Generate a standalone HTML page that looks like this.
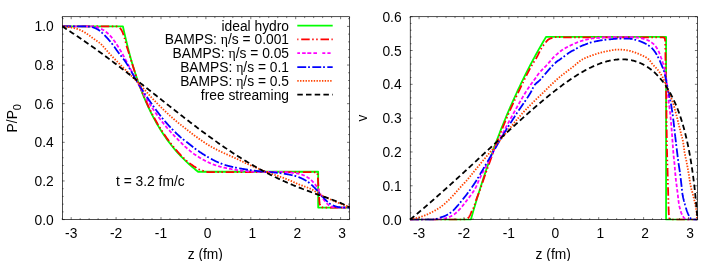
<!DOCTYPE html>
<html><head><meta charset="utf-8"><title>plot</title>
<style>
html,body{margin:0;padding:0;background:#fff;}
body{width:708px;height:261px;overflow:hidden;}
svg{display:block;}
text{font-family:"Liberation Sans",sans-serif;font-size:13.8px;fill:#000;}
.sym{font-family:"Liberation Serif",serif;}
</style></head><body>
<svg width="708" height="261" viewBox="0 0 708 261">
<rect width="708" height="261" fill="#fff"/>
<g style="opacity:0.999">
<clipPath id="cl"><rect x="61.2" y="15.7" width="289.3" height="204.9"/></clipPath>
<g clip-path="url(#cl)" fill="none" stroke-width="1.8" stroke-linejoin="round">
<path d="M62.20,26.40 L122.93,26.40 L124.21,32.20 L125.48,37.74 L126.76,43.05 L128.03,48.13 L129.30,52.99 L130.58,57.66 L131.85,62.14 L133.13,66.44 L134.40,70.58 L135.67,74.56 L136.95,78.38 L138.22,82.07 L139.50,85.62 L140.77,89.05 L142.04,92.35 L143.32,95.54 L144.59,98.62 L145.87,101.60 L147.14,104.48 L148.41,107.26 L149.69,109.96 L150.96,112.57 L152.24,115.09 L153.51,117.54 L154.79,119.91 L156.06,122.21 L157.33,124.45 L158.61,126.61 L159.88,128.72 L161.16,130.76 L162.43,132.75 L163.70,134.68 L164.98,136.55 L166.25,138.38 L167.53,140.15 L168.80,141.88 L170.07,143.56 L171.35,145.20 L172.62,146.80 L173.90,148.35 L175.17,149.87 L176.44,151.35 L177.72,152.79 L178.99,154.19 L180.27,155.56 L181.54,156.90 L182.81,158.21 L184.09,159.48 L185.36,160.73 L186.64,161.94 L187.91,163.13 L189.18,164.29 L190.46,165.43 L191.73,166.54 L193.01,167.62 L194.28,168.68 L195.55,169.72 L196.83,170.74 L198.10,171.73 L318.17,171.73 L318.17,207.53 L349.60,207.53" stroke="#00ff00"/>
<path d="M62.20,26.40 L62.61,26.40 L63.01,26.40 L63.42,26.40 L63.83,26.40 L64.24,26.40 L64.64,26.40 L65.05,26.40 L65.45,26.40 L65.86,26.40 L66.27,26.40 L66.67,26.40 L67.08,26.40 L67.48,26.40 L67.89,26.40 L68.30,26.40 L68.70,26.40 L69.11,26.40 L69.51,26.40 L69.92,26.40 L70.32,26.40 L70.73,26.40 L71.13,26.40 L71.53,26.40 L71.94,26.40 L72.34,26.40 L72.75,26.40 L73.15,26.40 L73.55,26.40 L73.96,26.40 L74.36,26.40 L74.76,26.40 L75.17,26.40 L75.57,26.40 L75.97,26.40 L76.38,26.40 L76.78,26.40 L77.18,26.40 L77.58,26.40 L77.99,26.40 L78.39,26.40 L78.79,26.40 L79.19,26.40 L79.60,26.40 L80.00,26.40 L80.40,26.40 L80.80,26.40 L81.20,26.40 L81.60,26.40 L82.00,26.40 L82.41,26.40 L82.81,26.40 L83.21,26.40 L83.61,26.40 L84.01,26.40 L84.41,26.40 L84.81,26.40 L85.21,26.40 L85.61,26.40 L86.01,26.40 L86.41,26.40 L86.81,26.40 L87.21,26.40 L87.61,26.40 L88.01,26.40 L88.41,26.40 L88.81,26.40 L89.21,26.40 L89.61,26.40 L90.01,26.40 L90.41,26.40 L90.81,26.40 L91.21,26.40 L91.61,26.40 L92.00,26.40 L92.40,26.40 L92.80,26.40 L93.20,26.40 L93.60,26.40 L94.00,26.40 L94.40,26.40 L94.79,26.40 L95.19,26.40 L95.59,26.40 L95.99,26.40 L96.39,26.40 L96.78,26.40 L97.18,26.40 L97.58,26.40 L97.98,26.40 L98.37,26.40 L98.77,26.40 L99.17,26.40 L99.57,26.40 L99.96,26.40 L100.36,26.40 L100.76,26.40 L101.16,26.40 L101.55,26.40 L101.95,26.40 L102.35,26.40 L102.74,26.40 L103.14,26.40 L103.54,26.40 L103.93,26.40 L104.33,26.40 L104.73,26.40 L105.12,26.40 L105.52,26.40 L105.91,26.40 L106.31,26.40 L106.71,26.40 L107.10,26.40 L107.50,26.40 L107.89,26.40 L108.29,26.40 L108.69,26.40 L109.08,26.40 L109.48,26.40 L109.87,26.40 L110.27,26.40 L110.66,26.40 L111.06,26.40 L111.46,26.40 L111.85,26.40 L112.25,26.40 L112.64,26.40 L113.04,26.40 L113.43,26.40 L113.83,26.40 L114.22,26.40 L114.62,26.40 L115.01,26.40 L115.41,26.40 L115.80,26.40 L116.20,26.40 L116.61,26.44 L117.01,26.50 L117.42,26.58 L117.82,26.68 L118.19,26.80 L118.54,26.92 L118.87,27.08 L119.19,27.32 L119.50,27.59 L119.80,27.90 L120.07,28.21 L120.34,28.53 L120.59,28.83 L120.82,29.14 L121.06,29.47 L121.28,29.81 L121.49,30.16 L121.69,30.51 L121.88,30.87 L122.06,31.22 L122.23,31.58 L122.39,31.94 L122.55,32.31 L122.70,32.68 L122.84,33.05 L122.98,33.43 L123.12,33.81 L123.25,34.19 L123.38,34.57 L123.51,34.95 L123.64,35.32 L123.77,35.70 L123.89,36.08 L124.02,36.46 L124.14,36.85 L124.25,37.23 L124.37,37.61 L124.48,38.00 L124.60,38.38 L124.71,38.76 L124.82,39.15 L124.93,39.53 L125.03,39.92 L125.14,40.30 L125.24,40.69 L125.34,41.08 L125.44,41.47 L125.53,41.85 L125.63,42.24 L125.72,42.63 L125.82,43.02 L125.91,43.41 L126.01,43.80 L126.11,44.19 L126.21,44.57 L126.31,44.96 L126.41,45.35 L126.52,45.73 L126.62,46.12 L126.74,46.50 L126.86,46.88 L126.98,47.26 L127.10,47.64 L127.23,48.03 L127.35,48.41 L127.47,48.79 L127.59,49.17 L127.72,49.55 L127.84,49.93 L127.96,50.31 L128.08,50.69 L128.21,51.07 L128.33,51.45 L128.45,51.83 L128.57,52.21 L128.69,52.60 L128.82,52.98 L128.94,53.36 L129.06,53.74 L129.18,54.12 L129.31,54.50 L129.43,54.88 L129.55,55.26 L129.67,55.64 L129.79,56.02 L129.91,56.40 L130.03,56.79 L130.16,57.17 L130.28,57.55 L130.39,57.93 L130.51,58.31 L130.63,58.69 L130.75,59.08 L130.87,59.46 L130.99,59.84 L131.11,60.22 L131.22,60.61 L131.34,60.99 L131.46,61.37 L131.58,61.75 L131.70,62.13 L131.82,62.52 L131.93,62.90 L132.05,63.28 L132.17,63.66 L132.29,64.04 L132.41,64.42 L132.53,64.81 L132.65,65.19 L132.77,65.57 L132.89,65.95 L133.01,66.33 L133.14,66.71 L133.26,67.09 L133.38,67.48 L133.50,67.86 L133.62,68.24 L133.75,68.62 L133.87,69.00 L133.99,69.38 L134.12,69.76 L134.24,70.14 L134.36,70.52 L134.49,70.90 L134.61,71.28 L134.74,71.66 L134.86,72.04 L134.99,72.42 L135.12,72.80 L135.24,73.18 L135.37,73.56 L135.50,73.94 L135.62,74.32 L135.75,74.70 L135.88,75.07 L136.01,75.45 L136.14,75.83 L136.27,76.21 L136.40,76.59 L136.53,76.97 L136.66,77.34 L136.79,77.72 L136.92,78.10 L137.05,78.48 L137.18,78.86 L137.32,79.23 L137.45,79.61 L137.58,79.99 L137.72,80.36 L137.85,80.74 L137.99,81.12 L138.12,81.49 L138.26,81.87 L138.40,82.25 L138.53,82.62 L138.67,83.00 L138.81,83.37 L138.95,83.75 L139.08,84.12 L139.22,84.50 L139.36,84.87 L139.50,85.25 L139.64,85.62 L139.78,86.00 L139.93,86.37 L140.07,86.74 L140.21,87.12 L140.35,87.49 L140.50,87.86 L140.64,88.24 L140.79,88.61 L140.93,88.98 L141.08,89.36 L141.23,89.73 L141.37,90.10 L141.52,90.47 L141.67,90.84 L141.82,91.21 L141.97,91.59 L142.12,91.96 L142.27,92.33 L142.42,92.70 L142.57,93.07 L142.72,93.44 L142.87,93.81 L143.03,94.18 L143.18,94.55 L143.33,94.92 L143.49,95.29 L143.64,95.65 L143.80,96.02 L143.95,96.39 L144.11,96.76 L144.27,97.13 L144.42,97.50 L144.58,97.86 L144.74,98.23 L144.90,98.60 L145.06,98.96 L145.22,99.33 L145.38,99.70 L145.54,100.06 L145.70,100.43 L145.87,100.79 L146.03,101.16 L146.19,101.52 L146.36,101.89 L146.52,102.25 L146.69,102.62 L146.85,102.98 L147.02,103.35 L147.19,103.71 L147.35,104.07 L147.52,104.44 L147.69,104.80 L147.86,105.16 L148.03,105.52 L148.20,105.88 L148.37,106.25 L148.54,106.61 L148.71,106.97 L148.89,107.33 L149.06,107.69 L149.23,108.05 L149.41,108.41 L149.58,108.77 L149.76,109.13 L149.93,109.49 L150.11,109.85 L150.29,110.21 L150.46,110.56 L150.64,110.92 L150.82,111.28 L151.00,111.64 L151.18,111.99 L151.36,112.35 L151.54,112.71 L151.73,113.06 L151.91,113.42 L152.09,113.78 L152.28,114.13 L152.46,114.49 L152.65,114.84 L152.83,115.19 L153.02,115.55 L153.21,115.90 L153.39,116.26 L153.58,116.61 L153.77,116.96 L153.96,117.31 L154.15,117.66 L154.34,118.02 L154.53,118.37 L154.72,118.72 L154.92,119.07 L155.11,119.42 L155.30,119.77 L155.50,120.12 L155.69,120.47 L155.89,120.82 L156.09,121.16 L156.28,121.51 L156.48,121.86 L156.68,122.21 L156.88,122.55 L157.08,122.90 L157.28,123.25 L157.48,123.59 L157.68,123.94 L157.89,124.28 L158.09,124.63 L158.29,124.97 L158.50,125.32 L158.70,125.66 L158.91,126.00 L159.12,126.34 L159.32,126.69 L159.53,127.03 L159.74,127.37 L159.95,127.71 L160.16,128.05 L160.37,128.39 L160.58,128.73 L160.79,129.07 L161.01,129.41 L161.22,129.75 L161.44,130.08 L161.65,130.42 L161.87,130.76 L162.08,131.09 L162.30,131.43 L162.52,131.76 L162.74,132.10 L162.96,132.43 L163.18,132.77 L163.40,133.10 L163.62,133.43 L163.84,133.77 L164.06,134.10 L164.29,134.43 L164.51,134.76 L164.74,135.09 L164.96,135.42 L165.19,135.75 L165.42,136.08 L165.65,136.41 L165.88,136.74 L166.11,137.06 L166.34,137.39 L166.57,137.72 L166.80,138.04 L167.03,138.37 L167.27,138.69 L167.50,139.02 L167.73,139.34 L167.97,139.66 L168.21,139.99 L168.44,140.31 L168.68,140.63 L168.92,140.95 L169.16,141.27 L169.40,141.59 L169.64,141.91 L169.88,142.23 L170.13,142.55 L170.37,142.86 L170.61,143.18 L170.86,143.50 L171.10,143.81 L171.35,144.13 L171.60,144.44 L171.85,144.76 L172.09,145.07 L172.34,145.38 L172.59,145.70 L172.85,146.01 L173.10,146.32 L173.35,146.63 L173.60,146.94 L173.86,147.25 L174.11,147.55 L174.37,147.86 L174.62,148.17 L174.88,148.48 L175.14,148.78 L175.40,149.09 L175.66,149.39 L175.92,149.69 L176.18,150.00 L176.44,150.30 L176.70,150.60 L176.97,150.90 L177.23,151.20 L177.50,151.50 L177.76,151.80 L178.03,152.10 L178.29,152.40 L178.56,152.70 L178.83,152.99 L179.10,153.29 L179.37,153.58 L179.64,153.88 L179.91,154.17 L180.19,154.46 L180.46,154.76 L180.73,155.05 L181.01,155.34 L181.28,155.63 L181.56,155.92 L181.84,156.21 L182.11,156.49 L182.39,156.78 L182.67,157.07 L182.95,157.35 L183.23,157.64 L183.51,157.93 L183.79,158.22 L184.06,158.51 L184.35,158.79 L184.63,159.08 L184.92,159.36 L185.21,159.63 L185.50,159.90 L185.80,160.16 L186.10,160.42 L186.40,160.68 L186.71,160.94 L187.01,161.19 L187.32,161.45 L187.63,161.70 L187.94,161.95 L188.26,162.20 L188.57,162.44 L188.89,162.69 L189.21,162.93 L189.53,163.17 L189.85,163.41 L190.17,163.65 L190.50,163.89 L190.82,164.13 L191.15,164.36 L191.47,164.60 L191.80,164.83 L192.13,165.06 L192.46,165.29 L192.79,165.52 L193.12,165.74 L193.45,165.97 L193.78,166.19 L194.12,166.41 L194.45,166.64 L194.78,166.86 L195.11,167.08 L195.45,167.30 L195.78,167.52 L196.12,167.74 L196.46,167.96 L196.80,168.18 L197.14,168.39 L197.48,168.60 L197.83,168.80 L198.18,168.99 L198.53,169.18 L198.89,169.35 L199.25,169.51 L199.61,169.66 L199.98,169.81 L200.35,169.95 L200.73,170.09 L201.11,170.23 L201.49,170.36 L201.87,170.48 L202.26,170.60 L202.64,170.72 L203.03,170.84 L203.41,170.95 L203.79,171.06 L204.18,171.17 L204.57,171.29 L204.95,171.41 L205.34,171.53 L205.73,171.65 L206.12,171.75 L206.51,171.84 L206.90,171.92 L207.30,171.98 L207.69,172.02 L208.08,172.03 L208.48,172.03 L208.87,172.03 L209.26,172.03 L209.66,172.03 L210.05,172.03 L210.44,172.03 L210.84,172.03 L211.23,172.03 L211.63,172.04 L212.02,172.04 L212.41,172.04 L212.81,172.04 L213.20,172.04 L213.60,172.04 L213.99,172.04 L214.39,172.04 L214.78,172.04 L215.18,172.04 L215.57,172.05 L215.97,172.05 L216.36,172.05 L216.76,172.05 L217.16,172.05 L217.55,172.05 L217.95,172.05 L218.34,172.05 L218.74,172.05 L219.14,172.05 L219.53,172.05 L219.93,172.05 L220.32,172.06 L220.72,172.06 L221.12,172.06 L221.51,172.06 L221.91,172.06 L222.31,172.06 L222.70,172.06 L223.10,172.06 L223.50,172.06 L223.90,172.06 L224.29,172.06 L224.69,172.06 L225.09,172.06 L225.49,172.06 L225.88,172.06 L226.28,172.07 L226.68,172.07 L227.08,172.07 L227.48,172.07 L227.87,172.07 L228.27,172.07 L228.67,172.07 L229.07,172.07 L229.47,172.07 L229.87,172.07 L230.26,172.07 L230.66,172.07 L231.06,172.07 L231.46,172.07 L231.86,172.07 L232.26,172.07 L232.66,172.07 L233.06,172.07 L233.46,172.07 L233.85,172.07 L234.25,172.07 L234.65,172.07 L235.05,172.07 L235.45,172.08 L235.85,172.08 L236.25,172.08 L236.65,172.08 L237.05,172.08 L237.45,172.08 L237.85,172.08 L238.25,172.08 L238.65,172.08 L239.05,172.08 L239.45,172.08 L239.85,172.08 L240.25,172.08 L240.65,172.08 L241.05,172.08 L241.45,172.08 L241.85,172.08 L242.25,172.08 L242.65,172.08 L243.05,172.08 L243.46,172.08 L243.86,172.08 L244.26,172.08 L244.66,172.08 L245.06,172.08 L245.46,172.08 L245.86,172.08 L246.26,172.08 L246.66,172.08 L247.06,172.08 L247.46,172.08 L247.87,172.08 L248.27,172.08 L248.67,172.08 L249.07,172.08 L249.47,172.08 L249.87,172.08 L250.27,172.08 L250.67,172.08 L251.08,172.08 L251.48,172.08 L251.88,172.08 L252.28,172.08 L252.68,172.08 L253.08,172.08 L253.49,172.08 L253.89,172.08 L254.29,172.08 L254.69,172.08 L255.09,172.08 L255.49,172.08 L255.90,172.08 L256.30,172.08 L256.70,172.09 L257.10,172.09 L257.50,172.09 L257.91,172.09 L258.31,172.09 L258.71,172.09 L259.11,172.09 L259.51,172.09 L259.92,172.09 L260.32,172.09 L260.72,172.09 L261.12,172.09 L261.52,172.09 L261.93,172.09 L262.33,172.09 L262.73,172.09 L263.13,172.09 L263.54,172.09 L263.94,172.09 L264.34,172.09 L264.74,172.09 L265.14,172.09 L265.55,172.09 L265.95,172.09 L266.35,172.09 L266.75,172.09 L267.16,172.09 L267.56,172.09 L267.96,172.09 L268.36,172.09 L268.76,172.09 L269.17,172.09 L269.57,172.09 L269.97,172.09 L270.37,172.09 L270.78,172.09 L271.18,172.09 L271.58,172.09 L271.98,172.09 L272.39,172.09 L272.79,172.09 L273.19,172.09 L273.59,172.09 L273.99,172.09 L274.40,172.09 L274.80,172.09 L275.20,172.09 L275.60,172.09 L276.01,172.09 L276.41,172.09 L276.81,172.09 L277.21,172.09 L277.61,172.09 L278.02,172.09 L278.42,172.09 L278.82,172.09 L279.22,172.09 L279.62,172.10 L280.03,172.10 L280.43,172.10 L280.83,172.10 L281.23,172.10 L281.63,172.10 L282.04,172.10 L282.44,172.10 L282.84,172.10 L283.24,172.10 L283.64,172.10 L284.05,172.10 L284.45,172.10 L284.85,172.10 L285.25,172.10 L285.65,172.10 L286.05,172.10 L286.46,172.10 L286.86,172.10 L287.26,172.10 L287.66,172.10 L288.06,172.10 L288.46,172.10 L288.86,172.10 L289.27,172.11 L289.67,172.11 L290.07,172.11 L290.47,172.11 L290.87,172.11 L291.27,172.11 L291.67,172.11 L292.07,172.11 L292.47,172.11 L292.88,172.11 L293.28,172.11 L293.68,172.11 L294.08,172.11 L294.48,172.11 L294.88,172.11 L295.28,172.12 L295.68,172.12 L296.08,172.12 L296.48,172.12 L296.88,172.12 L297.28,172.12 L297.68,172.12 L298.08,172.12 L298.48,172.12 L298.88,172.12 L299.28,172.12 L299.68,172.12 L300.08,172.13 L300.48,172.13 L300.88,172.13 L301.28,172.13 L301.68,172.13 L302.08,172.13 L302.48,172.13 L302.88,172.13 L303.29,172.13 L303.69,172.13 L304.09,172.14 L304.49,172.14 L304.89,172.14 L305.29,172.14 L305.69,172.14 L306.09,172.14 L306.49,172.15 L306.89,172.15 L307.29,172.15 L307.69,172.15 L308.09,172.16 L308.49,172.16 L308.89,172.16 L309.29,172.17 L309.69,172.17 L310.09,172.17 L310.49,172.18 L310.89,172.18 L311.29,172.18 L311.69,172.19 L312.09,172.19 L312.49,172.20 L312.89,172.20 L313.29,172.21 L313.68,172.22 L314.08,172.22 L314.49,172.23 L314.92,172.24 L315.37,172.26 L315.81,172.29 L316.20,172.33 L316.52,172.38 L316.77,172.49 L317.00,172.78 L317.20,173.18 L317.36,173.63 L317.47,174.07 L317.54,174.45 L317.60,174.83 L317.65,175.22 L317.69,175.61 L317.73,176.00 L317.77,176.40 L317.80,176.81 L317.83,177.21 L317.85,177.62 L317.88,178.02 L317.90,178.43 L317.92,178.84 L317.95,179.24 L317.98,179.64 L318.00,180.04 L318.03,180.44 L318.06,180.84 L318.09,181.24 L318.11,181.64 L318.14,182.04 L318.16,182.44 L318.19,182.84 L318.21,183.24 L318.24,183.63 L318.26,184.03 L318.28,184.43 L318.30,184.83 L318.33,185.23 L318.35,185.63 L318.37,186.03 L318.39,186.43 L318.41,186.83 L318.44,187.23 L318.46,187.63 L318.48,188.03 L318.50,188.43 L318.52,188.83 L318.54,189.23 L318.57,189.63 L318.59,190.03 L318.61,190.43 L318.63,190.83 L318.66,191.22 L318.68,191.62 L318.70,192.02 L318.73,192.42 L318.75,192.82 L318.78,193.22 L318.80,193.62 L318.83,194.02 L318.86,194.42 L318.89,194.82 L318.92,195.22 L318.94,195.61 L318.97,196.01 L319.00,196.41 L319.03,196.81 L319.05,197.21 L319.08,197.61 L319.11,198.01 L319.14,198.41 L319.17,198.81 L319.20,199.21 L319.24,199.61 L319.27,200.01 L319.31,200.41 L319.34,200.81 L319.39,201.21 L319.43,201.60 L319.47,202.00 L319.52,202.39 L319.57,202.79 L319.63,203.18 L319.68,203.59 L319.75,204.01 L319.83,204.43 L319.91,204.83 L320.02,205.23 L320.13,205.59 L320.27,205.93 L320.45,206.23 L320.73,206.54 L321.07,206.81 L321.43,207.02 L321.78,207.17 L322.15,207.29 L322.55,207.40 L322.95,207.48 L323.36,207.52 L323.75,207.53 L324.14,207.53 L324.54,207.53 L324.93,207.53 L325.33,207.53 L325.72,207.53 L326.12,207.53 L326.51,207.53 L326.91,207.53 L327.30,207.53 L327.70,207.53 L328.09,207.53 L328.49,207.53 L328.88,207.53 L329.28,207.53 L329.67,207.53 L330.07,207.53 L330.47,207.53 L330.86,207.53 L331.26,207.53 L331.65,207.53 L332.05,207.53 L332.45,207.53 L332.85,207.53 L333.24,207.53 L333.64,207.53 L334.04,207.53 L334.44,207.53 L334.84,207.53 L335.23,207.53 L335.63,207.53 L336.03,207.53 L336.43,207.53 L336.83,207.53 L337.23,207.53 L337.63,207.53 L338.03,207.53 L338.43,207.53 L338.83,207.53 L339.23,207.53 L339.63,207.53 L340.04,207.53 L340.44,207.53 L340.84,207.53 L341.24,207.53 L341.64,207.53 L342.05,207.53 L342.45,207.53 L342.85,207.53 L343.26,207.53 L343.66,207.53 L344.07,207.53 L344.47,207.53 L344.88,207.53 L345.28,207.53 L345.69,207.53 L346.09,207.53 L346.50,207.53 L346.91,207.53 L347.31,207.53 L347.72,207.53 L348.13,207.53 L348.53,207.53 L348.94,207.53 L349.35,207.53 L349.50,207.53" stroke="#ff0000" stroke-dasharray="8.5 2.5 1.5 2.5 1.5 2.8"/>
<path d="M62.20,26.40 L62.60,26.40 L63.01,26.40 L63.41,26.40 L63.81,26.40 L64.22,26.40 L64.62,26.40 L65.02,26.40 L65.42,26.40 L65.83,26.40 L66.23,26.40 L66.63,26.40 L67.03,26.40 L67.43,26.40 L67.84,26.40 L68.24,26.40 L68.64,26.40 L69.04,26.40 L69.44,26.40 L69.84,26.40 L70.24,26.40 L70.65,26.40 L71.05,26.40 L71.45,26.40 L71.85,26.40 L72.25,26.40 L72.65,26.40 L73.05,26.40 L73.45,26.40 L73.85,26.40 L74.25,26.40 L74.65,26.40 L75.05,26.40 L75.45,26.40 L75.85,26.40 L76.25,26.40 L76.65,26.40 L77.05,26.40 L77.45,26.40 L77.85,26.40 L78.25,26.40 L78.65,26.40 L79.05,26.40 L79.45,26.40 L79.85,26.40 L80.25,26.40 L80.65,26.40 L81.05,26.40 L81.45,26.40 L81.85,26.40 L82.24,26.40 L82.64,26.40 L83.04,26.40 L83.44,26.40 L83.84,26.40 L84.24,26.40 L84.64,26.40 L85.03,26.40 L85.43,26.40 L85.83,26.40 L86.23,26.40 L86.63,26.40 L87.03,26.40 L87.42,26.40 L87.82,26.40 L88.22,26.40 L88.62,26.40 L89.02,26.40 L89.41,26.40 L89.81,26.40 L90.21,26.40 L90.61,26.40 L91.01,26.40 L91.40,26.40 L91.80,26.40 L92.20,26.40 L92.60,26.41 L93.00,26.44 L93.40,26.47 L93.80,26.52 L94.20,26.57 L94.60,26.63 L95.00,26.70 L95.40,26.77 L95.79,26.84 L96.18,26.92 L96.57,27.01 L96.95,27.09 L97.33,27.19 L97.71,27.31 L98.08,27.45 L98.45,27.61 L98.82,27.78 L99.19,27.95 L99.55,28.13 L99.91,28.31 L100.27,28.48 L100.63,28.65 L100.99,28.83 L101.36,29.00 L101.72,29.18 L102.08,29.37 L102.43,29.55 L102.79,29.74 L103.14,29.94 L103.49,30.14 L103.83,30.34 L104.17,30.55 L104.50,30.77 L104.82,30.99 L105.15,31.21 L105.47,31.44 L105.78,31.68 L106.10,31.93 L106.41,32.18 L106.72,32.44 L107.03,32.70 L107.33,32.96 L107.63,33.23 L107.93,33.50 L108.22,33.78 L108.52,34.06 L108.81,34.34 L109.09,34.63 L109.38,34.91 L109.66,35.20 L109.94,35.49 L110.21,35.78 L110.49,36.07 L110.75,36.36 L111.02,36.65 L111.28,36.95 L111.54,37.26 L111.80,37.56 L112.05,37.88 L112.30,38.19 L112.54,38.51 L112.79,38.83 L113.03,39.15 L113.27,39.47 L113.50,39.80 L113.74,40.12 L113.97,40.45 L114.21,40.77 L114.44,41.10 L114.67,41.42 L114.90,41.75 L115.13,42.08 L115.36,42.40 L115.58,42.73 L115.81,43.07 L116.03,43.40 L116.25,43.73 L116.47,44.06 L116.69,44.40 L116.91,44.73 L117.13,45.07 L117.35,45.41 L117.56,45.74 L117.78,46.08 L117.99,46.42 L118.20,46.76 L118.41,47.10 L118.62,47.44 L118.83,47.78 L119.04,48.12 L119.25,48.47 L119.46,48.81 L119.67,49.15 L119.87,49.49 L120.08,49.83 L120.28,50.18 L120.49,50.52 L120.69,50.87 L120.89,51.21 L121.09,51.56 L121.29,51.91 L121.48,52.25 L121.68,52.60 L121.87,52.95 L122.07,53.30 L122.26,53.65 L122.46,54.00 L122.65,54.35 L122.84,54.70 L123.03,55.06 L123.23,55.41 L123.42,55.76 L123.61,56.11 L123.80,56.46 L124.00,56.81 L124.19,57.16 L124.38,57.51 L124.57,57.86 L124.76,58.21 L124.95,58.57 L125.14,58.92 L125.33,59.27 L125.52,59.62 L125.71,59.97 L125.90,60.33 L126.09,60.68 L126.28,61.03 L126.47,61.38 L126.66,61.74 L126.84,62.09 L127.03,62.44 L127.22,62.80 L127.41,63.15 L127.60,63.50 L127.78,63.86 L127.97,64.21 L128.16,64.56 L128.34,64.92 L128.53,65.27 L128.72,65.63 L128.90,65.98 L129.09,66.33 L129.27,66.69 L129.46,67.04 L129.64,67.40 L129.83,67.75 L130.02,68.11 L130.20,68.46 L130.39,68.82 L130.57,69.17 L130.76,69.52 L130.94,69.88 L131.13,70.23 L131.31,70.59 L131.49,70.94 L131.68,71.30 L131.86,71.65 L132.05,72.01 L132.23,72.36 L132.42,72.72 L132.60,73.07 L132.79,73.43 L132.97,73.78 L133.16,74.14 L133.34,74.49 L133.53,74.85 L133.71,75.20 L133.90,75.55 L134.09,75.91 L134.27,76.26 L134.46,76.62 L134.64,76.97 L134.83,77.33 L135.02,77.68 L135.20,78.03 L135.39,78.39 L135.58,78.74 L135.76,79.09 L135.95,79.45 L136.14,79.80 L136.33,80.15 L136.51,80.51 L136.70,80.86 L136.89,81.21 L137.08,81.56 L137.27,81.92 L137.46,82.27 L137.65,82.62 L137.84,82.98 L138.02,83.33 L138.21,83.68 L138.40,84.04 L138.59,84.39 L138.77,84.74 L138.96,85.10 L139.15,85.45 L139.34,85.81 L139.52,86.16 L139.71,86.51 L139.90,86.87 L140.08,87.22 L140.27,87.58 L140.46,87.93 L140.65,88.29 L140.83,88.64 L141.02,88.99 L141.21,89.35 L141.40,89.70 L141.59,90.05 L141.78,90.41 L141.97,90.76 L142.15,91.11 L142.34,91.47 L142.54,91.82 L142.73,92.17 L142.92,92.52 L143.11,92.87 L143.30,93.23 L143.49,93.58 L143.69,93.93 L143.88,94.28 L144.07,94.63 L144.27,94.97 L144.47,95.32 L144.66,95.67 L144.86,96.02 L145.06,96.37 L145.26,96.71 L145.45,97.06 L145.65,97.40 L145.86,97.75 L146.06,98.09 L146.26,98.44 L146.46,98.78 L146.67,99.12 L146.87,99.46 L147.08,99.80 L147.29,100.14 L147.50,100.48 L147.71,100.82 L147.91,101.16 L148.12,101.50 L148.34,101.84 L148.55,102.18 L148.76,102.52 L148.97,102.86 L149.18,103.20 L149.40,103.54 L149.61,103.87 L149.83,104.21 L150.04,104.55 L150.26,104.89 L150.47,105.22 L150.69,105.56 L150.91,105.90 L151.13,106.23 L151.35,106.57 L151.56,106.90 L151.78,107.24 L152.01,107.57 L152.23,107.91 L152.45,108.24 L152.67,108.58 L152.89,108.91 L153.12,109.24 L153.34,109.58 L153.56,109.91 L153.79,110.24 L154.02,110.57 L154.24,110.90 L154.47,111.24 L154.70,111.57 L154.92,111.90 L155.15,112.23 L155.38,112.56 L155.61,112.89 L155.84,113.21 L156.07,113.54 L156.30,113.87 L156.53,114.20 L156.77,114.52 L157.00,114.85 L157.23,115.18 L157.47,115.50 L157.70,115.83 L157.93,116.15 L158.17,116.48 L158.41,116.80 L158.64,117.12 L158.88,117.44 L159.12,117.77 L159.36,118.09 L159.59,118.41 L159.83,118.73 L160.07,119.05 L160.31,119.37 L160.55,119.69 L160.80,120.01 L161.04,120.32 L161.28,120.64 L161.52,120.96 L161.77,121.27 L162.01,121.59 L162.25,121.90 L162.50,122.22 L162.74,122.53 L162.99,122.84 L163.24,123.15 L163.48,123.47 L163.73,123.78 L163.98,124.09 L164.23,124.40 L164.48,124.71 L164.74,125.02 L164.99,125.33 L165.24,125.64 L165.50,125.94 L165.75,126.25 L166.01,126.56 L166.27,126.87 L166.53,127.17 L166.78,127.48 L167.04,127.78 L167.30,128.09 L167.56,128.39 L167.83,128.70 L168.09,129.00 L168.35,129.30 L168.62,129.61 L168.88,129.91 L169.14,130.21 L169.41,130.51 L169.68,130.81 L169.94,131.11 L170.21,131.41 L170.48,131.71 L170.75,132.01 L171.02,132.30 L171.29,132.60 L171.56,132.90 L171.83,133.19 L172.10,133.49 L172.38,133.78 L172.65,134.07 L172.92,134.37 L173.20,134.66 L173.47,134.95 L173.75,135.24 L174.02,135.53 L174.30,135.82 L174.57,136.11 L174.85,136.40 L175.13,136.69 L175.41,136.97 L175.69,137.26 L175.96,137.55 L176.24,137.83 L176.52,138.12 L176.80,138.40 L177.08,138.68 L177.36,138.96 L177.65,139.25 L177.93,139.53 L178.21,139.81 L178.49,140.10 L178.77,140.38 L179.06,140.66 L179.34,140.95 L179.62,141.23 L179.91,141.52 L180.19,141.80 L180.48,142.08 L180.76,142.37 L181.05,142.65 L181.34,142.94 L181.62,143.22 L181.91,143.50 L182.20,143.78 L182.49,144.07 L182.78,144.35 L183.07,144.63 L183.36,144.91 L183.65,145.19 L183.94,145.47 L184.24,145.74 L184.53,146.02 L184.82,146.30 L185.12,146.57 L185.41,146.85 L185.71,147.12 L186.01,147.40 L186.30,147.67 L186.60,147.94 L186.90,148.21 L187.20,148.48 L187.50,148.74 L187.80,149.01 L188.11,149.27 L188.41,149.53 L188.71,149.80 L189.02,150.06 L189.32,150.31 L189.63,150.57 L189.94,150.82 L190.25,151.08 L190.56,151.33 L190.87,151.58 L191.18,151.83 L191.49,152.07 L191.80,152.32 L192.12,152.56 L192.43,152.80 L192.75,153.04 L193.06,153.27 L193.38,153.50 L193.70,153.74 L194.02,153.96 L194.34,154.19 L194.67,154.42 L194.99,154.64 L195.32,154.86 L195.64,155.08 L195.97,155.30 L196.30,155.52 L196.63,155.74 L196.97,155.96 L197.30,156.18 L197.64,156.39 L197.98,156.61 L198.31,156.82 L198.65,157.03 L198.99,157.24 L199.34,157.45 L199.68,157.66 L200.03,157.87 L200.37,158.08 L200.72,158.28 L201.07,158.49 L201.41,158.69 L201.76,158.89 L202.12,159.09 L202.47,159.29 L202.82,159.49 L203.17,159.68 L203.53,159.88 L203.88,160.07 L204.24,160.26 L204.60,160.45 L204.95,160.64 L205.31,160.82 L205.67,161.01 L206.03,161.19 L206.39,161.37 L206.75,161.55 L207.11,161.72 L207.47,161.90 L207.83,162.07 L208.20,162.24 L208.56,162.41 L208.92,162.58 L209.28,162.75 L209.65,162.91 L210.01,163.07 L210.38,163.23 L210.74,163.39 L211.10,163.54 L211.47,163.70 L211.84,163.85 L212.21,164.00 L212.58,164.15 L212.95,164.29 L213.32,164.44 L213.70,164.58 L214.07,164.72 L214.45,164.86 L214.82,165.00 L215.20,165.13 L215.58,165.27 L215.96,165.40 L216.34,165.53 L216.72,165.65 L217.11,165.78 L217.49,165.90 L217.87,166.02 L218.25,166.14 L218.64,166.25 L219.02,166.36 L219.40,166.47 L219.79,166.58 L220.17,166.69 L220.56,166.79 L220.94,166.89 L221.33,166.99 L221.72,167.09 L222.11,167.19 L222.50,167.28 L222.89,167.38 L223.28,167.47 L223.67,167.56 L224.06,167.65 L224.45,167.73 L224.84,167.82 L225.23,167.90 L225.62,167.98 L226.02,168.07 L226.41,168.14 L226.80,168.22 L227.19,168.30 L227.58,168.37 L227.98,168.45 L228.37,168.52 L228.76,168.60 L229.16,168.68 L229.55,168.75 L229.94,168.83 L230.33,168.90 L230.73,168.97 L231.12,169.05 L231.52,169.12 L231.91,169.19 L232.30,169.27 L232.70,169.34 L233.09,169.41 L233.49,169.48 L233.88,169.55 L234.28,169.62 L234.67,169.69 L235.07,169.76 L235.46,169.82 L235.86,169.89 L236.25,169.95 L236.65,170.02 L237.04,170.08 L237.44,170.14 L237.84,170.20 L238.23,170.26 L238.63,170.32 L239.03,170.38 L239.42,170.43 L239.82,170.49 L240.22,170.54 L240.61,170.59 L241.01,170.64 L241.41,170.69 L241.80,170.73 L242.20,170.78 L242.60,170.82 L242.99,170.86 L243.39,170.90 L243.79,170.94 L244.19,170.97 L244.58,171.01 L244.98,171.04 L245.38,171.07 L245.78,171.11 L246.17,171.14 L246.57,171.17 L246.97,171.20 L247.37,171.23 L247.77,171.26 L248.17,171.29 L248.57,171.32 L248.97,171.35 L249.37,171.38 L249.76,171.41 L250.16,171.44 L250.56,171.46 L250.96,171.49 L251.36,171.51 L251.76,171.54 L252.16,171.56 L252.56,171.58 L252.96,171.60 L253.36,171.62 L253.76,171.64 L254.16,171.65 L254.56,171.67 L254.96,171.68 L255.36,171.69 L255.76,171.70 L256.16,171.71 L256.56,171.72 L256.96,171.72 L257.36,171.73 L257.76,171.73 L258.16,171.74 L258.56,171.74 L258.96,171.74 L259.36,171.74 L259.76,171.75 L260.16,171.75 L260.56,171.75 L260.96,171.75 L261.36,171.76 L261.76,171.76 L262.16,171.76 L262.56,171.76 L262.96,171.76 L263.36,171.76 L263.76,171.76 L264.16,171.77 L264.56,171.77 L264.96,171.77 L265.36,171.77 L265.76,171.77 L266.16,171.77 L266.56,171.77 L266.96,171.77 L267.36,171.77 L267.76,171.77 L268.16,171.78 L268.56,171.78 L268.96,171.78 L269.36,171.78 L269.76,171.78 L270.16,171.78 L270.56,171.78 L270.96,171.78 L271.36,171.78 L271.76,171.79 L272.16,171.79 L272.56,171.79 L272.96,171.79 L273.36,171.79 L273.76,171.79 L274.16,171.80 L274.56,171.80 L274.96,171.80 L275.36,171.80 L275.76,171.81 L276.16,171.81 L276.56,171.81 L276.96,171.82 L277.36,171.82 L277.76,171.82 L278.16,171.83 L278.56,171.83 L278.96,171.84 L279.36,171.85 L279.76,171.86 L280.16,171.88 L280.56,171.89 L280.96,171.91 L281.36,171.93 L281.76,171.95 L282.16,171.97 L282.56,171.99 L282.96,172.01 L283.36,172.04 L283.76,172.06 L284.16,172.08 L284.56,172.11 L284.96,172.13 L285.35,172.16 L285.75,172.18 L286.15,172.21 L286.55,172.24 L286.95,172.26 L287.35,172.29 L287.75,172.32 L288.15,172.35 L288.55,172.39 L288.95,172.42 L289.34,172.46 L289.74,172.50 L290.14,172.53 L290.54,172.57 L290.94,172.61 L291.34,172.65 L291.73,172.70 L292.13,172.74 L292.53,172.79 L292.93,172.83 L293.32,172.88 L293.72,172.93 L294.12,172.98 L294.51,173.03 L294.91,173.08 L295.31,173.14 L295.71,173.20 L296.10,173.26 L296.50,173.32 L296.89,173.39 L297.29,173.46 L297.68,173.53 L298.07,173.61 L298.46,173.69 L298.85,173.77 L299.24,173.85 L299.63,173.95 L300.01,174.05 L300.40,174.16 L300.79,174.27 L301.17,174.39 L301.55,174.51 L301.94,174.64 L302.32,174.78 L302.69,174.92 L303.07,175.06 L303.44,175.21 L303.81,175.36 L304.18,175.52 L304.54,175.67 L304.90,175.84 L305.26,176.01 L305.62,176.19 L305.97,176.38 L306.32,176.57 L306.67,176.77 L307.02,176.98 L307.36,177.20 L307.70,177.42 L308.04,177.64 L308.37,177.87 L308.69,178.10 L309.01,178.33 L309.32,178.57 L309.63,178.81 L309.94,179.06 L310.25,179.32 L310.55,179.58 L310.85,179.84 L311.15,180.11 L311.45,180.39 L311.74,180.67 L312.03,180.95 L312.31,181.24 L312.60,181.53 L312.88,181.82 L313.15,182.12 L313.42,182.41 L313.69,182.71 L313.96,183.02 L314.22,183.32 L314.47,183.62 L314.72,183.93 L314.97,184.24 L315.22,184.55 L315.46,184.87 L315.70,185.19 L315.93,185.52 L316.16,185.85 L316.39,186.18 L316.61,186.52 L316.82,186.86 L317.03,187.20 L317.24,187.54 L317.44,187.89 L317.63,188.24 L317.81,188.59 L317.99,188.95 L318.15,189.31 L318.32,189.68 L318.48,190.04 L318.64,190.41 L318.80,190.78 L318.96,191.15 L319.12,191.52 L319.29,191.88 L319.47,192.24 L319.65,192.59 L319.83,192.95 L320.02,193.30 L320.21,193.66 L320.40,194.01 L320.59,194.37 L320.78,194.73 L320.97,195.08 L321.17,195.44 L321.37,195.79 L321.56,196.14 L321.77,196.50 L321.97,196.85 L322.18,197.19 L322.38,197.54 L322.60,197.88 L322.81,198.22 L323.03,198.56 L323.25,198.89 L323.47,199.22 L323.70,199.55 L323.93,199.87 L324.16,200.19 L324.40,200.50 L324.64,200.80 L324.89,201.11 L325.14,201.41 L325.40,201.72 L325.66,202.03 L325.93,202.34 L326.20,202.65 L326.48,202.96 L326.76,203.26 L327.05,203.56 L327.34,203.86 L327.64,204.14 L327.94,204.42 L328.25,204.69 L328.56,204.94 L328.88,205.18 L329.20,205.41 L329.52,205.62 L329.85,205.82 L330.19,205.99 L330.53,206.16 L330.88,206.33 L331.25,206.49 L331.62,206.65 L332.00,206.80 L332.39,206.94 L332.78,207.07 L333.18,207.18 L333.57,207.27 L333.97,207.34 L334.36,207.39 L334.75,207.42 L335.15,207.44 L335.55,207.46 L335.95,207.48 L336.35,207.49 L336.75,207.51 L337.15,207.52 L337.56,207.52 L337.96,207.52 L338.36,207.53 L338.76,207.53 L339.16,207.53 L339.56,207.53 L339.96,207.53 L340.36,207.53 L340.76,207.53 L341.16,207.53 L341.56,207.53 L341.96,207.53 L342.36,207.53 L342.76,207.53 L343.16,207.53 L343.56,207.53 L343.96,207.53 L344.36,207.53 L344.76,207.53 L345.16,207.53 L345.56,207.53 L345.96,207.53 L346.36,207.53 L346.76,207.53 L347.16,207.53 L347.56,207.53 L347.96,207.53 L348.36,207.53 L348.76,207.53 L349.16,207.53 L349.56,207.53 L349.70,207.53" stroke="#ff00ff" stroke-dasharray="3.6 2"/>
<path d="M62.20,26.40 L62.60,26.40 L63.00,26.40 L63.40,26.40 L63.81,26.40 L64.21,26.40 L64.61,26.40 L65.01,26.40 L65.41,26.40 L65.81,26.40 L66.21,26.40 L66.61,26.40 L67.01,26.40 L67.42,26.40 L67.82,26.40 L68.22,26.40 L68.62,26.40 L69.02,26.40 L69.42,26.40 L69.82,26.40 L70.22,26.40 L70.62,26.40 L71.02,26.40 L71.42,26.40 L71.82,26.40 L72.22,26.40 L72.62,26.40 L73.02,26.40 L73.42,26.40 L73.82,26.40 L74.22,26.40 L74.62,26.40 L75.02,26.40 L75.42,26.40 L75.82,26.40 L76.22,26.40 L76.62,26.40 L77.02,26.40 L77.42,26.40 L77.82,26.40 L78.22,26.40 L78.62,26.40 L79.02,26.40 L79.42,26.40 L79.82,26.40 L80.21,26.40 L80.61,26.40 L81.01,26.40 L81.41,26.40 L81.81,26.40 L82.21,26.40 L82.61,26.40 L83.01,26.40 L83.41,26.40 L83.81,26.40 L84.21,26.40 L84.60,26.40 L85.00,26.40 L85.40,26.40 L85.80,26.40 L86.20,26.40 L86.60,26.41 L87.00,26.43 L87.40,26.45 L87.80,26.48 L88.21,26.52 L88.61,26.57 L89.01,26.61 L89.41,26.67 L89.80,26.72 L90.20,26.78 L90.59,26.84 L90.98,26.90 L91.36,26.96 L91.75,27.04 L92.14,27.13 L92.53,27.23 L92.92,27.34 L93.31,27.46 L93.69,27.59 L94.08,27.73 L94.46,27.88 L94.84,28.03 L95.22,28.19 L95.59,28.35 L95.96,28.52 L96.33,28.69 L96.69,28.87 L97.04,29.05 L97.39,29.23 L97.73,29.41 L98.07,29.59 L98.40,29.79 L98.73,29.99 L99.05,30.21 L99.37,30.43 L99.69,30.67 L100.00,30.92 L100.31,31.17 L100.62,31.43 L100.92,31.69 L101.22,31.96 L101.52,32.24 L101.82,32.52 L102.11,32.81 L102.41,33.09 L102.70,33.38 L102.99,33.67 L103.28,33.96 L103.56,34.25 L103.85,34.54 L104.13,34.83 L104.42,35.12 L104.70,35.40 L104.98,35.68 L105.26,35.96 L105.54,36.25 L105.82,36.53 L106.10,36.82 L106.37,37.11 L106.65,37.40 L106.92,37.70 L107.19,37.99 L107.46,38.29 L107.73,38.58 L107.99,38.88 L108.26,39.18 L108.52,39.49 L108.79,39.79 L109.05,40.09 L109.31,40.40 L109.57,40.71 L109.83,41.01 L110.08,41.32 L110.34,41.63 L110.59,41.94 L110.85,42.25 L111.10,42.56 L111.35,42.87 L111.60,43.18 L111.85,43.49 L112.10,43.80 L112.34,44.12 L112.59,44.43 L112.83,44.75 L113.07,45.07 L113.31,45.39 L113.54,45.71 L113.78,46.04 L114.01,46.36 L114.25,46.69 L114.48,47.01 L114.71,47.34 L114.94,47.67 L115.17,47.99 L115.40,48.32 L115.63,48.65 L115.86,48.98 L116.09,49.30 L116.32,49.63 L116.55,49.96 L116.78,50.29 L117.02,50.61 L117.25,50.94 L117.48,51.27 L117.71,51.59 L117.95,51.92 L118.19,52.24 L118.42,52.56 L118.66,52.88 L118.90,53.20 L119.14,53.52 L119.39,53.84 L119.63,54.15 L119.88,54.47 L120.13,54.78 L120.38,55.10 L120.63,55.41 L120.88,55.73 L121.13,56.04 L121.38,56.35 L121.63,56.67 L121.88,56.98 L122.13,57.29 L122.38,57.61 L122.62,57.92 L122.87,58.24 L123.12,58.55 L123.36,58.87 L123.61,59.19 L123.85,59.50 L124.09,59.82 L124.33,60.14 L124.56,60.47 L124.79,60.79 L125.03,61.11 L125.25,61.44 L125.48,61.77 L125.70,62.10 L125.92,62.43 L126.14,62.76 L126.36,63.09 L126.57,63.43 L126.79,63.76 L127.00,64.10 L127.21,64.44 L127.43,64.78 L127.63,65.12 L127.84,65.46 L128.05,65.80 L128.26,66.14 L128.46,66.48 L128.66,66.83 L128.87,67.17 L129.07,67.52 L129.27,67.86 L129.47,68.21 L129.67,68.56 L129.87,68.90 L130.07,69.25 L130.26,69.60 L130.46,69.95 L130.66,70.30 L130.85,70.65 L131.05,71.00 L131.25,71.35 L131.44,71.70 L131.64,72.05 L131.83,72.40 L132.03,72.75 L132.22,73.10 L132.41,73.45 L132.61,73.80 L132.80,74.15 L133.00,74.50 L133.19,74.85 L133.39,75.20 L133.58,75.55 L133.78,75.90 L133.98,76.25 L134.17,76.60 L134.37,76.95 L134.57,77.30 L134.77,77.65 L134.97,78.00 L135.17,78.34 L135.37,78.69 L135.57,79.04 L135.77,79.38 L135.97,79.73 L136.18,80.07 L136.38,80.42 L136.59,80.76 L136.79,81.10 L137.00,81.44 L137.21,81.78 L137.42,82.12 L137.63,82.46 L137.84,82.80 L138.05,83.14 L138.26,83.48 L138.47,83.82 L138.68,84.16 L138.90,84.50 L139.11,84.84 L139.32,85.18 L139.53,85.52 L139.74,85.86 L139.95,86.20 L140.17,86.54 L140.38,86.88 L140.59,87.22 L140.81,87.56 L141.02,87.89 L141.23,88.23 L141.45,88.57 L141.66,88.91 L141.88,89.25 L142.09,89.58 L142.31,89.92 L142.52,90.26 L142.74,90.60 L142.96,90.93 L143.17,91.27 L143.39,91.61 L143.61,91.94 L143.83,92.28 L144.04,92.61 L144.26,92.95 L144.48,93.28 L144.70,93.62 L144.92,93.95 L145.14,94.29 L145.36,94.62 L145.58,94.95 L145.80,95.29 L146.02,95.62 L146.25,95.95 L146.47,96.29 L146.69,96.62 L146.91,96.95 L147.14,97.28 L147.36,97.61 L147.59,97.94 L147.81,98.27 L148.04,98.60 L148.26,98.93 L148.49,99.26 L148.72,99.59 L148.94,99.92 L149.17,100.25 L149.40,100.58 L149.63,100.90 L149.86,101.23 L150.08,101.56 L150.31,101.89 L150.54,102.22 L150.77,102.54 L151.00,102.87 L151.23,103.20 L151.46,103.53 L151.69,103.86 L151.92,104.18 L152.15,104.51 L152.38,104.84 L152.61,105.17 L152.85,105.49 L153.08,105.82 L153.31,106.15 L153.54,106.47 L153.78,106.80 L154.01,107.13 L154.24,107.45 L154.48,107.78 L154.71,108.10 L154.95,108.43 L155.18,108.75 L155.42,109.08 L155.66,109.40 L155.89,109.73 L156.13,110.05 L156.37,110.37 L156.61,110.69 L156.84,111.02 L157.08,111.34 L157.32,111.66 L157.56,111.98 L157.80,112.30 L158.05,112.62 L158.29,112.94 L158.53,113.26 L158.77,113.58 L159.02,113.90 L159.26,114.21 L159.50,114.53 L159.75,114.85 L159.99,115.16 L160.24,115.48 L160.49,115.79 L160.73,116.11 L160.98,116.42 L161.23,116.73 L161.48,117.05 L161.73,117.36 L161.98,117.67 L162.23,117.98 L162.48,118.29 L162.74,118.59 L162.99,118.90 L163.25,119.21 L163.50,119.51 L163.76,119.82 L164.01,120.12 L164.27,120.43 L164.53,120.73 L164.79,121.03 L165.04,121.34 L165.30,121.64 L165.57,121.94 L165.83,122.24 L166.09,122.54 L166.35,122.84 L166.62,123.14 L166.88,123.44 L167.15,123.74 L167.41,124.04 L167.68,124.34 L167.95,124.64 L168.22,124.93 L168.49,125.23 L168.76,125.53 L169.03,125.82 L169.30,126.12 L169.57,126.41 L169.84,126.71 L170.12,127.00 L170.39,127.30 L170.66,127.59 L170.94,127.88 L171.22,128.17 L171.49,128.46 L171.77,128.75 L172.05,129.04 L172.33,129.33 L172.61,129.62 L172.89,129.91 L173.17,130.19 L173.45,130.48 L173.74,130.76 L174.02,131.05 L174.30,131.33 L174.59,131.61 L174.87,131.90 L175.16,132.18 L175.45,132.46 L175.73,132.74 L176.02,133.02 L176.31,133.29 L176.60,133.57 L176.89,133.84 L177.18,134.12 L177.47,134.39 L177.76,134.67 L178.06,134.94 L178.35,135.21 L178.64,135.48 L178.94,135.75 L179.23,136.01 L179.53,136.28 L179.83,136.54 L180.12,136.81 L180.42,137.07 L180.72,137.33 L181.03,137.59 L181.33,137.85 L181.64,138.10 L181.95,138.35 L182.26,138.61 L182.57,138.86 L182.88,139.11 L183.19,139.35 L183.51,139.60 L183.82,139.85 L184.14,140.09 L184.46,140.34 L184.78,140.58 L185.10,140.82 L185.41,141.07 L185.73,141.31 L186.05,141.55 L186.37,141.79 L186.69,142.04 L187.01,142.28 L187.33,142.52 L187.65,142.76 L187.97,143.01 L188.29,143.25 L188.61,143.49 L188.92,143.74 L189.24,143.98 L189.55,144.23 L189.87,144.48 L190.18,144.73 L190.50,144.97 L190.81,145.22 L191.12,145.47 L191.44,145.72 L191.75,145.97 L192.07,146.22 L192.38,146.47 L192.69,146.72 L193.01,146.96 L193.32,147.21 L193.64,147.46 L193.96,147.71 L194.27,147.95 L194.59,148.20 L194.90,148.44 L195.22,148.68 L195.54,148.93 L195.86,149.17 L196.18,149.41 L196.50,149.64 L196.82,149.88 L197.15,150.11 L197.47,150.35 L197.80,150.58 L198.12,150.81 L198.45,151.03 L198.78,151.26 L199.11,151.49 L199.44,151.71 L199.77,151.93 L200.10,152.16 L200.43,152.38 L200.76,152.60 L201.10,152.82 L201.43,153.05 L201.77,153.26 L202.10,153.48 L202.44,153.70 L202.77,153.92 L203.11,154.14 L203.45,154.35 L203.79,154.57 L204.13,154.78 L204.47,154.99 L204.81,155.21 L205.15,155.42 L205.49,155.63 L205.83,155.83 L206.18,156.04 L206.52,156.25 L206.86,156.45 L207.21,156.66 L207.55,156.86 L207.90,157.06 L208.25,157.26 L208.59,157.46 L208.94,157.66 L209.29,157.86 L209.64,158.05 L209.99,158.25 L210.34,158.44 L210.69,158.63 L211.04,158.82 L211.39,159.01 L211.74,159.20 L212.09,159.38 L212.45,159.57 L212.80,159.76 L213.16,159.94 L213.51,160.12 L213.87,160.31 L214.23,160.49 L214.59,160.67 L214.95,160.84 L215.31,161.02 L215.67,161.19 L216.03,161.37 L216.39,161.54 L216.76,161.71 L217.12,161.87 L217.49,162.04 L217.85,162.20 L218.22,162.36 L218.58,162.52 L218.95,162.67 L219.32,162.83 L219.69,162.98 L220.06,163.13 L220.43,163.27 L220.80,163.42 L221.17,163.57 L221.55,163.71 L221.92,163.85 L222.30,164.00 L222.68,164.14 L223.05,164.27 L223.43,164.41 L223.81,164.54 L224.19,164.67 L224.57,164.80 L224.95,164.93 L225.33,165.05 L225.71,165.17 L226.09,165.28 L226.48,165.40 L226.86,165.51 L227.24,165.61 L227.63,165.71 L228.01,165.82 L228.40,165.92 L228.78,166.02 L229.17,166.12 L229.56,166.21 L229.94,166.31 L230.33,166.40 L230.72,166.50 L231.11,166.59 L231.50,166.68 L231.89,166.77 L232.28,166.86 L232.67,166.95 L233.06,167.04 L233.45,167.12 L233.84,167.21 L234.23,167.29 L234.62,167.38 L235.02,167.46 L235.41,167.54 L235.80,167.62 L236.19,167.70 L236.59,167.78 L236.98,167.86 L237.38,167.93 L237.77,168.01 L238.16,168.09 L238.56,168.16 L238.95,168.24 L239.35,168.31 L239.74,168.38 L240.14,168.45 L240.53,168.52 L240.92,168.59 L241.32,168.66 L241.71,168.73 L242.11,168.80 L242.50,168.87 L242.90,168.93 L243.29,169.00 L243.69,169.07 L244.08,169.13 L244.47,169.20 L244.87,169.26 L245.26,169.32 L245.66,169.39 L246.05,169.45 L246.45,169.51 L246.84,169.57 L247.24,169.63 L247.63,169.69 L248.03,169.75 L248.42,169.81 L248.82,169.87 L249.21,169.93 L249.61,169.99 L250.01,170.05 L250.40,170.10 L250.80,170.16 L251.19,170.22 L251.59,170.27 L251.99,170.33 L252.38,170.38 L252.78,170.44 L253.18,170.49 L253.57,170.54 L253.97,170.59 L254.37,170.65 L254.77,170.70 L255.16,170.75 L255.56,170.80 L255.96,170.85 L256.35,170.90 L256.75,170.95 L257.15,170.99 L257.55,171.04 L257.94,171.09 L258.34,171.13 L258.74,171.18 L259.14,171.22 L259.53,171.27 L259.93,171.31 L260.33,171.36 L260.73,171.40 L261.12,171.44 L261.52,171.48 L261.92,171.52 L262.32,171.56 L262.72,171.60 L263.11,171.64 L263.51,171.67 L263.91,171.71 L264.31,171.74 L264.71,171.78 L265.11,171.81 L265.51,171.84 L265.90,171.87 L266.30,171.90 L266.70,171.93 L267.10,171.96 L267.50,171.99 L267.90,172.02 L268.30,172.05 L268.70,172.08 L269.10,172.11 L269.50,172.13 L269.90,172.16 L270.30,172.19 L270.70,172.22 L271.10,172.25 L271.50,172.28 L271.89,172.31 L272.29,172.34 L272.69,172.37 L273.09,172.41 L273.49,172.44 L273.89,172.47 L274.29,172.51 L274.68,172.55 L275.08,172.58 L275.48,172.62 L275.88,172.66 L276.27,172.70 L276.67,172.74 L277.07,172.79 L277.46,172.83 L277.86,172.88 L278.26,172.92 L278.66,172.97 L279.05,173.02 L279.45,173.07 L279.85,173.12 L280.25,173.17 L280.65,173.22 L281.05,173.27 L281.45,173.33 L281.85,173.38 L282.24,173.44 L282.64,173.50 L283.04,173.55 L283.44,173.61 L283.84,173.67 L284.24,173.73 L284.64,173.80 L285.03,173.86 L285.43,173.93 L285.83,173.99 L286.23,174.06 L286.62,174.13 L287.02,174.20 L287.42,174.27 L287.81,174.34 L288.21,174.41 L288.60,174.49 L288.99,174.57 L289.39,174.64 L289.78,174.72 L290.17,174.80 L290.56,174.88 L290.95,174.97 L291.34,175.05 L291.73,175.14 L292.11,175.22 L292.50,175.31 L292.88,175.40 L293.27,175.49 L293.65,175.59 L294.03,175.68 L294.41,175.78 L294.79,175.88 L295.17,175.98 L295.55,176.09 L295.94,176.20 L296.32,176.32 L296.70,176.44 L297.08,176.57 L297.46,176.70 L297.84,176.83 L298.22,176.97 L298.60,177.11 L298.98,177.26 L299.36,177.41 L299.74,177.56 L300.12,177.71 L300.49,177.87 L300.86,178.04 L301.24,178.20 L301.61,178.37 L301.98,178.54 L302.34,178.72 L302.71,178.89 L303.07,179.07 L303.43,179.25 L303.79,179.44 L304.14,179.62 L304.50,179.81 L304.85,180.00 L305.19,180.19 L305.54,180.38 L305.88,180.58 L306.22,180.77 L306.55,180.97 L306.88,181.17 L307.21,181.38 L307.53,181.59 L307.86,181.81 L308.18,182.04 L308.50,182.27 L308.81,182.51 L309.13,182.75 L309.44,183.00 L309.75,183.25 L310.06,183.51 L310.37,183.77 L310.68,184.04 L310.98,184.31 L311.28,184.58 L311.58,184.85 L311.88,185.13 L312.18,185.41 L312.47,185.69 L312.76,185.97 L313.06,186.26 L313.35,186.54 L313.63,186.83 L313.92,187.11 L314.21,187.40 L314.49,187.68 L314.78,187.97 L315.06,188.25 L315.34,188.54 L315.62,188.82 L315.89,189.11 L316.16,189.40 L316.43,189.69 L316.70,189.99 L316.96,190.30 L317.22,190.60 L317.47,190.91 L317.73,191.22 L317.98,191.53 L318.24,191.84 L318.49,192.16 L318.74,192.47 L318.99,192.78 L319.25,193.09 L319.51,193.40 L319.76,193.71 L320.02,194.01 L320.29,194.31 L320.55,194.61 L320.82,194.90 L321.10,195.19 L321.37,195.48 L321.65,195.77 L321.93,196.06 L322.21,196.35 L322.49,196.65 L322.76,196.95 L323.04,197.25 L323.33,197.55 L323.61,197.85 L323.89,198.15 L324.17,198.45 L324.46,198.76 L324.74,199.06 L325.03,199.36 L325.32,199.65 L325.61,199.95 L325.90,200.24 L326.19,200.53 L326.49,200.82 L326.78,201.10 L327.08,201.38 L327.38,201.66 L327.68,201.93 L327.99,202.19 L328.29,202.45 L328.60,202.70 L328.91,202.95 L329.22,203.19 L329.54,203.42 L329.86,203.65 L330.18,203.87 L330.50,204.08 L330.83,204.28 L331.16,204.47 L331.49,204.65 L331.83,204.82 L332.17,204.98 L332.52,205.14 L332.87,205.30 L333.23,205.46 L333.60,205.62 L333.97,205.77 L334.35,205.92 L334.73,206.07 L335.11,206.21 L335.50,206.35 L335.89,206.48 L336.28,206.60 L336.68,206.72 L337.07,206.82 L337.47,206.92 L337.86,207.00 L338.26,207.07 L338.65,207.14 L339.04,207.18 L339.44,207.22 L339.83,207.26 L340.22,207.29 L340.62,207.32 L341.02,207.36 L341.42,207.39 L341.82,207.41 L342.22,207.44 L342.62,207.46 L343.02,207.48 L343.43,207.50 L343.83,207.51 L344.23,207.52 L344.63,207.52 L345.03,207.53 L345.43,207.53 L345.83,207.53 L346.23,207.53 L346.63,207.53 L347.03,207.53 L347.43,207.53 L347.83,207.53 L348.23,207.53 L348.63,207.53 L349.03,207.53 L349.43,207.53 L349.70,207.53" stroke="#0000ff" stroke-dasharray="8.9 1.9 1.8 2.4"/>
<path d="M62.20,26.40 L62.60,26.43 L63.00,26.46 L63.40,26.49 L63.80,26.52 L64.20,26.56 L64.60,26.60 L65.00,26.64 L65.40,26.68 L65.79,26.72 L66.19,26.77 L66.59,26.82 L66.98,26.87 L67.38,26.92 L67.78,26.98 L68.17,27.03 L68.57,27.09 L68.96,27.14 L69.36,27.20 L69.75,27.26 L70.15,27.32 L70.54,27.39 L70.94,27.45 L71.33,27.52 L71.73,27.59 L72.12,27.66 L72.52,27.74 L72.91,27.82 L73.31,27.90 L73.70,27.99 L74.09,28.08 L74.49,28.17 L74.88,28.26 L75.26,28.36 L75.65,28.46 L76.03,28.56 L76.42,28.67 L76.80,28.78 L77.17,28.89 L77.55,29.01 L77.92,29.13 L78.30,29.27 L78.67,29.41 L79.04,29.55 L79.41,29.70 L79.78,29.86 L80.15,30.02 L80.51,30.19 L80.88,30.36 L81.24,30.54 L81.61,30.72 L81.97,30.90 L82.33,31.09 L82.68,31.28 L83.04,31.47 L83.39,31.66 L83.75,31.86 L84.10,32.05 L84.44,32.25 L84.79,32.45 L85.14,32.65 L85.48,32.85 L85.82,33.05 L86.16,33.25 L86.49,33.47 L86.83,33.68 L87.16,33.91 L87.49,34.13 L87.81,34.36 L88.14,34.59 L88.46,34.83 L88.79,35.06 L89.11,35.30 L89.43,35.54 L89.75,35.79 L90.07,36.03 L90.39,36.28 L90.71,36.52 L91.03,36.77 L91.35,37.01 L91.66,37.26 L91.98,37.50 L92.31,37.74 L92.63,37.98 L92.95,38.22 L93.27,38.45 L93.60,38.69 L93.93,38.92 L94.26,39.15 L94.59,39.38 L94.92,39.60 L95.25,39.83 L95.58,40.06 L95.91,40.28 L96.25,40.51 L96.58,40.74 L96.91,40.97 L97.24,41.20 L97.57,41.43 L97.89,41.66 L98.22,41.90 L98.54,42.13 L98.86,42.37 L99.17,42.62 L99.49,42.86 L99.79,43.11 L100.10,43.37 L100.40,43.62 L100.70,43.89 L100.99,44.15 L101.27,44.43 L101.56,44.71 L101.83,44.99 L102.11,45.28 L102.38,45.57 L102.66,45.87 L102.93,46.17 L103.19,46.47 L103.46,46.77 L103.73,47.07 L103.99,47.37 L104.26,47.67 L104.53,47.97 L104.79,48.27 L105.06,48.57 L105.33,48.86 L105.60,49.16 L105.86,49.46 L106.13,49.76 L106.39,50.06 L106.65,50.36 L106.92,50.67 L107.18,50.97 L107.44,51.27 L107.70,51.57 L107.96,51.87 L108.23,52.18 L108.49,52.48 L108.75,52.78 L109.02,53.08 L109.28,53.38 L109.55,53.68 L109.82,53.97 L110.09,54.27 L110.36,54.56 L110.63,54.86 L110.90,55.15 L111.18,55.44 L111.45,55.73 L111.73,56.02 L112.00,56.31 L112.28,56.60 L112.56,56.88 L112.84,57.17 L113.12,57.46 L113.40,57.74 L113.68,58.03 L113.96,58.31 L114.24,58.60 L114.52,58.89 L114.80,59.17 L115.08,59.46 L115.36,59.74 L115.64,60.03 L115.92,60.31 L116.20,60.60 L116.48,60.88 L116.76,61.17 L117.04,61.45 L117.32,61.74 L117.61,62.02 L117.89,62.31 L118.17,62.59 L118.45,62.88 L118.73,63.16 L119.01,63.44 L119.30,63.73 L119.58,64.01 L119.86,64.29 L120.14,64.58 L120.43,64.86 L120.71,65.14 L120.99,65.42 L121.28,65.71 L121.56,65.99 L121.84,66.27 L122.13,66.55 L122.41,66.83 L122.70,67.12 L122.98,67.40 L123.26,67.68 L123.55,67.96 L123.83,68.24 L124.12,68.52 L124.40,68.81 L124.69,69.09 L124.97,69.37 L125.25,69.65 L125.54,69.93 L125.82,70.21 L126.11,70.49 L126.39,70.78 L126.68,71.06 L126.96,71.34 L127.25,71.62 L127.53,71.90 L127.81,72.18 L128.10,72.47 L128.38,72.75 L128.67,73.03 L128.95,73.31 L129.23,73.59 L129.52,73.88 L129.80,74.16 L130.08,74.44 L130.37,74.72 L130.65,75.01 L130.93,75.29 L131.21,75.57 L131.50,75.86 L131.78,76.14 L132.06,76.42 L132.34,76.71 L132.62,76.99 L132.90,77.28 L133.18,77.56 L133.46,77.85 L133.74,78.13 L134.02,78.42 L134.30,78.70 L134.58,78.99 L134.86,79.28 L135.14,79.56 L135.42,79.85 L135.70,80.14 L135.97,80.42 L136.25,80.71 L136.53,81.00 L136.80,81.29 L137.08,81.58 L137.36,81.87 L137.63,82.16 L137.90,82.45 L138.18,82.74 L138.45,83.03 L138.72,83.33 L139.00,83.62 L139.27,83.91 L139.54,84.21 L139.81,84.50 L140.08,84.80 L140.35,85.09 L140.62,85.39 L140.89,85.68 L141.16,85.98 L141.43,86.28 L141.69,86.57 L141.96,86.87 L142.23,87.17 L142.50,87.47 L142.76,87.76 L143.03,88.06 L143.30,88.36 L143.56,88.66 L143.83,88.96 L144.10,89.26 L144.36,89.56 L144.63,89.85 L144.90,90.15 L145.16,90.45 L145.43,90.75 L145.70,91.05 L145.96,91.35 L146.23,91.65 L146.49,91.95 L146.76,92.25 L147.03,92.54 L147.29,92.84 L147.56,93.14 L147.83,93.44 L148.10,93.74 L148.36,94.03 L148.63,94.33 L148.90,94.63 L149.17,94.92 L149.44,95.22 L149.71,95.51 L149.98,95.81 L150.25,96.11 L150.52,96.40 L150.79,96.69 L151.06,96.99 L151.33,97.28 L151.60,97.57 L151.88,97.87 L152.15,98.16 L152.42,98.45 L152.70,98.74 L152.97,99.03 L153.25,99.32 L153.53,99.61 L153.80,99.89 L154.08,100.18 L154.36,100.47 L154.64,100.75 L154.92,101.04 L155.20,101.33 L155.47,101.61 L155.75,101.90 L156.03,102.19 L156.31,102.47 L156.59,102.76 L156.87,103.04 L157.15,103.33 L157.44,103.61 L157.72,103.90 L158.00,104.18 L158.28,104.47 L158.56,104.75 L158.84,105.04 L159.13,105.32 L159.41,105.60 L159.69,105.89 L159.97,106.17 L160.26,106.45 L160.54,106.74 L160.83,107.02 L161.11,107.30 L161.40,107.58 L161.68,107.86 L161.97,108.14 L162.25,108.43 L162.54,108.71 L162.82,108.99 L163.11,109.27 L163.40,109.54 L163.69,109.82 L163.97,110.10 L164.26,110.38 L164.55,110.66 L164.84,110.94 L165.13,111.21 L165.42,111.49 L165.71,111.76 L166.00,112.04 L166.29,112.31 L166.58,112.59 L166.87,112.86 L167.16,113.14 L167.46,113.41 L167.75,113.68 L168.04,113.95 L168.34,114.23 L168.63,114.50 L168.92,114.77 L169.22,115.04 L169.51,115.30 L169.81,115.57 L170.11,115.84 L170.40,116.11 L170.70,116.37 L171.00,116.64 L171.29,116.91 L171.59,117.17 L171.89,117.43 L172.19,117.70 L172.49,117.96 L172.79,118.22 L173.09,118.48 L173.40,118.75 L173.70,119.01 L174.00,119.27 L174.31,119.52 L174.61,119.78 L174.92,120.04 L175.22,120.30 L175.53,120.56 L175.84,120.81 L176.14,121.07 L176.45,121.32 L176.76,121.58 L177.07,121.83 L177.38,122.09 L177.69,122.34 L178.00,122.59 L178.31,122.85 L178.62,123.10 L178.93,123.35 L179.24,123.60 L179.55,123.86 L179.86,124.11 L180.17,124.36 L180.49,124.61 L180.80,124.86 L181.11,125.11 L181.43,125.36 L181.74,125.61 L182.05,125.86 L182.37,126.10 L182.68,126.35 L183.00,126.60 L183.31,126.85 L183.62,127.10 L183.94,127.35 L184.25,127.59 L184.57,127.84 L184.88,128.09 L185.20,128.34 L185.51,128.58 L185.83,128.83 L186.14,129.08 L186.46,129.32 L186.77,129.57 L187.09,129.82 L187.40,130.06 L187.72,130.31 L188.03,130.56 L188.35,130.80 L188.66,131.05 L188.98,131.30 L189.29,131.54 L189.61,131.79 L189.92,132.04 L190.24,132.28 L190.56,132.53 L190.87,132.77 L191.19,133.02 L191.51,133.26 L191.82,133.50 L192.14,133.75 L192.46,133.99 L192.78,134.23 L193.10,134.47 L193.42,134.71 L193.74,134.95 L194.06,135.18 L194.39,135.42 L194.71,135.65 L195.03,135.89 L195.36,136.12 L195.68,136.35 L196.01,136.59 L196.33,136.82 L196.66,137.06 L196.98,137.29 L197.31,137.52 L197.63,137.76 L197.96,137.99 L198.29,138.22 L198.61,138.46 L198.94,138.69 L199.26,138.92 L199.59,139.15 L199.92,139.39 L200.25,139.62 L200.58,139.85 L200.90,140.08 L201.23,140.31 L201.56,140.54 L201.89,140.76 L202.22,140.99 L202.55,141.22 L202.88,141.44 L203.21,141.67 L203.55,141.89 L203.88,142.12 L204.21,142.34 L204.54,142.56 L204.88,142.79 L205.21,143.01 L205.55,143.23 L205.88,143.45 L206.22,143.66 L206.55,143.88 L206.89,144.10 L207.23,144.31 L207.57,144.52 L207.90,144.74 L208.24,144.95 L208.58,145.16 L208.92,145.36 L209.26,145.57 L209.61,145.78 L209.95,145.98 L210.29,146.19 L210.63,146.39 L210.98,146.59 L211.32,146.79 L211.67,146.98 L212.02,147.18 L212.37,147.37 L212.72,147.56 L213.07,147.75 L213.42,147.94 L213.77,148.13 L214.13,148.32 L214.48,148.50 L214.84,148.69 L215.20,148.87 L215.55,149.05 L215.91,149.23 L216.27,149.41 L216.63,149.59 L216.99,149.77 L217.35,149.95 L217.71,150.12 L218.06,150.30 L218.42,150.48 L218.78,150.65 L219.14,150.83 L219.50,151.00 L219.86,151.18 L220.22,151.35 L220.58,151.52 L220.94,151.69 L221.31,151.86 L221.67,152.03 L222.03,152.20 L222.39,152.37 L222.75,152.54 L223.12,152.71 L223.48,152.87 L223.85,153.04 L224.21,153.20 L224.57,153.37 L224.94,153.53 L225.30,153.70 L225.67,153.86 L226.03,154.02 L226.40,154.19 L226.77,154.35 L227.13,154.51 L227.50,154.67 L227.86,154.83 L228.23,154.99 L228.60,155.16 L228.96,155.32 L229.33,155.48 L229.69,155.64 L230.06,155.80 L230.43,155.96 L230.79,156.12 L231.16,156.29 L231.53,156.45 L231.89,156.61 L232.26,156.77 L232.62,156.94 L232.99,157.10 L233.35,157.26 L233.72,157.43 L234.08,157.59 L234.45,157.76 L234.81,157.92 L235.17,158.09 L235.54,158.25 L235.90,158.42 L236.26,158.59 L236.63,158.76 L236.99,158.93 L237.35,159.10 L237.71,159.27 L238.07,159.44 L238.43,159.62 L238.79,159.79 L239.15,159.96 L239.51,160.14 L239.87,160.31 L240.23,160.49 L240.59,160.67 L240.95,160.84 L241.31,161.02 L241.67,161.19 L242.03,161.37 L242.39,161.54 L242.75,161.72 L243.11,161.90 L243.47,162.07 L243.83,162.24 L244.19,162.42 L244.55,162.59 L244.91,162.77 L245.27,162.94 L245.63,163.11 L246.00,163.28 L246.36,163.45 L246.72,163.62 L247.08,163.78 L247.45,163.95 L247.81,164.12 L248.18,164.28 L248.54,164.44 L248.91,164.60 L249.27,164.77 L249.64,164.93 L250.00,165.09 L250.37,165.25 L250.73,165.41 L251.10,165.57 L251.47,165.73 L251.83,165.89 L252.20,166.05 L252.57,166.21 L252.94,166.37 L253.30,166.53 L253.67,166.69 L254.04,166.84 L254.41,167.00 L254.78,167.16 L255.14,167.31 L255.51,167.47 L255.88,167.62 L256.25,167.78 L256.62,167.93 L256.99,168.09 L257.36,168.24 L257.73,168.39 L258.10,168.55 L258.47,168.70 L258.84,168.85 L259.21,169.00 L259.58,169.15 L259.95,169.31 L260.32,169.46 L260.69,169.61 L261.06,169.76 L261.43,169.91 L261.80,170.06 L262.18,170.20 L262.55,170.35 L262.92,170.50 L263.29,170.65 L263.66,170.80 L264.03,170.94 L264.41,171.09 L264.78,171.23 L265.15,171.38 L265.52,171.53 L265.90,171.67 L266.27,171.81 L266.64,171.96 L267.02,172.10 L267.39,172.24 L267.77,172.38 L268.14,172.52 L268.52,172.65 L268.89,172.79 L269.27,172.93 L269.64,173.07 L270.02,173.20 L270.40,173.34 L270.77,173.47 L271.15,173.61 L271.53,173.74 L271.91,173.87 L272.28,174.01 L272.66,174.14 L273.04,174.27 L273.42,174.40 L273.79,174.53 L274.17,174.66 L274.55,174.80 L274.93,174.93 L275.31,175.06 L275.69,175.19 L276.07,175.32 L276.44,175.45 L276.82,175.58 L277.20,175.71 L277.58,175.84 L277.96,175.97 L278.34,176.10 L278.71,176.24 L279.09,176.37 L279.47,176.50 L279.85,176.63 L280.23,176.76 L280.60,176.90 L280.98,177.03 L281.36,177.16 L281.74,177.30 L282.11,177.43 L282.49,177.57 L282.87,177.70 L283.24,177.84 L283.62,177.97 L283.99,178.11 L284.37,178.25 L284.74,178.39 L285.12,178.53 L285.49,178.67 L285.87,178.81 L286.24,178.95 L286.61,179.09 L286.99,179.24 L287.36,179.38 L287.73,179.53 L288.10,179.68 L288.47,179.82 L288.84,179.97 L289.21,180.12 L289.58,180.27 L289.95,180.43 L290.32,180.59 L290.68,180.75 L291.05,180.91 L291.41,181.07 L291.78,181.24 L292.14,181.41 L292.50,181.58 L292.87,181.75 L293.23,181.92 L293.59,182.09 L293.95,182.26 L294.32,182.42 L294.68,182.59 L295.04,182.76 L295.41,182.92 L295.77,183.09 L296.14,183.25 L296.51,183.41 L296.87,183.56 L297.24,183.72 L297.61,183.87 L297.98,184.02 L298.36,184.16 L298.73,184.31 L299.10,184.45 L299.47,184.60 L299.85,184.74 L300.22,184.88 L300.60,185.02 L300.97,185.16 L301.35,185.30 L301.72,185.44 L302.10,185.58 L302.47,185.71 L302.85,185.85 L303.23,185.99 L303.60,186.13 L303.98,186.27 L304.35,186.41 L304.73,186.55 L305.10,186.68 L305.48,186.82 L305.86,186.95 L306.24,187.09 L306.62,187.22 L307.00,187.35 L307.38,187.48 L307.75,187.62 L308.13,187.75 L308.51,187.89 L308.88,188.03 L309.25,188.18 L309.62,188.33 L309.98,188.49 L310.34,188.65 L310.70,188.82 L311.05,189.00 L311.41,189.18 L311.76,189.36 L312.11,189.55 L312.46,189.75 L312.80,189.95 L313.15,190.15 L313.49,190.35 L313.84,190.56 L314.18,190.77 L314.52,190.98 L314.86,191.20 L315.20,191.41 L315.54,191.63 L315.88,191.84 L316.22,192.06 L316.56,192.28 L316.90,192.49 L317.24,192.71 L317.58,192.92 L317.92,193.14 L318.26,193.35 L318.61,193.56 L318.95,193.76 L319.30,193.97 L319.64,194.17 L319.99,194.36 L320.34,194.55 L320.69,194.74 L321.05,194.92 L321.40,195.10 L321.76,195.28 L322.11,195.45 L322.47,195.63 L322.83,195.81 L323.18,195.98 L323.54,196.16 L323.90,196.33 L324.26,196.51 L324.62,196.68 L324.97,196.85 L325.33,197.03 L325.69,197.20 L326.05,197.37 L326.41,197.54 L326.77,197.71 L327.13,197.88 L327.49,198.05 L327.85,198.22 L328.21,198.39 L328.58,198.56 L328.94,198.73 L329.30,198.90 L329.66,199.06 L330.03,199.23 L330.39,199.39 L330.75,199.56 L331.12,199.72 L331.48,199.89 L331.85,200.05 L332.21,200.21 L332.58,200.37 L332.94,200.54 L333.31,200.70 L333.68,200.86 L334.04,201.01 L334.41,201.17 L334.78,201.33 L335.15,201.49 L335.52,201.64 L335.89,201.80 L336.25,201.95 L336.62,202.11 L336.99,202.26 L337.37,202.41 L337.74,202.56 L338.11,202.72 L338.48,202.87 L338.85,203.01 L339.22,203.16 L339.60,203.31 L339.97,203.46 L340.34,203.60 L340.72,203.75 L341.09,203.89 L341.47,204.04 L341.84,204.18 L342.22,204.32 L342.60,204.46 L342.97,204.60 L343.35,204.74 L343.73,204.88 L344.11,205.01 L344.49,205.15 L344.87,205.28 L345.24,205.42 L345.63,205.55 L346.01,205.68 L346.39,205.81 L346.77,205.94 L347.15,206.07 L347.53,206.20 L347.92,206.33 L348.30,206.45 L348.68,206.58 L349.07,206.70 L349.45,206.82 L349.70,206.90" stroke="#ff4500" stroke-dasharray="1.45 1.45"/>
<path d="M62.20,26.40 L62.92,26.85 L63.64,27.31 L64.36,27.77 L65.08,28.23 L65.80,28.69 L66.52,29.15 L67.24,29.62 L67.96,30.08 L68.68,30.55 L69.40,31.02 L70.12,31.49 L70.84,31.96 L71.56,32.43 L72.28,32.91 L73.00,33.38 L73.72,33.86 L74.45,34.34 L75.17,34.82 L75.89,35.31 L76.61,35.79 L77.33,36.27 L78.05,36.76 L78.77,37.25 L79.49,37.74 L80.21,38.23 L80.93,38.72 L81.65,39.21 L82.37,39.71 L83.09,40.21 L83.81,40.70 L84.53,41.20 L85.25,41.70 L85.97,42.20 L86.69,42.71 L87.41,43.21 L88.13,43.72 L88.85,44.22 L89.57,44.73 L90.29,45.24 L91.01,45.75 L91.73,46.26 L92.45,46.78 L93.17,47.29 L93.89,47.81 L94.61,48.32 L95.33,48.84 L96.05,49.36 L96.77,49.88 L97.49,50.40 L98.22,50.93 L98.94,51.45 L99.66,51.97 L100.38,52.50 L101.10,53.03 L101.82,53.56 L102.54,54.08 L103.26,54.62 L103.98,55.15 L104.70,55.68 L105.42,56.21 L106.14,56.75 L106.86,57.28 L107.58,57.82 L108.30,58.36 L109.02,58.89 L109.74,59.43 L110.46,59.97 L111.18,60.52 L111.90,61.06 L112.62,61.60 L113.34,62.14 L114.06,62.69 L114.78,63.24 L115.50,63.78 L116.22,64.33 L116.94,64.88 L117.66,65.43 L118.38,65.98 L119.10,66.53 L119.82,67.08 L120.54,67.63 L121.26,68.18 L121.98,68.74 L122.71,69.29 L123.43,69.85 L124.15,70.40 L124.87,70.96 L125.59,71.52 L126.31,72.07 L127.03,72.63 L127.75,73.19 L128.47,73.75 L129.19,74.31 L129.91,74.87 L130.63,75.43 L131.35,76.00 L132.07,76.56 L132.79,77.12 L133.51,77.68 L134.23,78.25 L134.95,78.81 L135.67,79.38 L136.39,79.94 L137.11,80.51 L137.83,81.08 L138.55,81.64 L139.27,82.21 L139.99,82.78 L140.71,83.34 L141.43,83.91 L142.15,84.48 L142.87,85.05 L143.59,85.62 L144.31,86.19 L145.03,86.76 L145.75,87.33 L146.48,87.90 L147.20,88.47 L147.92,89.04 L148.64,89.61 L149.36,90.18 L150.08,90.75 L150.80,91.32 L151.52,91.89 L152.24,92.46 L152.96,93.03 L153.68,93.61 L154.40,94.18 L155.12,94.75 L155.84,95.32 L156.56,95.89 L157.28,96.46 L158.00,97.04 L158.72,97.61 L159.44,98.18 L160.16,98.75 L160.88,99.32 L161.60,99.89 L162.32,100.46 L163.04,101.03 L163.76,101.60 L164.48,102.18 L165.20,102.75 L165.92,103.32 L166.64,103.89 L167.36,104.45 L168.08,105.02 L168.80,105.59 L169.52,106.16 L170.25,106.73 L170.97,107.30 L171.69,107.87 L172.41,108.43 L173.13,109.00 L173.85,109.57 L174.57,110.13 L175.29,110.70 L176.01,111.26 L176.73,111.83 L177.45,112.39 L178.17,112.96 L178.89,113.52 L179.61,114.08 L180.33,114.65 L181.05,115.21 L181.77,115.77 L182.49,116.33 L183.21,116.89 L183.93,117.45 L184.65,118.01 L185.37,118.56 L186.09,119.12 L186.81,119.68 L187.53,120.23 L188.25,120.79 L188.97,121.34 L189.69,121.89 L190.41,122.45 L191.13,123.00 L191.85,123.55 L192.57,124.10 L193.29,124.65 L194.02,125.19 L194.74,125.74 L195.46,126.29 L196.18,126.83 L196.90,127.38 L197.62,127.92 L198.34,128.46 L199.06,129.00 L199.78,129.54 L200.50,130.08 L201.22,130.62 L201.94,131.16 L202.66,131.69 L203.38,132.23 L204.10,132.76 L204.82,133.29 L205.54,133.82 L206.26,134.35 L206.98,134.88 L207.70,135.41 L208.42,135.93 L209.14,136.46 L209.86,136.98 L210.58,137.50 L211.30,138.03 L212.02,138.55 L212.74,139.06 L213.46,139.58 L214.18,140.09 L214.90,140.61 L215.62,141.12 L216.34,141.63 L217.06,142.14 L217.78,142.65 L218.51,143.16 L219.23,143.66 L219.95,144.16 L220.67,144.66 L221.39,145.16 L222.11,145.66 L222.83,146.16 L223.55,146.66 L224.27,147.15 L224.99,147.64 L225.71,148.13 L226.43,148.62 L227.15,149.11 L227.87,149.59 L228.59,150.08 L229.31,150.56 L230.03,151.04 L230.75,151.52 L231.47,151.99 L232.19,152.47 L232.91,152.94 L233.63,153.41 L234.35,153.88 L235.07,154.35 L235.79,154.81 L236.51,155.27 L237.23,155.74 L237.95,156.19 L238.67,156.65 L239.39,157.11 L240.11,157.56 L240.83,158.01 L241.55,158.46 L242.28,158.91 L243.00,159.36 L243.72,159.80 L244.44,160.24 L245.16,160.68 L245.88,161.12 L246.60,161.55 L247.32,161.99 L248.04,162.42 L248.76,162.85 L249.48,163.27 L250.20,163.70 L250.92,164.12 L251.64,164.54 L252.36,164.96 L253.08,165.38 L253.80,165.79 L254.52,166.20 L255.24,166.61 L255.96,167.02 L256.68,167.43 L257.40,167.83 L258.12,168.23 L258.84,168.63 L259.56,169.03 L260.28,169.42 L261.00,169.82 L261.72,170.21 L262.44,170.60 L263.16,170.98 L263.88,171.36 L264.60,171.75 L265.32,172.13 L266.05,172.50 L266.77,172.88 L267.49,173.25 L268.21,173.62 L268.93,173.99 L269.65,174.36 L270.37,174.72 L271.09,175.08 L271.81,175.44 L272.53,175.80 L273.25,176.15 L273.97,176.51 L274.69,176.86 L275.41,177.21 L276.13,177.55 L276.85,177.90 L277.57,178.24 L278.29,178.58 L279.01,178.92 L279.73,179.26 L280.45,179.59 L281.17,179.92 L281.89,180.25 L282.61,180.58 L283.33,180.91 L284.05,181.23 L284.77,181.55 L285.49,181.87 L286.21,182.19 L286.93,182.50 L287.65,182.82 L288.37,183.13 L289.09,183.44 L289.82,183.75 L290.54,184.06 L291.26,184.36 L291.98,184.66 L292.70,184.96 L293.42,185.26 L294.14,185.56 L294.86,185.85 L295.58,186.15 L296.30,186.44 L297.02,186.73 L297.74,187.02 L298.46,187.31 L299.18,187.59 L299.90,187.88 L300.62,188.16 L301.34,188.44 L302.06,188.72 L302.78,189.00 L303.50,189.27 L304.22,189.55 L304.94,189.82 L305.66,190.10 L306.38,190.37 L307.10,190.64 L307.82,190.91 L308.54,191.18 L309.26,191.44 L309.98,191.71 L310.70,191.97 L311.42,192.24 L312.14,192.50 L312.86,192.76 L313.58,193.02 L314.31,193.29 L315.03,193.55 L315.75,193.80 L316.47,194.06 L317.19,194.32 L317.91,194.58 L318.63,194.84 L319.35,195.09 L320.07,195.35 L320.79,195.61 L321.51,195.86 L322.23,196.12 L322.95,196.38 L323.67,196.63 L324.39,196.89 L325.11,197.15 L325.83,197.40 L326.55,197.66 L327.27,197.92 L327.99,198.18 L328.71,198.44 L329.43,198.70 L330.15,198.96 L330.87,199.23 L331.59,199.49 L332.31,199.76 L333.03,200.03 L333.75,200.30 L334.47,200.57 L335.19,200.85 L335.91,201.12 L336.63,201.41 L337.35,201.69 L338.08,201.98 L338.80,202.27 L339.52,202.56 L340.24,202.86 L340.96,203.17 L341.68,203.48 L342.40,203.80 L343.12,204.12 L343.84,204.45 L344.56,204.79 L345.28,205.14 L346.00,205.50 L346.72,205.87 L347.44,206.26 L348.16,206.66 L348.88,207.08 L349.60,207.53" stroke="#000000" stroke-dasharray="5.5 3.2"/>
</g>
<path d="M62.20,219.6v-1.4M62.20,16.7v1.4M71.18,219.6v-2.5M71.18,16.7v2.5M80.16,219.6v-1.4M80.16,16.7v1.4M89.14,219.6v-1.4M89.14,16.7v1.4M98.12,219.6v-1.4M98.12,16.7v1.4M107.11,219.6v-1.4M107.11,16.7v1.4M116.09,219.6v-2.5M116.09,16.7v2.5M125.07,219.6v-1.4M125.07,16.7v1.4M134.05,219.6v-1.4M134.05,16.7v1.4M143.03,219.6v-1.4M143.03,16.7v1.4M152.01,219.6v-1.4M152.01,16.7v1.4M160.99,219.6v-2.5M160.99,16.7v2.5M169.98,219.6v-1.4M169.98,16.7v1.4M178.96,219.6v-1.4M178.96,16.7v1.4M187.94,219.6v-1.4M187.94,16.7v1.4M196.92,219.6v-1.4M196.92,16.7v1.4M205.90,219.6v-2.5M205.90,16.7v2.5M214.88,219.6v-1.4M214.88,16.7v1.4M223.86,219.6v-1.4M223.86,16.7v1.4M232.84,219.6v-1.4M232.84,16.7v1.4M241.82,219.6v-1.4M241.82,16.7v1.4M250.81,219.6v-2.5M250.81,16.7v2.5M259.79,219.6v-1.4M259.79,16.7v1.4M268.77,219.6v-1.4M268.77,16.7v1.4M277.75,219.6v-1.4M277.75,16.7v1.4M286.73,219.6v-1.4M286.73,16.7v1.4M295.71,219.6v-2.5M295.71,16.7v2.5M304.69,219.6v-1.4M304.69,16.7v1.4M313.68,219.6v-1.4M313.68,16.7v1.4M322.66,219.6v-1.4M322.66,16.7v1.4M331.64,219.6v-1.4M331.64,16.7v1.4M340.62,219.6v-2.5M340.62,16.7v2.5M349.60,219.6v-1.4M349.60,16.7v1.4M62.2,219.60h2.5M349.5,219.60h-2.5M62.2,211.87h1.4M349.5,211.87h-1.4M62.2,204.14h1.4M349.5,204.14h-1.4M62.2,196.42h1.4M349.5,196.42h-1.4M62.2,188.69h1.4M349.5,188.69h-1.4M62.2,180.96h2.5M349.5,180.96h-2.5M62.2,173.23h1.4M349.5,173.23h-1.4M62.2,165.50h1.4M349.5,165.50h-1.4M62.2,157.78h1.4M349.5,157.78h-1.4M62.2,150.05h1.4M349.5,150.05h-1.4M62.2,142.32h2.5M349.5,142.32h-2.5M62.2,134.59h1.4M349.5,134.59h-1.4M62.2,126.86h1.4M349.5,126.86h-1.4M62.2,119.14h1.4M349.5,119.14h-1.4M62.2,111.41h1.4M349.5,111.41h-1.4M62.2,103.68h2.5M349.5,103.68h-2.5M62.2,95.95h1.4M349.5,95.95h-1.4M62.2,88.22h1.4M349.5,88.22h-1.4M62.2,80.50h1.4M349.5,80.50h-1.4M62.2,72.77h1.4M349.5,72.77h-1.4M62.2,65.04h2.5M349.5,65.04h-2.5M62.2,57.31h1.4M349.5,57.31h-1.4M62.2,49.58h1.4M349.5,49.58h-1.4M62.2,41.86h1.4M349.5,41.86h-1.4M62.2,34.13h1.4M349.5,34.13h-1.4M62.2,26.40h2.5M349.5,26.40h-2.5M62.2,18.67h1.4M349.5,18.67h-1.4" stroke="#000" stroke-width="0.55" fill="none"/>
<rect x="62.35" y="16.7" width="287.10" height="202.9" fill="none" stroke="#000" stroke-width="0.7"/>
<text x="71.2" y="238.4" text-anchor="middle">-3</text>
<text x="116.1" y="238.4" text-anchor="middle">-2</text>
<text x="161.0" y="238.4" text-anchor="middle">-1</text>
<text x="207.5" y="238.4" text-anchor="middle">0</text>
<text x="252.4" y="238.4" text-anchor="middle">1</text>
<text x="297.3" y="238.4" text-anchor="middle">2</text>
<text x="342.2" y="238.4" text-anchor="middle">3</text>
<text x="53.7" y="224.6" text-anchor="end">0.0</text>
<text x="53.7" y="186.0" text-anchor="end">0.2</text>
<text x="53.7" y="147.3" text-anchor="end">0.4</text>
<text x="53.7" y="108.7" text-anchor="end">0.6</text>
<text x="53.7" y="70.0" text-anchor="end">0.8</text>
<text x="53.7" y="31.4" text-anchor="end">1.0</text>
<text x="205.3" y="259.0" text-anchor="middle">z (fm)</text>
<clipPath id="cr"><rect x="409.1" y="15.7" width="289.29999999999995" height="204.9"/></clipPath>
<g clip-path="url(#cr)" fill="none" stroke-width="1.8" stroke-linejoin="round">
<path d="M410.10,219.60 L470.83,219.60 L472.11,215.14 L473.38,210.74 L474.66,206.41 L475.93,202.15 L477.20,197.94 L478.48,193.80 L479.75,189.72 L481.03,185.70 L482.30,181.74 L483.57,177.83 L484.85,173.98 L486.12,170.18 L487.40,166.44 L488.67,162.74 L489.94,159.10 L491.22,155.51 L492.49,151.97 L493.77,148.47 L495.04,145.02 L496.31,141.62 L497.59,138.26 L498.86,134.95 L500.14,131.68 L501.41,128.45 L502.69,125.27 L503.96,122.12 L505.23,119.02 L506.51,115.95 L507.78,112.92 L509.06,109.93 L510.33,106.98 L511.60,104.06 L512.88,101.18 L514.15,98.34 L515.43,95.53 L516.70,92.75 L517.97,90.00 L519.25,87.29 L520.52,84.61 L521.80,81.97 L523.07,79.35 L524.34,76.76 L525.62,74.21 L526.89,71.68 L528.17,69.18 L529.44,66.71 L530.71,64.27 L531.99,61.85 L533.26,59.46 L534.54,57.10 L535.81,54.77 L537.08,52.46 L538.36,50.17 L539.63,47.91 L540.91,45.68 L542.18,43.47 L543.45,41.28 L544.73,39.11 L546.00,36.97 L666.07,36.97 L666.07,219.60 L697.50,219.60" stroke="#00ff00"/>
<path d="M410.10,219.60 L410.50,219.60 L410.91,219.60 L411.31,219.60 L411.71,219.60 L412.11,219.60 L412.52,219.60 L412.92,219.60 L413.32,219.60 L413.72,219.60 L414.12,219.60 L414.53,219.60 L414.93,219.60 L415.33,219.60 L415.73,219.60 L416.13,219.60 L416.54,219.60 L416.94,219.60 L417.34,219.60 L417.74,219.60 L418.14,219.60 L418.55,219.60 L418.95,219.60 L419.35,219.60 L419.75,219.60 L420.15,219.60 L420.55,219.60 L420.95,219.60 L421.36,219.60 L421.76,219.60 L422.16,219.60 L422.56,219.60 L422.96,219.60 L423.36,219.60 L423.76,219.60 L424.16,219.60 L424.57,219.60 L424.97,219.60 L425.37,219.60 L425.77,219.60 L426.17,219.60 L426.57,219.60 L426.97,219.60 L427.37,219.60 L427.77,219.60 L428.17,219.60 L428.57,219.60 L428.97,219.60 L429.37,219.60 L429.77,219.60 L430.17,219.60 L430.57,219.60 L430.98,219.60 L431.38,219.60 L431.78,219.60 L432.18,219.60 L432.58,219.60 L432.98,219.60 L433.38,219.60 L433.78,219.60 L434.18,219.60 L434.58,219.60 L434.98,219.60 L435.38,219.60 L435.78,219.60 L436.18,219.60 L436.58,219.60 L436.98,219.60 L437.38,219.60 L437.77,219.60 L438.17,219.60 L438.57,219.60 L438.97,219.60 L439.37,219.60 L439.77,219.60 L440.17,219.60 L440.57,219.60 L440.97,219.60 L441.37,219.60 L441.77,219.60 L442.17,219.60 L442.57,219.60 L442.97,219.60 L443.37,219.60 L443.77,219.60 L444.17,219.60 L444.57,219.60 L444.96,219.60 L445.36,219.60 L445.76,219.60 L446.16,219.60 L446.56,219.60 L446.96,219.60 L447.36,219.60 L447.76,219.60 L448.16,219.60 L448.56,219.60 L448.95,219.60 L449.35,219.60 L449.75,219.60 L450.15,219.60 L450.55,219.60 L450.95,219.60 L451.35,219.60 L451.75,219.60 L452.14,219.60 L452.54,219.60 L452.94,219.60 L453.34,219.60 L453.74,219.60 L454.14,219.60 L454.54,219.60 L454.93,219.60 L455.33,219.60 L455.73,219.60 L456.13,219.60 L456.53,219.60 L456.93,219.60 L457.32,219.60 L457.72,219.60 L458.12,219.60 L458.52,219.60 L458.92,219.60 L459.32,219.60 L459.71,219.60 L460.11,219.60 L460.51,219.60 L460.91,219.60 L461.31,219.60 L461.71,219.60 L462.10,219.60 L462.50,219.60 L462.90,219.60 L463.30,219.59 L463.70,219.57 L464.10,219.53 L464.50,219.47 L464.90,219.41 L465.29,219.34 L465.68,219.26 L466.07,219.16 L466.46,219.02 L466.84,218.86 L467.20,218.68 L467.52,218.49 L467.82,218.27 L468.10,218.01 L468.38,217.72 L468.64,217.40 L468.89,217.06 L469.12,216.72 L469.35,216.36 L469.56,216.01 L469.76,215.66 L469.95,215.32 L470.13,214.97 L470.29,214.61 L470.45,214.24 L470.60,213.87 L470.74,213.49 L470.89,213.11 L471.03,212.73 L471.18,212.36 L471.33,211.99 L471.49,211.62 L471.66,211.26 L471.83,210.89 L472.01,210.54 L472.20,210.18 L472.38,209.82 L472.56,209.47 L472.75,209.11 L472.93,208.75 L473.11,208.40 L473.29,208.04 L473.46,207.68 L473.62,207.31 L473.78,206.95 L473.93,206.58 L474.07,206.21 L474.22,205.84 L474.35,205.46 L474.49,205.09 L474.62,204.71 L474.75,204.33 L474.88,203.95 L475.00,203.57 L475.12,203.19 L475.25,202.81 L475.37,202.43 L475.49,202.04 L475.61,201.66 L475.73,201.28 L475.85,200.90 L475.98,200.52 L476.10,200.13 L476.23,199.75 L476.36,199.37 L476.49,199.00 L476.62,198.62 L476.76,198.24 L476.90,197.87 L477.04,197.49 L477.18,197.12 L477.32,196.75 L477.47,196.38 L477.62,196.00 L477.76,195.63 L477.91,195.26 L478.06,194.89 L478.21,194.52 L478.36,194.15 L478.51,193.77 L478.66,193.40 L478.81,193.03 L478.96,192.66 L479.10,192.29 L479.25,191.91 L479.39,191.54 L479.53,191.17 L479.68,190.79 L479.81,190.42 L479.95,190.04 L480.08,189.67 L480.21,189.29 L480.34,188.91 L480.47,188.53 L480.60,188.15 L480.72,187.77 L480.85,187.39 L480.97,187.01 L481.10,186.63 L481.23,186.25 L481.36,185.87 L481.49,185.50 L481.62,185.12 L481.75,184.74 L481.87,184.36 L482.00,183.98 L482.13,183.60 L482.26,183.22 L482.39,182.85 L482.52,182.47 L482.65,182.09 L482.78,181.71 L482.91,181.33 L483.04,180.95 L483.17,180.58 L483.30,180.20 L483.43,179.82 L483.56,179.44 L483.69,179.06 L483.83,178.69 L483.96,178.31 L484.09,177.93 L484.22,177.55 L484.35,177.17 L484.48,176.80 L484.61,176.42 L484.74,176.04 L484.88,175.66 L485.01,175.29 L485.14,174.91 L485.27,174.53 L485.40,174.15 L485.54,173.78 L485.67,173.40 L485.80,173.02 L485.93,172.64 L486.07,172.27 L486.20,171.89 L486.33,171.51 L486.47,171.13 L486.60,170.76 L486.73,170.38 L486.87,170.00 L487.00,169.63 L487.13,169.25 L487.27,168.87 L487.40,168.49 L487.53,168.12 L487.67,167.74 L487.80,167.36 L487.94,166.99 L488.07,166.61 L488.20,166.23 L488.34,165.86 L488.47,165.48 L488.61,165.10 L488.74,164.73 L488.88,164.35 L489.01,163.97 L489.15,163.60 L489.28,163.22 L489.42,162.84 L489.56,162.47 L489.69,162.09 L489.83,161.72 L489.96,161.34 L490.10,160.96 L490.23,160.59 L490.37,160.21 L490.51,159.84 L490.64,159.46 L490.78,159.08 L490.92,158.71 L491.05,158.33 L491.19,157.96 L491.33,157.58 L491.46,157.20 L491.60,156.83 L491.74,156.45 L491.87,156.08 L492.01,155.70 L492.15,155.32 L492.29,154.95 L492.42,154.57 L492.56,154.20 L492.70,153.82 L492.84,153.45 L492.98,153.07 L493.11,152.70 L493.25,152.32 L493.39,151.95 L493.53,151.57 L493.67,151.19 L493.81,150.82 L493.94,150.44 L494.08,150.07 L494.22,149.69 L494.36,149.32 L494.50,148.94 L494.64,148.57 L494.78,148.19 L494.92,147.82 L495.06,147.44 L495.20,147.07 L495.34,146.70 L495.48,146.32 L495.62,145.95 L495.76,145.57 L495.90,145.20 L496.04,144.82 L496.18,144.45 L496.32,144.07 L496.46,143.70 L496.60,143.32 L496.74,142.95 L496.89,142.58 L497.03,142.20 L497.17,141.83 L497.31,141.45 L497.45,141.08 L497.60,140.71 L497.74,140.33 L497.88,139.96 L498.02,139.59 L498.17,139.21 L498.31,138.84 L498.45,138.47 L498.60,138.09 L498.74,137.72 L498.88,137.35 L499.03,136.97 L499.17,136.60 L499.32,136.23 L499.46,135.85 L499.61,135.48 L499.75,135.11 L499.90,134.73 L500.04,134.36 L500.19,133.99 L500.33,133.62 L500.48,133.24 L500.63,132.87 L500.77,132.50 L500.92,132.13 L501.07,131.76 L501.21,131.38 L501.36,131.01 L501.51,130.64 L501.65,130.27 L501.80,129.90 L501.95,129.52 L502.10,129.15 L502.25,128.78 L502.39,128.41 L502.54,128.04 L502.69,127.67 L502.84,127.30 L502.99,126.93 L503.14,126.55 L503.29,126.18 L503.44,125.81 L503.59,125.44 L503.74,125.07 L503.89,124.70 L504.04,124.33 L504.19,123.96 L504.35,123.59 L504.50,123.22 L504.65,122.85 L504.80,122.48 L504.95,122.11 L505.11,121.74 L505.26,121.37 L505.41,121.00 L505.56,120.63 L505.72,120.26 L505.87,119.89 L506.03,119.52 L506.18,119.15 L506.34,118.79 L506.49,118.42 L506.65,118.05 L506.80,117.68 L506.96,117.31 L507.12,116.94 L507.27,116.58 L507.43,116.21 L507.59,115.84 L507.74,115.47 L507.90,115.11 L508.06,114.74 L508.22,114.37 L508.38,114.00 L508.54,113.64 L508.70,113.27 L508.86,112.90 L509.02,112.54 L509.18,112.17 L509.34,111.81 L509.50,111.44 L509.66,111.07 L509.82,110.71 L509.99,110.34 L510.15,109.98 L510.31,109.61 L510.47,109.24 L510.64,108.88 L510.80,108.51 L510.96,108.15 L511.13,107.78 L511.29,107.42 L511.46,107.05 L511.62,106.69 L511.78,106.33 L511.95,105.96 L512.11,105.60 L512.28,105.23 L512.45,104.87 L512.61,104.50 L512.78,104.14 L512.94,103.78 L513.11,103.41 L513.28,103.05 L513.44,102.69 L513.61,102.32 L513.78,101.96 L513.94,101.60 L514.11,101.23 L514.28,100.87 L514.45,100.51 L514.62,100.14 L514.78,99.78 L514.95,99.42 L515.12,99.05 L515.29,98.69 L515.46,98.33 L515.63,97.97 L515.80,97.60 L515.96,97.24 L516.13,96.88 L516.30,96.52 L516.47,96.15 L516.64,95.79 L516.81,95.43 L516.98,95.07 L517.15,94.71 L517.32,94.34 L517.49,93.98 L517.66,93.62 L517.83,93.26 L518.01,92.90 L518.18,92.53 L518.35,92.17 L518.52,91.81 L518.69,91.45 L518.86,91.09 L519.03,90.73 L519.20,90.37 L519.37,90.00 L519.54,89.64 L519.72,89.28 L519.89,88.92 L520.06,88.56 L520.23,88.20 L520.40,87.84 L520.58,87.48 L520.75,87.11 L520.92,86.75 L521.09,86.39 L521.27,86.03 L521.44,85.67 L521.61,85.31 L521.79,84.95 L521.96,84.59 L522.13,84.23 L522.31,83.87 L522.48,83.51 L522.66,83.15 L522.83,82.79 L523.01,82.43 L523.18,82.07 L523.36,81.71 L523.53,81.35 L523.71,80.99 L523.88,80.63 L524.06,80.27 L524.24,79.91 L524.41,79.56 L524.59,79.20 L524.77,78.84 L524.94,78.48 L525.12,78.12 L525.30,77.76 L525.48,77.40 L525.66,77.05 L525.83,76.69 L526.01,76.33 L526.19,75.97 L526.37,75.62 L526.55,75.26 L526.73,74.90 L526.91,74.54 L527.09,74.19 L527.27,73.83 L527.45,73.47 L527.64,73.12 L527.82,72.76 L528.00,72.41 L528.18,72.05 L528.37,71.69 L528.55,71.34 L528.74,70.98 L528.92,70.63 L529.10,70.27 L529.29,69.92 L529.48,69.57 L529.66,69.21 L529.85,68.86 L530.04,68.51 L530.23,68.16 L530.43,67.81 L530.62,67.46 L530.82,67.11 L531.02,66.76 L531.22,66.41 L531.42,66.07 L531.62,65.72 L531.82,65.38 L532.02,65.03 L532.22,64.69 L532.43,64.34 L532.63,64.00 L532.84,63.66 L533.05,63.31 L533.25,62.97 L533.46,62.63 L533.67,62.29 L533.88,61.95 L534.09,61.61 L534.30,61.27 L534.51,60.93 L534.73,60.59 L534.94,60.25 L535.16,59.92 L535.38,59.58 L535.59,59.24 L535.80,58.90 L536.01,58.56 L536.22,58.22 L536.42,57.88 L536.62,57.53 L536.81,57.18 L537.00,56.83 L537.19,56.47 L537.38,56.12 L537.56,55.76 L537.74,55.41 L537.92,55.05 L538.10,54.69 L538.28,54.33 L538.45,53.97 L538.63,53.60 L538.80,53.24 L538.98,52.88 L539.16,52.52 L539.33,52.16 L539.51,51.80 L539.69,51.44 L539.87,51.09 L540.05,50.73 L540.24,50.37 L540.42,50.02 L540.61,49.67 L540.80,49.32 L541.00,48.97 L541.20,48.63 L541.40,48.29 L541.61,47.95 L541.82,47.61 L542.04,47.28 L542.26,46.94 L542.48,46.61 L542.71,46.29 L542.94,45.96 L543.18,45.63 L543.42,45.31 L543.66,44.99 L543.91,44.67 L544.15,44.36 L544.40,44.05 L544.65,43.73 L544.90,43.42 L545.15,43.10 L545.40,42.77 L545.65,42.44 L545.91,42.12 L546.16,41.79 L546.42,41.47 L546.69,41.16 L546.95,40.85 L547.23,40.56 L547.51,40.28 L547.80,40.01 L548.09,39.76 L548.40,39.54 L548.71,39.33 L549.04,39.14 L549.39,38.95 L549.75,38.77 L550.12,38.60 L550.49,38.44 L550.88,38.30 L551.26,38.16 L551.65,38.03 L552.03,37.92 L552.41,37.81 L552.80,37.70 L553.19,37.59 L553.58,37.49 L553.97,37.39 L554.37,37.30 L554.76,37.23 L555.16,37.17 L555.56,37.12 L555.95,37.10 L556.35,37.10 L556.74,37.10 L557.14,37.11 L557.54,37.12 L557.94,37.13 L558.34,37.14 L558.74,37.15 L559.14,37.17 L559.54,37.18 L559.94,37.20 L560.34,37.21 L560.74,37.23 L561.14,37.24 L561.55,37.25 L561.95,37.26 L562.35,37.27 L562.75,37.27 L563.15,37.27 L563.55,37.27 L563.95,37.27 L564.35,37.28 L564.75,37.28 L565.15,37.28 L565.55,37.28 L565.95,37.28 L566.35,37.28 L566.75,37.28 L567.15,37.28 L567.55,37.28 L567.95,37.28 L568.35,37.29 L568.75,37.29 L569.15,37.29 L569.55,37.29 L569.95,37.29 L570.35,37.29 L570.75,37.29 L571.15,37.29 L571.55,37.29 L571.95,37.29 L572.35,37.29 L572.75,37.29 L573.15,37.30 L573.55,37.30 L573.95,37.30 L574.35,37.30 L574.75,37.30 L575.15,37.30 L575.55,37.30 L575.95,37.30 L576.35,37.30 L576.75,37.30 L577.15,37.30 L577.55,37.30 L577.95,37.30 L578.35,37.30 L578.75,37.30 L579.15,37.31 L579.55,37.31 L579.95,37.31 L580.35,37.31 L580.75,37.31 L581.15,37.31 L581.55,37.31 L581.95,37.31 L582.35,37.31 L582.75,37.31 L583.15,37.31 L583.55,37.31 L583.95,37.31 L584.35,37.31 L584.75,37.31 L585.15,37.31 L585.55,37.31 L585.95,37.31 L586.35,37.31 L586.75,37.31 L587.15,37.31 L587.55,37.31 L587.95,37.31 L588.35,37.32 L588.75,37.32 L589.15,37.32 L589.55,37.32 L589.95,37.32 L590.35,37.32 L590.75,37.32 L591.15,37.32 L591.55,37.32 L591.95,37.32 L592.35,37.32 L592.75,37.32 L593.15,37.32 L593.55,37.32 L593.95,37.32 L594.35,37.32 L594.75,37.32 L595.15,37.32 L595.55,37.32 L595.95,37.32 L596.35,37.32 L596.75,37.32 L597.15,37.32 L597.55,37.32 L597.95,37.32 L598.35,37.32 L598.75,37.32 L599.15,37.32 L599.55,37.32 L599.95,37.32 L600.35,37.32 L600.75,37.32 L601.15,37.32 L601.55,37.32 L601.95,37.32 L602.35,37.32 L602.75,37.32 L603.15,37.32 L603.55,37.32 L603.95,37.32 L604.35,37.32 L604.75,37.32 L605.15,37.32 L605.55,37.32 L605.95,37.32 L606.35,37.32 L606.75,37.32 L607.15,37.32 L607.55,37.32 L607.95,37.32 L608.35,37.32 L608.75,37.32 L609.15,37.32 L609.55,37.32 L609.95,37.32 L610.35,37.33 L610.75,37.33 L611.15,37.33 L611.55,37.33 L611.95,37.33 L612.35,37.33 L612.75,37.33 L613.15,37.33 L613.55,37.33 L613.95,37.33 L614.35,37.33 L614.75,37.33 L615.15,37.33 L615.55,37.33 L615.95,37.33 L616.35,37.33 L616.75,37.33 L617.15,37.33 L617.55,37.33 L617.95,37.33 L618.35,37.33 L618.75,37.33 L619.15,37.33 L619.55,37.33 L619.95,37.33 L620.35,37.33 L620.75,37.33 L621.15,37.33 L621.55,37.33 L621.95,37.33 L622.35,37.33 L622.75,37.33 L623.15,37.33 L623.55,37.33 L623.95,37.33 L624.35,37.33 L624.75,37.33 L625.15,37.33 L625.55,37.33 L625.95,37.33 L626.35,37.33 L626.75,37.33 L627.15,37.33 L627.55,37.33 L627.95,37.33 L628.35,37.33 L628.75,37.33 L629.15,37.33 L629.55,37.33 L629.95,37.33 L630.35,37.33 L630.75,37.33 L631.15,37.33 L631.55,37.33 L631.95,37.33 L632.35,37.34 L632.75,37.34 L633.15,37.34 L633.55,37.34 L633.95,37.34 L634.35,37.34 L634.75,37.34 L635.15,37.34 L635.55,37.34 L635.95,37.34 L636.35,37.34 L636.75,37.34 L637.15,37.34 L637.55,37.34 L637.95,37.34 L638.35,37.34 L638.75,37.34 L639.15,37.34 L639.55,37.34 L639.95,37.34 L640.35,37.34 L640.75,37.34 L641.15,37.34 L641.55,37.35 L641.95,37.35 L642.35,37.35 L642.75,37.35 L643.15,37.35 L643.55,37.35 L643.95,37.35 L644.35,37.35 L644.75,37.35 L645.15,37.35 L645.55,37.35 L645.95,37.35 L646.35,37.35 L646.75,37.35 L647.15,37.35 L647.55,37.36 L647.95,37.36 L648.35,37.36 L648.75,37.36 L649.15,37.36 L649.55,37.36 L649.95,37.36 L650.35,37.36 L650.75,37.36 L651.15,37.36 L651.55,37.36 L651.95,37.36 L652.35,37.37 L652.75,37.37 L653.15,37.37 L653.55,37.37 L653.95,37.37 L654.35,37.37 L654.75,37.37 L655.15,37.37 L655.55,37.37 L655.96,37.37 L656.36,37.38 L656.77,37.38 L657.18,37.38 L657.59,37.38 L658.00,37.38 L658.41,37.39 L658.82,37.39 L659.22,37.39 L659.63,37.40 L660.03,37.40 L660.44,37.41 L660.84,37.41 L661.23,37.42 L661.63,37.43 L662.02,37.44 L662.40,37.45 L662.78,37.46 L663.16,37.47 L663.55,37.51 L663.98,37.65 L664.38,37.87 L664.65,38.12 L664.77,38.38 L664.85,38.68 L664.93,39.04 L664.99,39.44 L665.05,39.86 L665.09,40.30 L665.13,40.75 L665.16,41.19 L665.18,41.63 L665.20,42.04 L665.22,42.43 L665.23,42.83 L665.24,43.23 L665.25,43.63 L665.26,44.03 L665.27,44.43 L665.28,44.83 L665.29,45.23 L665.30,45.62 L665.31,46.02 L665.32,46.42 L665.33,46.82 L665.34,47.22 L665.34,47.62 L665.35,48.02 L665.36,48.42 L665.36,48.82 L665.37,49.22 L665.37,49.62 L665.38,50.02 L665.38,50.42 L665.39,50.82 L665.39,51.22 L665.40,51.62 L665.40,52.03 L665.41,52.43 L665.41,52.83 L665.41,53.23 L665.42,53.63 L665.42,54.03 L665.43,54.43 L665.43,54.83 L665.43,55.23 L665.44,55.63 L665.44,56.03 L665.45,56.43 L665.45,56.83 L665.46,57.23 L665.46,57.63 L665.47,58.03 L665.47,58.43 L665.48,58.83 L665.49,59.23 L665.49,59.63 L665.50,60.03 L665.51,60.43 L665.52,60.83 L665.52,61.23 L665.53,61.63 L665.54,62.03 L665.54,62.43 L665.55,62.83 L665.56,63.23 L665.57,63.63 L665.58,64.03 L665.58,64.43 L665.59,64.83 L665.60,65.23 L665.61,65.63 L665.61,66.03 L665.62,66.43 L665.63,66.83 L665.64,67.23 L665.65,67.63 L665.66,68.03 L665.66,68.43 L665.67,68.83 L665.68,69.23 L665.69,69.63 L665.70,70.03 L665.71,70.43 L665.71,70.83 L665.72,71.23 L665.73,71.63 L665.74,72.03 L665.75,72.43 L665.76,72.83 L665.76,73.23 L665.77,73.63 L665.78,74.03 L665.79,74.43 L665.80,74.83 L665.81,75.23 L665.82,75.63 L665.82,76.03 L665.83,76.43 L665.84,76.83 L665.85,77.23 L665.86,77.63 L665.87,78.03 L665.88,78.43 L665.88,78.83 L665.89,79.23 L665.90,79.63 L665.91,80.03 L665.92,80.43 L665.93,80.83 L665.94,81.23 L665.94,81.63 L665.95,82.03 L665.96,82.43 L665.97,82.83 L665.98,83.23 L665.99,83.63 L666.00,84.03 L666.00,84.43 L666.01,84.83 L666.02,85.23 L666.03,85.63 L666.04,86.03 L666.05,86.43 L666.05,86.83 L666.06,87.23 L666.07,87.63 L666.08,88.03 L666.09,88.43 L666.09,88.83 L666.10,89.23 L666.11,89.63 L666.12,90.03 L666.13,90.43 L666.13,90.83 L666.14,91.23 L666.15,91.63 L666.16,92.03 L666.17,92.43 L666.17,92.83 L666.18,93.23 L666.19,93.63 L666.20,94.03 L666.20,94.43 L666.21,94.83 L666.22,95.23 L666.23,95.63 L666.23,96.03 L666.24,96.43 L666.25,96.83 L666.25,97.23 L666.26,97.63 L666.27,98.03 L666.27,98.43 L666.28,98.83 L666.29,99.23 L666.29,99.63 L666.30,100.03 L666.31,100.43 L666.31,100.83 L666.32,101.23 L666.33,101.63 L666.33,102.03 L666.34,102.43 L666.34,102.83 L666.35,103.23 L666.36,103.63 L666.36,104.03 L666.37,104.43 L666.37,104.83 L666.38,105.23 L666.38,105.63 L666.39,106.03 L666.39,106.43 L666.40,106.83 L666.41,107.23 L666.41,107.63 L666.42,108.03 L666.42,108.43 L666.43,108.83 L666.43,109.23 L666.44,109.63 L666.44,110.03 L666.45,110.43 L666.45,110.83 L666.46,111.23 L666.46,111.63 L666.47,112.03 L666.47,112.43 L666.48,112.83 L666.48,113.23 L666.49,113.63 L666.49,114.03 L666.50,114.43 L666.50,114.83 L666.50,115.23 L666.51,115.63 L666.51,116.03 L666.52,116.43 L666.52,116.83 L666.53,117.23 L666.53,117.63 L666.54,118.02 L666.54,118.42 L666.55,118.82 L666.55,119.22 L666.56,119.62 L666.56,120.02 L666.56,120.42 L666.57,120.82 L666.57,121.22 L666.58,121.62 L666.58,122.02 L666.59,122.42 L666.59,122.82 L666.60,123.22 L666.60,123.62 L666.61,124.02 L666.61,124.42 L666.61,124.82 L666.62,125.22 L666.62,125.62 L666.63,126.02 L666.63,126.42 L666.64,126.82 L666.64,127.22 L666.65,127.62 L666.65,128.02 L666.66,128.42 L666.66,128.82 L666.67,129.22 L666.67,129.62 L666.68,130.02 L666.68,130.42 L666.69,130.82 L666.69,131.22 L666.70,131.62 L666.70,132.02 L666.71,132.42 L666.71,132.82 L666.72,133.22 L666.72,133.62 L666.73,134.02 L666.73,134.42 L666.74,134.82 L666.75,135.22 L666.75,135.62 L666.76,136.02 L666.76,136.42 L666.77,136.82 L666.77,137.22 L666.78,137.62 L666.79,138.02 L666.79,138.42 L666.80,138.82 L666.80,139.22 L666.81,139.62 L666.82,140.02 L666.82,140.42 L666.83,140.82 L666.84,141.22 L666.84,141.62 L666.85,142.02 L666.85,142.42 L666.86,142.82 L666.87,143.22 L666.88,143.62 L666.88,144.02 L666.89,144.42 L666.90,144.82 L666.90,145.22 L666.91,145.62 L666.92,146.02 L666.93,146.42 L666.93,146.82 L666.94,147.22 L666.95,147.62 L666.96,148.02 L666.97,148.42 L666.98,148.82 L666.99,149.22 L667.00,149.62 L667.00,150.02 L667.01,150.42 L667.02,150.82 L667.03,151.22 L667.04,151.62 L667.05,152.02 L667.06,152.42 L667.07,152.82 L667.08,153.22 L667.09,153.62 L667.10,154.02 L667.11,154.42 L667.12,154.82 L667.13,155.22 L667.15,155.62 L667.16,156.02 L667.17,156.42 L667.18,156.82 L667.19,157.22 L667.20,157.62 L667.21,158.02 L667.22,158.42 L667.23,158.82 L667.25,159.22 L667.26,159.62 L667.27,160.02 L667.28,160.42 L667.29,160.82 L667.30,161.22 L667.32,161.62 L667.33,162.02 L667.34,162.42 L667.35,162.82 L667.36,163.22 L667.37,163.62 L667.39,164.02 L667.40,164.42 L667.41,164.82 L667.42,165.22 L667.43,165.62 L667.44,166.02 L667.46,166.41 L667.47,166.81 L667.48,167.21 L667.49,167.61 L667.50,168.01 L667.51,168.41 L667.53,168.81 L667.54,169.21 L667.55,169.61 L667.56,170.01 L667.57,170.41 L667.58,170.81 L667.60,171.21 L667.61,171.61 L667.62,172.01 L667.63,172.41 L667.64,172.81 L667.65,173.21 L667.66,173.61 L667.67,174.01 L667.68,174.41 L667.69,174.81 L667.71,175.21 L667.72,175.61 L667.73,176.01 L667.74,176.41 L667.75,176.81 L667.76,177.21 L667.77,177.61 L667.78,178.01 L667.79,178.41 L667.80,178.81 L667.81,179.21 L667.82,179.61 L667.83,180.01 L667.84,180.41 L667.85,180.81 L667.86,181.21 L667.87,181.61 L667.88,182.01 L667.89,182.41 L667.90,182.81 L667.91,183.21 L667.92,183.61 L667.93,184.01 L667.94,184.41 L667.95,184.81 L667.96,185.21 L667.97,185.61 L667.98,186.01 L667.99,186.41 L668.00,186.81 L668.02,187.21 L668.03,187.61 L668.04,188.01 L668.05,188.41 L668.06,188.81 L668.07,189.21 L668.08,189.61 L668.09,190.01 L668.10,190.41 L668.11,190.81 L668.12,191.21 L668.13,191.61 L668.14,192.01 L668.15,192.41 L668.16,192.81 L668.17,193.21 L668.18,193.61 L668.19,194.01 L668.20,194.41 L668.21,194.81 L668.22,195.21 L668.23,195.60 L668.24,196.00 L668.26,196.40 L668.27,196.80 L668.28,197.20 L668.29,197.60 L668.30,198.00 L668.31,198.40 L668.32,198.80 L668.33,199.20 L668.34,199.60 L668.35,200.00 L668.37,200.40 L668.38,200.80 L668.39,201.20 L668.40,201.60 L668.41,202.00 L668.42,202.40 L668.43,202.80 L668.45,203.20 L668.46,203.60 L668.47,204.00 L668.48,204.40 L668.49,204.80 L668.51,205.20 L668.52,205.60 L668.53,206.00 L668.54,206.40 L668.55,206.80 L668.56,207.20 L668.57,207.60 L668.58,208.00 L668.59,208.40 L668.60,208.80 L668.61,209.21 L668.62,209.61 L668.63,210.01 L668.64,210.41 L668.66,210.81 L668.67,211.21 L668.69,211.61 L668.70,212.00 L668.72,212.40 L668.74,212.80 L668.76,213.20 L668.78,213.60 L668.80,214.00 L668.83,214.41 L668.85,214.83 L668.89,215.28 L668.93,215.72 L668.98,216.17 L669.03,216.61 L669.09,217.03 L669.16,217.44 L669.24,217.81 L669.33,218.14 L669.43,218.44 L669.55,218.69 L669.79,218.93 L670.14,219.17 L670.56,219.38 L671.00,219.53 L671.41,219.60 L671.79,219.60 L672.16,219.60 L672.53,219.60 L672.91,219.60 L673.28,219.60 L673.65,219.60 L674.03,219.60 L674.41,219.60 L674.78,219.60 L675.16,219.60 L675.54,219.60 L675.92,219.60 L676.30,219.60 L676.68,219.60 L677.06,219.60 L677.44,219.60 L677.82,219.60 L678.21,219.60 L678.59,219.60 L678.98,219.60 L679.36,219.60 L679.75,219.60 L680.14,219.60 L680.52,219.60 L680.91,219.60 L681.30,219.60 L681.70,219.60 L682.09,219.60 L682.48,219.60 L682.88,219.60 L683.27,219.60 L683.67,219.60 L684.06,219.60 L684.46,219.60 L684.86,219.60 L685.26,219.60 L685.66,219.60 L686.07,219.60 L686.47,219.60 L686.87,219.60 L687.28,219.60 L687.69,219.60 L688.10,219.60 L688.51,219.60 L688.92,219.60 L689.33,219.60 L689.74,219.60 L690.16,219.60 L690.57,219.60 L690.99,219.60 L691.41,219.60 L691.83,219.60 L692.25,219.60 L692.67,219.60 L693.09,219.60 L693.52,219.60 L693.94,219.60 L694.37,219.60 L694.80,219.60 L695.23,219.60 L695.66,219.60 L696.10,219.60 L696.53,219.60 L696.97,219.60 L697.40,219.60" stroke="#ff0000" stroke-dasharray="8.5 2.5 1.5 2.5 1.5 2.8"/>
<path d="M410.10,219.60 L410.50,219.60 L410.90,219.60 L411.31,219.60 L411.71,219.60 L412.11,219.60 L412.51,219.60 L412.91,219.60 L413.32,219.60 L413.72,219.60 L414.12,219.60 L414.52,219.60 L414.92,219.60 L415.32,219.60 L415.73,219.60 L416.13,219.60 L416.53,219.60 L416.93,219.60 L417.33,219.60 L417.73,219.60 L418.13,219.60 L418.53,219.60 L418.93,219.60 L419.33,219.60 L419.73,219.60 L420.13,219.60 L420.53,219.60 L420.93,219.60 L421.33,219.60 L421.73,219.60 L422.14,219.60 L422.54,219.60 L422.94,219.60 L423.34,219.60 L423.73,219.60 L424.13,219.60 L424.53,219.60 L424.93,219.60 L425.33,219.60 L425.73,219.60 L426.13,219.60 L426.53,219.60 L426.93,219.60 L427.33,219.60 L427.73,219.60 L428.13,219.60 L428.53,219.60 L428.93,219.60 L429.33,219.60 L429.73,219.60 L430.12,219.60 L430.52,219.60 L430.92,219.60 L431.32,219.60 L431.72,219.60 L432.12,219.60 L432.52,219.60 L432.92,219.60 L433.31,219.60 L433.71,219.60 L434.11,219.60 L434.51,219.60 L434.91,219.60 L435.31,219.60 L435.71,219.60 L436.10,219.60 L436.50,219.60 L436.90,219.60 L437.30,219.60 L437.70,219.58 L438.10,219.56 L438.49,219.52 L438.89,219.48 L439.29,219.43 L439.69,219.37 L440.09,219.31 L440.48,219.25 L440.88,219.19 L441.28,219.12 L441.67,219.05 L442.06,218.99 L442.46,218.92 L442.85,218.85 L443.24,218.78 L443.64,218.70 L444.03,218.61 L444.42,218.52 L444.82,218.43 L445.21,218.33 L445.60,218.23 L445.99,218.12 L446.37,218.01 L446.75,217.90 L447.14,217.78 L447.51,217.66 L447.89,217.54 L448.26,217.41 L448.63,217.27 L449.00,217.13 L449.37,216.97 L449.74,216.81 L450.11,216.65 L450.48,216.47 L450.84,216.29 L451.20,216.11 L451.56,215.91 L451.92,215.72 L452.27,215.52 L452.61,215.31 L452.95,215.11 L453.29,214.90 L453.62,214.68 L453.95,214.47 L454.27,214.25 L454.59,214.02 L454.90,213.78 L455.22,213.53 L455.52,213.28 L455.83,213.02 L456.13,212.76 L456.43,212.49 L456.73,212.22 L457.02,211.94 L457.32,211.66 L457.61,211.38 L457.89,211.09 L458.18,210.80 L458.46,210.51 L458.74,210.22 L459.02,209.93 L459.30,209.64 L459.57,209.35 L459.85,209.06 L460.12,208.77 L460.39,208.47 L460.65,208.18 L460.92,207.88 L461.18,207.58 L461.44,207.28 L461.70,206.97 L461.95,206.67 L462.21,206.36 L462.46,206.05 L462.71,205.73 L462.96,205.42 L463.21,205.11 L463.46,204.79 L463.71,204.47 L463.95,204.15 L464.20,203.84 L464.44,203.52 L464.69,203.20 L464.93,202.88 L465.17,202.56 L465.41,202.24 L465.65,201.92 L465.90,201.60 L466.14,201.29 L466.38,200.97 L466.63,200.65 L466.87,200.33 L467.12,200.02 L467.36,199.70 L467.61,199.38 L467.85,199.06 L468.10,198.74 L468.35,198.43 L468.59,198.11 L468.84,197.79 L469.09,197.47 L469.33,197.15 L469.58,196.83 L469.82,196.51 L470.06,196.19 L470.30,195.86 L470.55,195.54 L470.79,195.22 L471.02,194.89 L471.26,194.57 L471.50,194.24 L471.73,193.92 L471.96,193.59 L472.19,193.26 L472.42,192.93 L472.65,192.60 L472.87,192.27 L473.10,191.94 L473.32,191.61 L473.53,191.27 L473.75,190.94 L473.96,190.60 L474.17,190.26 L474.37,189.92 L474.57,189.58 L474.77,189.24 L474.97,188.90 L475.16,188.55 L475.35,188.21 L475.53,187.86 L475.71,187.50 L475.89,187.15 L476.06,186.79 L476.23,186.43 L476.39,186.07 L476.56,185.70 L476.72,185.33 L476.87,184.97 L477.03,184.60 L477.19,184.23 L477.34,183.85 L477.49,183.48 L477.65,183.11 L477.80,182.74 L477.96,182.37 L478.11,182.00 L478.27,181.63 L478.43,181.26 L478.59,180.89 L478.76,180.53 L478.92,180.16 L479.09,179.80 L479.27,179.44 L479.44,179.08 L479.61,178.72 L479.79,178.36 L479.96,178.00 L480.14,177.64 L480.31,177.28 L480.49,176.92 L480.67,176.57 L480.85,176.21 L481.03,175.85 L481.21,175.49 L481.39,175.14 L481.57,174.78 L481.75,174.42 L481.93,174.07 L482.12,173.71 L482.30,173.35 L482.48,173.00 L482.66,172.64 L482.84,172.28 L483.03,171.93 L483.21,171.57 L483.39,171.22 L483.57,170.86 L483.75,170.50 L483.94,170.15 L484.12,169.79 L484.31,169.44 L484.49,169.08 L484.68,168.73 L484.86,168.37 L485.05,168.02 L485.23,167.67 L485.42,167.31 L485.61,166.96 L485.80,166.60 L485.98,166.25 L486.17,165.90 L486.36,165.54 L486.55,165.19 L486.73,164.84 L486.92,164.48 L487.11,164.13 L487.29,163.78 L487.48,163.42 L487.67,163.07 L487.85,162.71 L488.04,162.36 L488.22,162.00 L488.41,161.65 L488.59,161.29 L488.77,160.94 L488.95,160.58 L489.14,160.23 L489.32,159.87 L489.49,159.51 L489.67,159.15 L489.85,158.80 L490.03,158.44 L490.20,158.08 L490.38,157.72 L490.55,157.36 L490.72,157.00 L490.89,156.63 L491.06,156.27 L491.23,155.91 L491.40,155.55 L491.57,155.18 L491.74,154.82 L491.91,154.46 L492.08,154.10 L492.25,153.73 L492.41,153.37 L492.58,153.01 L492.75,152.64 L492.92,152.28 L493.09,151.92 L493.26,151.56 L493.43,151.20 L493.61,150.84 L493.78,150.48 L493.95,150.12 L494.13,149.76 L494.30,149.40 L494.48,149.04 L494.66,148.68 L494.84,148.32 L495.02,147.97 L495.20,147.61 L495.38,147.25 L495.56,146.90 L495.74,146.54 L495.93,146.19 L496.11,145.83 L496.30,145.47 L496.48,145.12 L496.67,144.77 L496.85,144.41 L497.04,144.06 L497.22,143.70 L497.41,143.35 L497.60,142.99 L497.78,142.64 L497.97,142.29 L498.16,141.93 L498.35,141.58 L498.53,141.23 L498.72,140.87 L498.91,140.52 L499.10,140.17 L499.28,139.81 L499.47,139.46 L499.66,139.11 L499.85,138.75 L500.03,138.40 L500.22,138.05 L500.41,137.69 L500.60,137.34 L500.78,136.99 L500.97,136.63 L501.16,136.28 L501.34,135.93 L501.53,135.57 L501.72,135.22 L501.91,134.87 L502.09,134.51 L502.28,134.16 L502.47,133.80 L502.65,133.45 L502.84,133.10 L503.03,132.74 L503.22,132.39 L503.40,132.04 L503.59,131.68 L503.78,131.33 L503.97,130.98 L504.15,130.62 L504.34,130.27 L504.53,129.92 L504.72,129.56 L504.91,129.21 L505.09,128.86 L505.28,128.50 L505.47,128.15 L505.66,127.80 L505.85,127.45 L506.03,127.09 L506.22,126.74 L506.41,126.39 L506.60,126.03 L506.79,125.68 L506.98,125.33 L507.17,124.98 L507.36,124.62 L507.54,124.27 L507.73,123.92 L507.92,123.57 L508.11,123.21 L508.30,122.86 L508.49,122.51 L508.68,122.16 L508.87,121.81 L509.06,121.45 L509.25,121.10 L509.44,120.75 L509.63,120.40 L509.82,120.05 L510.02,119.70 L510.21,119.34 L510.40,118.99 L510.59,118.64 L510.78,118.29 L510.97,117.94 L511.17,117.59 L511.36,117.24 L511.55,116.89 L511.74,116.54 L511.93,116.19 L512.13,115.84 L512.32,115.49 L512.51,115.14 L512.71,114.79 L512.90,114.44 L513.10,114.09 L513.29,113.74 L513.48,113.39 L513.68,113.04 L513.87,112.69 L514.07,112.34 L514.26,111.99 L514.46,111.64 L514.65,111.29 L514.85,110.94 L515.04,110.59 L515.24,110.24 L515.43,109.89 L515.63,109.54 L515.82,109.19 L516.02,108.84 L516.21,108.50 L516.41,108.15 L516.60,107.80 L516.80,107.45 L516.99,107.10 L517.19,106.75 L517.38,106.40 L517.58,106.05 L517.78,105.70 L517.97,105.35 L518.17,105.00 L518.37,104.66 L518.56,104.31 L518.76,103.96 L518.96,103.61 L519.15,103.26 L519.35,102.91 L519.55,102.57 L519.75,102.22 L519.95,101.87 L520.15,101.52 L520.35,101.18 L520.55,100.83 L520.75,100.48 L520.95,100.14 L521.15,99.79 L521.35,99.44 L521.55,99.10 L521.75,98.75 L521.95,98.41 L522.15,98.06 L522.36,97.72 L522.56,97.37 L522.76,97.03 L522.97,96.68 L523.17,96.34 L523.38,96.00 L523.58,95.65 L523.79,95.31 L523.99,94.97 L524.20,94.63 L524.41,94.29 L524.62,93.94 L524.82,93.60 L525.03,93.26 L525.24,92.92 L525.45,92.58 L525.66,92.24 L525.87,91.90 L526.08,91.56 L526.30,91.23 L526.51,90.89 L526.73,90.55 L526.94,90.21 L527.16,89.88 L527.38,89.54 L527.59,89.21 L527.81,88.87 L528.03,88.54 L528.25,88.20 L528.48,87.87 L528.70,87.54 L528.92,87.21 L529.15,86.88 L529.38,86.55 L529.60,86.22 L529.83,85.89 L530.06,85.56 L530.29,85.23 L530.52,84.91 L530.75,84.58 L530.99,84.26 L531.23,83.94 L531.47,83.62 L531.70,83.30 L531.94,82.98 L532.19,82.66 L532.43,82.34 L532.67,82.02 L532.91,81.70 L533.15,81.38 L533.39,81.06 L533.63,80.74 L533.87,80.42 L534.10,80.09 L534.34,79.77 L534.57,79.45 L534.81,79.12 L535.04,78.79 L535.27,78.46 L535.49,78.13 L535.72,77.80 L535.95,77.47 L536.18,77.14 L536.40,76.81 L536.63,76.47 L536.86,76.14 L537.09,75.81 L537.32,75.49 L537.55,75.16 L537.78,74.83 L538.01,74.51 L538.25,74.19 L538.49,73.87 L538.73,73.55 L538.97,73.23 L539.22,72.92 L539.47,72.61 L539.72,72.31 L539.98,72.01 L540.24,71.71 L540.51,71.42 L540.79,71.13 L541.06,70.84 L541.35,70.56 L541.63,70.28 L541.92,70.00 L542.21,69.72 L542.50,69.44 L542.79,69.17 L543.08,68.89 L543.37,68.61 L543.66,68.34 L543.95,68.06 L544.24,67.78 L544.52,67.49 L544.80,67.21 L545.08,66.92 L545.35,66.63 L545.63,66.34 L545.90,66.04 L546.16,65.74 L546.43,65.45 L546.70,65.15 L546.96,64.85 L547.23,64.55 L547.49,64.25 L547.76,63.95 L548.02,63.65 L548.28,63.34 L548.54,63.04 L548.81,62.74 L549.07,62.44 L549.33,62.14 L549.59,61.83 L549.86,61.53 L550.12,61.23 L550.38,60.93 L550.64,60.62 L550.90,60.31 L551.15,60.00 L551.41,59.69 L551.67,59.39 L551.92,59.08 L552.18,58.77 L552.44,58.47 L552.71,58.17 L552.97,57.87 L553.24,57.58 L553.52,57.29 L553.79,57.01 L554.08,56.73 L554.36,56.45 L554.66,56.18 L554.95,55.91 L555.25,55.64 L555.55,55.37 L555.85,55.11 L556.15,54.85 L556.46,54.59 L556.77,54.33 L557.08,54.08 L557.39,53.82 L557.70,53.57 L558.01,53.32 L558.32,53.07 L558.63,52.81 L558.94,52.56 L559.25,52.31 L559.56,52.06 L559.88,51.80 L560.19,51.55 L560.51,51.30 L560.82,51.06 L561.14,50.82 L561.46,50.57 L561.78,50.34 L562.11,50.11 L562.44,49.88 L562.76,49.65 L563.10,49.44 L563.43,49.22 L563.77,49.01 L564.11,48.81 L564.45,48.60 L564.80,48.40 L565.14,48.20 L565.49,48.00 L565.84,47.81 L566.19,47.61 L566.55,47.42 L566.90,47.23 L567.26,47.05 L567.61,46.86 L567.97,46.68 L568.33,46.49 L568.68,46.31 L569.04,46.13 L569.40,45.95 L569.76,45.77 L570.11,45.59 L570.47,45.42 L570.83,45.24 L571.19,45.07 L571.56,44.90 L571.92,44.73 L572.28,44.56 L572.65,44.40 L573.01,44.23 L573.38,44.07 L573.74,43.91 L574.11,43.75 L574.48,43.59 L574.84,43.43 L575.21,43.28 L575.58,43.12 L575.95,42.96 L576.32,42.80 L576.69,42.65 L577.06,42.50 L577.43,42.35 L577.80,42.20 L578.17,42.05 L578.55,41.91 L578.92,41.77 L579.30,41.64 L579.68,41.51 L580.05,41.38 L580.43,41.25 L580.81,41.13 L581.19,41.01 L581.58,40.89 L581.96,40.77 L582.34,40.66 L582.73,40.54 L583.11,40.43 L583.50,40.32 L583.88,40.22 L584.27,40.11 L584.66,40.01 L585.04,39.91 L585.43,39.82 L585.82,39.72 L586.21,39.63 L586.60,39.54 L586.99,39.44 L587.38,39.35 L587.77,39.26 L588.16,39.17 L588.55,39.08 L588.94,39.00 L589.34,38.92 L589.73,38.84 L590.12,38.76 L590.52,38.69 L590.91,38.62 L591.30,38.55 L591.70,38.49 L592.09,38.44 L592.49,38.39 L592.88,38.34 L593.28,38.30 L593.68,38.26 L594.07,38.22 L594.47,38.18 L594.87,38.15 L595.27,38.11 L595.67,38.08 L596.07,38.05 L596.47,38.01 L596.87,37.98 L597.27,37.95 L597.67,37.92 L598.07,37.89 L598.47,37.86 L598.86,37.83 L599.26,37.80 L599.66,37.77 L600.06,37.74 L600.46,37.71 L600.86,37.67 L601.26,37.64 L601.66,37.61 L602.05,37.58 L602.45,37.54 L602.85,37.51 L603.25,37.48 L603.65,37.45 L604.05,37.43 L604.45,37.40 L604.85,37.37 L605.25,37.35 L605.65,37.33 L606.05,37.31 L606.44,37.29 L606.84,37.27 L607.24,37.25 L607.64,37.23 L608.04,37.21 L608.44,37.20 L608.84,37.18 L609.24,37.16 L609.64,37.15 L610.04,37.13 L610.44,37.12 L610.84,37.10 L611.24,37.09 L611.64,37.09 L612.04,37.08 L612.44,37.07 L612.84,37.07 L613.24,37.07 L613.64,37.07 L614.04,37.07 L614.44,37.07 L614.84,37.07 L615.24,37.07 L615.64,37.07 L616.04,37.07 L616.44,37.07 L616.84,37.07 L617.24,37.07 L617.64,37.07 L618.04,37.07 L618.44,37.07 L618.84,37.07 L619.24,37.07 L619.64,37.07 L620.04,37.07 L620.44,37.07 L620.84,37.07 L621.24,37.07 L621.64,37.07 L622.04,37.07 L622.44,37.07 L622.84,37.07 L623.24,37.07 L623.64,37.07 L624.04,37.07 L624.44,37.07 L624.84,37.07 L625.24,37.07 L625.64,37.07 L626.04,37.07 L626.44,37.07 L626.84,37.07 L627.24,37.07 L627.64,37.07 L628.04,37.07 L628.44,37.07 L628.84,37.07 L629.24,37.07 L629.64,37.07 L630.04,37.07 L630.44,37.07 L630.84,37.07 L631.24,37.07 L631.64,37.07 L632.04,37.07 L632.44,37.08 L632.84,37.09 L633.24,37.10 L633.64,37.12 L634.04,37.15 L634.44,37.17 L634.84,37.20 L635.24,37.24 L635.64,37.27 L636.03,37.30 L636.43,37.34 L636.83,37.39 L637.22,37.45 L637.62,37.51 L638.01,37.58 L638.40,37.65 L638.80,37.73 L639.19,37.81 L639.58,37.90 L639.98,37.98 L640.37,38.07 L640.76,38.16 L641.15,38.24 L641.54,38.33 L641.93,38.42 L642.32,38.50 L642.71,38.59 L643.11,38.68 L643.50,38.78 L643.89,38.88 L644.28,38.98 L644.66,39.08 L645.05,39.19 L645.43,39.31 L645.80,39.43 L646.18,39.56 L646.55,39.70 L646.92,39.85 L647.29,40.01 L647.66,40.17 L648.02,40.34 L648.39,40.52 L648.75,40.71 L649.10,40.90 L649.45,41.10 L649.80,41.30 L650.14,41.51 L650.47,41.72 L650.80,41.93 L651.13,42.15 L651.46,42.38 L651.78,42.62 L652.10,42.86 L652.42,43.12 L652.74,43.37 L653.05,43.64 L653.36,43.91 L653.66,44.18 L653.95,44.46 L654.24,44.74 L654.51,45.03 L654.78,45.32 L655.04,45.62 L655.29,45.91 L655.54,46.22 L655.78,46.53 L656.01,46.85 L656.24,47.17 L656.46,47.50 L656.68,47.84 L656.90,48.18 L657.11,48.53 L657.32,48.88 L657.52,49.23 L657.72,49.59 L657.91,49.95 L658.10,50.30 L658.28,50.66 L658.46,51.02 L658.64,51.38 L658.81,51.73 L658.98,52.09 L659.14,52.45 L659.30,52.82 L659.45,53.19 L659.61,53.56 L659.75,53.93 L659.90,54.30 L660.04,54.67 L660.19,55.05 L660.32,55.43 L660.46,55.80 L660.60,56.18 L660.73,56.56 L660.87,56.94 L661.00,57.32 L661.14,57.70 L661.27,58.08 L661.40,58.45 L661.54,58.83 L661.67,59.21 L661.81,59.58 L661.95,59.96 L662.09,60.34 L662.22,60.71 L662.36,61.09 L662.49,61.47 L662.63,61.85 L662.75,62.23 L662.88,62.61 L662.99,62.99 L663.11,63.37 L663.21,63.75 L663.32,64.14 L663.42,64.52 L663.51,64.91 L663.61,65.30 L663.70,65.69 L663.79,66.08 L663.88,66.47 L663.97,66.86 L664.05,67.25 L664.14,67.64 L664.22,68.03 L664.30,68.43 L664.38,68.82 L664.46,69.21 L664.53,69.60 L664.61,70.00 L664.69,70.39 L664.76,70.78 L664.84,71.18 L664.92,71.57 L664.99,71.96 L665.07,72.36 L665.14,72.75 L665.22,73.14 L665.29,73.53 L665.37,73.93 L665.44,74.32 L665.51,74.71 L665.59,75.11 L665.66,75.50 L665.73,75.90 L665.80,76.29 L665.87,76.68 L665.94,77.08 L666.00,77.47 L666.07,77.87 L666.13,78.26 L666.20,78.66 L666.26,79.05 L666.32,79.45 L666.38,79.84 L666.43,80.24 L666.49,80.63 L666.55,81.03 L666.60,81.43 L666.66,81.82 L666.71,82.22 L666.76,82.62 L666.81,83.01 L666.86,83.41 L666.91,83.81 L666.96,84.20 L667.01,84.60 L667.06,85.00 L667.11,85.39 L667.15,85.79 L667.20,86.19 L667.25,86.59 L667.29,86.98 L667.33,87.38 L667.38,87.78 L667.42,88.18 L667.46,88.58 L667.50,88.97 L667.54,89.37 L667.58,89.77 L667.61,90.17 L667.65,90.57 L667.69,90.96 L667.72,91.36 L667.76,91.76 L667.79,92.16 L667.82,92.56 L667.86,92.96 L667.89,93.36 L667.92,93.76 L667.95,94.15 L667.99,94.55 L668.02,94.95 L668.05,95.35 L668.08,95.75 L668.12,96.15 L668.15,96.55 L668.19,96.95 L668.22,97.34 L668.26,97.74 L668.29,98.14 L668.33,98.54 L668.37,98.94 L668.40,99.34 L668.44,99.73 L668.48,100.13 L668.53,100.53 L668.57,100.93 L668.61,101.32 L668.66,101.72 L668.71,102.12 L668.76,102.51 L668.82,102.91 L668.87,103.31 L668.93,103.70 L668.99,104.10 L669.05,104.49 L669.10,104.89 L669.16,105.29 L669.22,105.68 L669.27,106.08 L669.33,106.47 L669.38,106.87 L669.43,107.27 L669.49,107.66 L669.54,108.06 L669.59,108.46 L669.64,108.85 L669.69,109.25 L669.74,109.65 L669.79,110.04 L669.84,110.44 L669.89,110.84 L669.94,111.24 L669.98,111.63 L670.03,112.03 L670.07,112.43 L670.11,112.83 L670.16,113.22 L670.20,113.62 L670.24,114.02 L670.28,114.42 L670.32,114.81 L670.36,115.21 L670.40,115.61 L670.44,116.01 L670.48,116.41 L670.52,116.80 L670.56,117.20 L670.59,117.60 L670.63,118.00 L670.67,118.40 L670.71,118.80 L670.74,119.19 L670.78,119.59 L670.82,119.99 L670.85,120.39 L670.89,120.79 L670.92,121.19 L670.96,121.58 L670.99,121.98 L671.03,122.38 L671.06,122.78 L671.10,123.18 L671.13,123.58 L671.17,123.98 L671.20,124.37 L671.23,124.77 L671.27,125.17 L671.30,125.57 L671.33,125.97 L671.37,126.37 L671.40,126.77 L671.43,127.16 L671.47,127.56 L671.50,127.96 L671.53,128.36 L671.56,128.76 L671.60,129.16 L671.63,129.56 L671.66,129.96 L671.69,130.35 L671.72,130.75 L671.76,131.15 L671.79,131.55 L671.82,131.95 L671.85,132.35 L671.88,132.75 L671.91,133.15 L671.94,133.54 L671.97,133.94 L672.00,134.34 L672.03,134.74 L672.06,135.14 L672.09,135.54 L672.12,135.94 L672.15,136.34 L672.18,136.74 L672.20,137.14 L672.23,137.53 L672.26,137.93 L672.29,138.33 L672.32,138.73 L672.35,139.13 L672.37,139.53 L672.40,139.93 L672.43,140.33 L672.46,140.73 L672.49,141.13 L672.52,141.52 L672.55,141.92 L672.58,142.32 L672.61,142.72 L672.64,143.12 L672.67,143.52 L672.70,143.92 L672.73,144.32 L672.76,144.72 L672.79,145.11 L672.82,145.51 L672.85,145.91 L672.88,146.31 L672.90,146.71 L672.93,147.11 L672.96,147.51 L672.99,147.91 L673.02,148.31 L673.05,148.71 L673.08,149.10 L673.11,149.50 L673.14,149.90 L673.17,150.30 L673.20,150.70 L673.23,151.10 L673.26,151.50 L673.29,151.90 L673.33,152.30 L673.36,152.69 L673.39,153.09 L673.42,153.49 L673.46,153.89 L673.49,154.29 L673.53,154.69 L673.56,155.09 L673.60,155.48 L673.63,155.88 L673.67,156.28 L673.71,156.68 L673.75,157.08 L673.79,157.47 L673.83,157.87 L673.87,158.27 L673.92,158.67 L673.97,159.06 L674.02,159.46 L674.08,159.86 L674.13,160.25 L674.18,160.65 L674.23,161.05 L674.27,161.44 L674.31,161.84 L674.35,162.24 L674.39,162.64 L674.43,163.04 L674.47,163.43 L674.50,163.83 L674.54,164.23 L674.57,164.63 L674.61,165.03 L674.64,165.43 L674.67,165.83 L674.70,166.22 L674.73,166.62 L674.76,167.02 L674.79,167.42 L674.82,167.82 L674.85,168.22 L674.88,168.62 L674.91,169.02 L674.94,169.42 L674.97,169.82 L675.00,170.21 L675.03,170.61 L675.06,171.01 L675.09,171.41 L675.13,171.81 L675.16,172.21 L675.19,172.61 L675.22,173.01 L675.25,173.40 L675.29,173.80 L675.32,174.20 L675.36,174.60 L675.39,175.00 L675.43,175.40 L675.47,175.79 L675.51,176.19 L675.55,176.59 L675.59,176.99 L675.63,177.39 L675.68,177.78 L675.72,178.18 L675.77,178.58 L675.81,178.97 L675.86,179.37 L675.91,179.77 L675.95,180.17 L676.00,180.56 L676.05,180.96 L676.10,181.36 L676.15,181.75 L676.20,182.15 L676.25,182.55 L676.30,182.95 L676.35,183.34 L676.41,183.74 L676.46,184.14 L676.51,184.53 L676.56,184.93 L676.61,185.33 L676.66,185.72 L676.71,186.12 L676.76,186.52 L676.81,186.91 L676.86,187.31 L676.91,187.71 L676.96,188.10 L677.01,188.50 L677.06,188.90 L677.11,189.29 L677.16,189.69 L677.22,190.09 L677.27,190.48 L677.32,190.88 L677.37,191.28 L677.42,191.68 L677.47,192.07 L677.52,192.47 L677.57,192.87 L677.62,193.26 L677.67,193.66 L677.72,194.06 L677.76,194.45 L677.81,194.85 L677.86,195.25 L677.90,195.65 L677.94,196.05 L677.99,196.45 L678.03,196.84 L678.08,197.24 L678.12,197.64 L678.17,198.04 L678.21,198.44 L678.26,198.84 L678.30,199.23 L678.35,199.63 L678.40,200.03 L678.45,200.42 L678.50,200.82 L678.56,201.22 L678.61,201.61 L678.67,202.01 L678.72,202.40 L678.79,202.80 L678.85,203.19 L678.91,203.58 L678.98,203.97 L679.05,204.37 L679.12,204.76 L679.20,205.16 L679.27,205.55 L679.35,205.95 L679.44,206.34 L679.52,206.74 L679.61,207.14 L679.70,207.53 L679.79,207.92 L679.89,208.32 L679.98,208.71 L680.08,209.10 L680.19,209.49 L680.30,209.87 L680.41,210.26 L680.52,210.64 L680.64,211.02 L680.76,211.40 L680.88,211.77 L681.00,212.15 L681.13,212.52 L681.27,212.88 L681.41,213.25 L681.56,213.62 L681.72,214.00 L681.89,214.37 L682.07,214.74 L682.26,215.11 L682.45,215.47 L682.65,215.83 L682.86,216.18 L683.08,216.52 L683.30,216.85 L683.53,217.18 L683.76,217.49 L684.01,217.79 L684.26,218.09 L684.53,218.41 L684.83,218.75 L685.15,219.06 L685.47,219.33 L685.81,219.52 L686.15,219.60 L686.49,219.60 L686.84,219.60 L687.19,219.60 L687.54,219.60 L687.90,219.60 L688.26,219.60 L688.62,219.60 L688.99,219.60 L689.36,219.60 L689.74,219.60 L690.12,219.60 L690.50,219.60 L690.89,219.60 L691.29,219.60 L691.69,219.60 L692.09,219.60 L692.50,219.60 L692.91,219.60 L693.33,219.60 L693.75,219.60 L694.18,219.60 L694.61,219.60 L695.05,219.60 L695.50,219.60 L695.95,219.60 L696.40,219.60 L696.87,219.60 L697.33,219.60 L697.40,219.60" stroke="#ff00ff" stroke-dasharray="3.6 2"/>
<path d="M410.10,219.60 L410.50,219.60 L410.91,219.60 L411.31,219.60 L411.71,219.60 L412.12,219.60 L412.52,219.60 L412.92,219.60 L413.32,219.60 L413.73,219.60 L414.13,219.60 L414.53,219.60 L414.93,219.60 L415.33,219.60 L415.74,219.60 L416.14,219.60 L416.54,219.60 L416.94,219.60 L417.34,219.60 L417.74,219.60 L418.14,219.60 L418.54,219.60 L418.94,219.60 L419.34,219.60 L419.74,219.60 L420.14,219.60 L420.54,219.60 L420.94,219.60 L421.34,219.60 L421.74,219.60 L422.14,219.60 L422.54,219.60 L422.94,219.60 L423.34,219.60 L423.74,219.60 L424.14,219.60 L424.54,219.60 L424.94,219.60 L425.34,219.60 L425.73,219.60 L426.13,219.60 L426.53,219.60 L426.93,219.60 L427.33,219.60 L427.73,219.60 L428.12,219.60 L428.52,219.60 L428.92,219.60 L429.32,219.60 L429.71,219.60 L430.11,219.60 L430.51,219.60 L430.91,219.60 L431.30,219.60 L431.70,219.60 L432.10,219.60 L432.50,219.59 L432.90,219.56 L433.29,219.51 L433.69,219.46 L434.09,219.39 L434.49,219.32 L434.88,219.24 L435.28,219.15 L435.67,219.07 L436.05,218.99 L436.44,218.90 L436.82,218.79 L437.20,218.66 L437.58,218.53 L437.95,218.39 L438.33,218.24 L438.70,218.09 L439.08,217.94 L439.45,217.80 L439.83,217.66 L440.21,217.53 L440.59,217.40 L440.97,217.28 L441.35,217.16 L441.74,217.04 L442.12,216.92 L442.50,216.80 L442.89,216.68 L443.27,216.55 L443.65,216.42 L444.02,216.29 L444.39,216.15 L444.76,216.00 L445.12,215.85 L445.49,215.69 L445.85,215.52 L446.21,215.34 L446.57,215.16 L446.93,214.98 L447.28,214.79 L447.64,214.59 L447.99,214.39 L448.34,214.18 L448.68,213.97 L449.03,213.76 L449.37,213.54 L449.70,213.32 L450.03,213.10 L450.36,212.87 L450.68,212.64 L450.99,212.41 L451.30,212.17 L451.61,211.92 L451.91,211.67 L452.21,211.41 L452.50,211.14 L452.80,210.87 L453.09,210.60 L453.37,210.32 L453.66,210.03 L453.94,209.74 L454.22,209.45 L454.49,209.15 L454.77,208.86 L455.04,208.56 L455.32,208.26 L455.59,207.96 L455.86,207.66 L456.13,207.36 L456.39,207.06 L456.66,206.76 L456.93,206.47 L457.20,206.17 L457.46,205.87 L457.72,205.57 L457.99,205.27 L458.25,204.96 L458.50,204.66 L458.76,204.35 L459.01,204.04 L459.27,203.74 L459.52,203.43 L459.77,203.11 L460.02,202.80 L460.28,202.49 L460.53,202.18 L460.78,201.86 L461.02,201.55 L461.27,201.24 L461.52,200.92 L461.77,200.61 L462.02,200.30 L462.27,199.98 L462.52,199.67 L462.77,199.36 L463.02,199.05 L463.28,198.74 L463.53,198.43 L463.78,198.12 L464.03,197.80 L464.29,197.49 L464.54,197.18 L464.79,196.87 L465.04,196.56 L465.29,196.25 L465.54,195.94 L465.79,195.62 L466.04,195.31 L466.28,194.99 L466.53,194.68 L466.77,194.36 L467.02,194.04 L467.26,193.72 L467.50,193.41 L467.73,193.08 L467.97,192.76 L468.21,192.44 L468.45,192.12 L468.69,191.80 L468.92,191.48 L469.16,191.15 L469.39,190.83 L469.63,190.50 L469.86,190.18 L470.09,189.85 L470.33,189.53 L470.56,189.20 L470.79,188.87 L471.02,188.55 L471.25,188.22 L471.48,187.89 L471.71,187.56 L471.94,187.23 L472.16,186.90 L472.39,186.57 L472.62,186.24 L472.84,185.91 L473.07,185.58 L473.29,185.25 L473.51,184.92 L473.74,184.59 L473.96,184.25 L474.18,183.92 L474.40,183.58 L474.62,183.25 L474.84,182.92 L475.05,182.58 L475.27,182.25 L475.49,181.91 L475.70,181.57 L475.91,181.23 L476.13,180.90 L476.34,180.56 L476.55,180.22 L476.76,179.88 L476.96,179.53 L477.17,179.19 L477.38,178.85 L477.58,178.51 L477.79,178.16 L477.99,177.82 L478.19,177.47 L478.40,177.13 L478.60,176.78 L478.80,176.44 L479.01,176.09 L479.21,175.75 L479.41,175.40 L479.61,175.06 L479.81,174.71 L480.01,174.36 L480.22,174.02 L480.42,173.67 L480.62,173.33 L480.82,172.98 L481.02,172.64 L481.23,172.29 L481.43,171.95 L481.63,171.60 L481.84,171.26 L482.04,170.91 L482.24,170.57 L482.45,170.23 L482.65,169.88 L482.85,169.54 L483.05,169.19 L483.26,168.85 L483.46,168.50 L483.66,168.15 L483.86,167.81 L484.07,167.46 L484.27,167.12 L484.47,166.77 L484.67,166.43 L484.87,166.08 L485.07,165.74 L485.28,165.39 L485.48,165.05 L485.68,164.70 L485.88,164.36 L486.08,164.01 L486.28,163.66 L486.49,163.32 L486.69,162.97 L486.89,162.63 L487.09,162.28 L487.29,161.94 L487.49,161.59 L487.70,161.25 L487.90,160.90 L488.10,160.56 L488.30,160.21 L488.51,159.87 L488.71,159.52 L488.91,159.18 L489.11,158.83 L489.32,158.49 L489.52,158.14 L489.72,157.80 L489.92,157.45 L490.13,157.11 L490.33,156.76 L490.53,156.42 L490.73,156.07 L490.94,155.73 L491.14,155.38 L491.34,155.04 L491.55,154.69 L491.75,154.35 L491.95,154.00 L492.15,153.66 L492.35,153.31 L492.56,152.97 L492.76,152.62 L492.96,152.28 L493.16,151.93 L493.37,151.59 L493.57,151.24 L493.77,150.90 L493.97,150.55 L494.17,150.21 L494.37,149.86 L494.57,149.51 L494.77,149.17 L494.97,148.82 L495.17,148.47 L495.37,148.13 L495.57,147.78 L495.77,147.43 L495.97,147.09 L496.17,146.74 L496.37,146.39 L496.57,146.05 L496.77,145.70 L496.96,145.35 L497.16,145.00 L497.36,144.66 L497.56,144.31 L497.76,143.96 L497.96,143.62 L498.16,143.27 L498.36,142.92 L498.56,142.58 L498.76,142.23 L498.96,141.88 L499.16,141.54 L499.36,141.19 L499.56,140.84 L499.76,140.50 L499.96,140.15 L500.17,139.81 L500.37,139.46 L500.57,139.12 L500.78,138.78 L500.98,138.43 L501.19,138.09 L501.39,137.75 L501.60,137.40 L501.80,137.06 L502.01,136.72 L502.22,136.38 L502.42,136.03 L502.63,135.69 L502.84,135.35 L503.05,135.01 L503.25,134.67 L503.46,134.33 L503.67,133.98 L503.88,133.64 L504.09,133.30 L504.30,132.96 L504.51,132.62 L504.71,132.28 L504.92,131.94 L505.13,131.60 L505.34,131.26 L505.55,130.92 L505.77,130.58 L505.98,130.24 L506.19,129.90 L506.40,129.56 L506.61,129.22 L506.82,128.88 L507.03,128.54 L507.24,128.20 L507.46,127.86 L507.67,127.52 L507.88,127.18 L508.09,126.84 L508.30,126.50 L508.52,126.16 L508.73,125.82 L508.94,125.49 L509.16,125.15 L509.37,124.81 L509.58,124.47 L509.80,124.13 L510.01,123.79 L510.23,123.46 L510.44,123.12 L510.65,122.78 L510.87,122.44 L511.08,122.10 L511.30,121.77 L511.51,121.43 L511.73,121.09 L511.94,120.75 L512.16,120.42 L512.37,120.08 L512.59,119.74 L512.80,119.41 L513.02,119.07 L513.24,118.73 L513.45,118.40 L513.67,118.06 L513.88,117.72 L514.10,117.39 L514.32,117.05 L514.53,116.71 L514.75,116.38 L514.96,116.04 L515.18,115.70 L515.40,115.37 L515.61,115.03 L515.83,114.70 L516.05,114.36 L516.27,114.03 L516.49,113.69 L516.71,113.36 L516.93,113.02 L517.15,112.69 L517.37,112.36 L517.60,112.02 L517.82,111.69 L518.04,111.36 L518.27,111.03 L518.49,110.70 L518.72,110.37 L518.95,110.04 L519.17,109.71 L519.40,109.38 L519.63,109.05 L519.86,108.72 L520.08,108.39 L520.31,108.06 L520.54,107.73 L520.77,107.40 L521.00,107.07 L521.23,106.74 L521.46,106.41 L521.68,106.08 L521.91,105.75 L522.14,105.43 L522.37,105.10 L522.60,104.77 L522.83,104.44 L523.06,104.11 L523.29,103.78 L523.52,103.45 L523.74,103.12 L523.97,102.79 L524.20,102.46 L524.43,102.13 L524.65,101.80 L524.88,101.47 L525.10,101.14 L525.33,100.81 L525.56,100.48 L525.78,100.15 L526.00,99.82 L526.23,99.48 L526.45,99.15 L526.67,98.82 L526.89,98.49 L527.11,98.15 L527.33,97.82 L527.55,97.48 L527.77,97.15 L527.98,96.81 L528.20,96.48 L528.42,96.14 L528.63,95.80 L528.84,95.47 L529.05,95.13 L529.27,94.79 L529.48,94.45 L529.68,94.11 L529.89,93.77 L530.10,93.43 L530.30,93.09 L530.51,92.74 L530.71,92.40 L530.91,92.06 L531.11,91.71 L531.30,91.36 L531.49,91.00 L531.67,90.64 L531.85,90.28 L532.03,89.91 L532.20,89.54 L532.37,89.17 L532.54,88.80 L532.72,88.43 L532.89,88.07 L533.06,87.70 L533.24,87.34 L533.42,86.98 L533.61,86.63 L533.80,86.28 L534.00,85.94 L534.21,85.61 L534.42,85.29 L534.64,84.98 L534.88,84.67 L535.13,84.38 L535.39,84.09 L535.66,83.81 L535.95,83.54 L536.24,83.27 L536.55,83.00 L536.85,82.74 L537.17,82.48 L537.48,82.22 L537.80,81.96 L538.11,81.70 L538.43,81.44 L538.74,81.18 L539.04,80.91 L539.34,80.64 L539.64,80.37 L539.92,80.08 L540.19,79.79 L540.46,79.50 L540.73,79.21 L541.00,78.91 L541.27,78.61 L541.53,78.31 L541.79,78.01 L542.05,77.71 L542.31,77.40 L542.56,77.09 L542.82,76.78 L543.07,76.47 L543.33,76.17 L543.58,75.86 L543.84,75.55 L544.09,75.24 L544.35,74.93 L544.61,74.62 L544.86,74.31 L545.12,74.01 L545.38,73.70 L545.65,73.40 L545.91,73.10 L546.18,72.80 L546.44,72.50 L546.71,72.20 L546.97,71.90 L547.23,71.60 L547.50,71.29 L547.76,70.99 L548.02,70.69 L548.29,70.38 L548.55,70.08 L548.81,69.77 L549.08,69.47 L549.34,69.16 L549.61,68.86 L549.87,68.55 L550.14,68.25 L550.40,67.95 L550.67,67.65 L550.94,67.35 L551.21,67.05 L551.48,66.75 L551.75,66.45 L552.02,66.16 L552.29,65.87 L552.57,65.57 L552.84,65.29 L553.12,65.00 L553.40,64.71 L553.68,64.43 L553.97,64.15 L554.25,63.87 L554.54,63.60 L554.83,63.33 L555.12,63.06 L555.41,62.80 L555.71,62.54 L556.01,62.28 L556.31,62.03 L556.62,61.78 L556.93,61.53 L557.25,61.30 L557.57,61.06 L557.90,60.83 L558.23,60.60 L558.56,60.38 L558.89,60.15 L559.23,59.93 L559.56,59.70 L559.90,59.48 L560.23,59.25 L560.56,59.02 L560.89,58.79 L561.22,58.56 L561.54,58.33 L561.86,58.09 L562.18,57.85 L562.50,57.61 L562.82,57.37 L563.14,57.13 L563.46,56.89 L563.78,56.65 L564.10,56.41 L564.42,56.17 L564.74,55.92 L565.06,55.69 L565.38,55.45 L565.70,55.21 L566.02,54.97 L566.35,54.74 L566.67,54.50 L566.99,54.27 L567.32,54.03 L567.64,53.79 L567.96,53.55 L568.29,53.31 L568.61,53.07 L568.94,52.84 L569.26,52.61 L569.59,52.38 L569.93,52.16 L570.26,51.94 L570.60,51.74 L570.94,51.53 L571.29,51.34 L571.64,51.16 L572.00,50.98 L572.36,50.81 L572.73,50.64 L573.09,50.48 L573.46,50.31 L573.82,50.14 L574.18,49.96 L574.54,49.78 L574.89,49.59 L575.23,49.39 L575.58,49.18 L575.92,48.97 L576.26,48.76 L576.59,48.54 L576.93,48.32 L577.27,48.10 L577.61,47.89 L577.95,47.68 L578.29,47.47 L578.64,47.27 L578.98,47.07 L579.33,46.88 L579.69,46.71 L580.05,46.54 L580.41,46.37 L580.77,46.21 L581.14,46.06 L581.51,45.90 L581.88,45.75 L582.25,45.61 L582.63,45.46 L583.00,45.32 L583.38,45.18 L583.76,45.04 L584.13,44.90 L584.51,44.76 L584.89,44.63 L585.26,44.49 L585.64,44.35 L586.01,44.21 L586.39,44.07 L586.76,43.92 L587.14,43.78 L587.51,43.64 L587.89,43.50 L588.26,43.36 L588.64,43.22 L589.02,43.09 L589.40,42.96 L589.78,42.83 L590.16,42.71 L590.54,42.59 L590.92,42.48 L591.30,42.37 L591.69,42.27 L592.07,42.17 L592.46,42.07 L592.85,41.98 L593.24,41.89 L593.63,41.80 L594.02,41.71 L594.41,41.63 L594.80,41.54 L595.20,41.46 L595.59,41.38 L595.98,41.30 L596.37,41.22 L596.77,41.15 L597.16,41.07 L597.55,40.99 L597.94,40.92 L598.34,40.84 L598.73,40.76 L599.12,40.69 L599.52,40.62 L599.91,40.55 L600.31,40.48 L600.70,40.41 L601.09,40.34 L601.49,40.28 L601.88,40.22 L602.28,40.16 L602.68,40.10 L603.07,40.05 L603.47,40.00 L603.86,39.95 L604.26,39.90 L604.66,39.85 L605.06,39.80 L605.45,39.76 L605.85,39.71 L606.25,39.67 L606.65,39.63 L607.04,39.59 L607.44,39.55 L607.84,39.51 L608.24,39.47 L608.64,39.43 L609.04,39.39 L609.43,39.35 L609.83,39.32 L610.23,39.28 L610.63,39.24 L611.03,39.20 L611.43,39.16 L611.82,39.11 L612.22,39.07 L612.62,39.03 L613.02,38.99 L613.42,38.95 L613.82,38.91 L614.22,38.87 L614.61,38.83 L615.01,38.80 L615.41,38.77 L615.81,38.75 L616.21,38.73 L616.61,38.71 L617.01,38.70 L617.41,38.70 L617.81,38.70 L618.21,38.70 L618.61,38.70 L619.01,38.70 L619.41,38.70 L619.81,38.70 L620.21,38.70 L620.61,38.70 L621.01,38.70 L621.41,38.70 L621.81,38.70 L622.22,38.70 L622.62,38.70 L623.02,38.70 L623.42,38.70 L623.82,38.70 L624.22,38.70 L624.62,38.70 L625.02,38.70 L625.42,38.70 L625.82,38.70 L626.22,38.70 L626.62,38.70 L627.02,38.70 L627.42,38.70 L627.82,38.70 L628.21,38.70 L628.61,38.70 L629.01,38.70 L629.40,38.71 L629.80,38.72 L630.20,38.75 L630.59,38.79 L630.99,38.84 L631.39,38.89 L631.79,38.96 L632.18,39.03 L632.58,39.10 L632.97,39.19 L633.37,39.27 L633.76,39.37 L634.15,39.46 L634.55,39.56 L634.94,39.66 L635.33,39.76 L635.72,39.86 L636.10,39.97 L636.49,40.07 L636.87,40.17 L637.26,40.27 L637.64,40.38 L638.02,40.49 L638.40,40.62 L638.78,40.75 L639.15,40.88 L639.53,41.02 L639.91,41.17 L640.28,41.32 L640.65,41.47 L641.02,41.62 L641.39,41.78 L641.76,41.94 L642.13,42.10 L642.50,42.26 L642.86,42.41 L643.23,42.58 L643.59,42.74 L643.96,42.91 L644.32,43.08 L644.69,43.25 L645.05,43.43 L645.40,43.61 L645.76,43.79 L646.11,43.98 L646.46,44.18 L646.81,44.37 L647.15,44.57 L647.49,44.78 L647.83,44.99 L648.17,45.20 L648.51,45.43 L648.84,45.65 L649.17,45.88 L649.50,46.12 L649.82,46.36 L650.14,46.61 L650.45,46.86 L650.76,47.11 L651.06,47.37 L651.35,47.64 L651.64,47.91 L651.92,48.19 L652.20,48.47 L652.47,48.76 L652.74,49.06 L653.01,49.37 L653.27,49.67 L653.53,49.98 L653.79,50.30 L654.03,50.61 L654.28,50.93 L654.52,51.25 L654.75,51.57 L654.98,51.89 L655.20,52.22 L655.43,52.56 L655.64,52.89 L655.85,53.23 L656.06,53.57 L656.27,53.92 L656.47,54.27 L656.67,54.62 L656.87,54.97 L657.07,55.32 L657.26,55.67 L657.45,56.02 L657.65,56.37 L657.84,56.72 L658.02,57.07 L658.21,57.42 L658.39,57.78 L658.58,58.14 L658.76,58.49 L658.93,58.85 L659.11,59.21 L659.28,59.58 L659.45,59.94 L659.62,60.30 L659.78,60.66 L659.95,61.03 L660.10,61.40 L660.26,61.77 L660.41,62.14 L660.56,62.51 L660.70,62.88 L660.85,63.25 L661.00,63.63 L661.14,64.00 L661.29,64.37 L661.44,64.74 L661.59,65.11 L661.74,65.48 L661.90,65.85 L662.06,66.22 L662.22,66.59 L662.38,66.96 L662.54,67.33 L662.70,67.69 L662.85,68.06 L663.01,68.43 L663.16,68.80 L663.30,69.18 L663.44,69.55 L663.58,69.92 L663.70,70.30 L663.82,70.68 L663.94,71.06 L664.05,71.44 L664.16,71.83 L664.26,72.21 L664.36,72.60 L664.46,72.99 L664.56,73.37 L664.65,73.76 L664.74,74.15 L664.83,74.54 L664.92,74.94 L665.01,75.33 L665.10,75.72 L665.19,76.11 L665.27,76.50 L665.36,76.89 L665.45,77.28 L665.54,77.67 L665.63,78.06 L665.72,78.45 L665.80,78.84 L665.89,79.23 L665.97,79.62 L666.06,80.02 L666.14,80.41 L666.23,80.80 L666.31,81.19 L666.39,81.58 L666.47,81.97 L666.55,82.36 L666.63,82.76 L666.71,83.15 L666.79,83.54 L666.87,83.93 L666.95,84.33 L667.02,84.72 L667.10,85.11 L667.17,85.50 L667.25,85.90 L667.32,86.29 L667.40,86.68 L667.48,87.08 L667.55,87.47 L667.63,87.86 L667.71,88.25 L667.78,88.64 L667.86,89.04 L667.94,89.43 L668.03,89.82 L668.11,90.21 L668.19,90.60 L668.28,90.99 L668.37,91.38 L668.45,91.77 L668.54,92.16 L668.63,92.55 L668.72,92.94 L668.81,93.33 L668.90,93.72 L668.99,94.11 L669.08,94.50 L669.17,94.89 L669.26,95.28 L669.35,95.67 L669.43,96.06 L669.52,96.46 L669.60,96.85 L669.68,97.24 L669.77,97.63 L669.84,98.02 L669.92,98.41 L670.00,98.80 L670.08,99.20 L670.16,99.59 L670.23,99.98 L670.31,100.38 L670.38,100.77 L670.46,101.16 L670.53,101.55 L670.60,101.95 L670.68,102.34 L670.75,102.73 L670.82,103.13 L670.89,103.52 L670.96,103.92 L671.03,104.31 L671.10,104.70 L671.17,105.10 L671.24,105.49 L671.31,105.89 L671.38,106.28 L671.44,106.67 L671.51,107.07 L671.58,107.46 L671.64,107.86 L671.71,108.25 L671.78,108.65 L671.84,109.04 L671.90,109.44 L671.97,109.83 L672.03,110.23 L672.09,110.62 L672.15,111.02 L672.21,111.41 L672.27,111.81 L672.33,112.20 L672.39,112.60 L672.44,113.00 L672.50,113.39 L672.55,113.79 L672.60,114.18 L672.66,114.58 L672.71,114.98 L672.76,115.37 L672.82,115.77 L672.87,116.17 L672.92,116.56 L672.97,116.96 L673.02,117.36 L673.07,117.75 L673.12,118.15 L673.17,118.55 L673.22,118.94 L673.27,119.34 L673.31,119.74 L673.36,120.13 L673.41,120.53 L673.46,120.93 L673.51,121.33 L673.55,121.72 L673.60,122.12 L673.65,122.52 L673.69,122.92 L673.74,123.31 L673.79,123.71 L673.83,124.11 L673.88,124.51 L673.92,124.90 L673.97,125.30 L674.01,125.70 L674.06,126.10 L674.11,126.49 L674.15,126.89 L674.20,127.29 L674.24,127.69 L674.29,128.08 L674.33,128.48 L674.38,128.88 L674.42,129.28 L674.47,129.67 L674.51,130.07 L674.56,130.47 L674.61,130.87 L674.65,131.26 L674.70,131.66 L674.74,132.06 L674.79,132.45 L674.84,132.85 L674.88,133.25 L674.93,133.65 L674.98,134.04 L675.02,134.44 L675.07,134.84 L675.11,135.24 L675.16,135.63 L675.21,136.03 L675.25,136.43 L675.30,136.83 L675.34,137.22 L675.39,137.62 L675.43,138.02 L675.48,138.42 L675.52,138.81 L675.57,139.21 L675.61,139.61 L675.66,140.01 L675.70,140.40 L675.75,140.80 L675.80,141.20 L675.84,141.59 L675.89,141.99 L675.93,142.39 L675.98,142.79 L676.03,143.18 L676.07,143.58 L676.12,143.98 L676.17,144.38 L676.22,144.77 L676.26,145.17 L676.31,145.57 L676.36,145.96 L676.41,146.36 L676.46,146.76 L676.50,147.16 L676.55,147.55 L676.60,147.95 L676.65,148.35 L676.70,148.74 L676.75,149.14 L676.79,149.54 L676.84,149.93 L676.89,150.33 L676.94,150.73 L676.99,151.13 L677.04,151.52 L677.09,151.92 L677.14,152.32 L677.19,152.71 L677.24,153.11 L677.29,153.51 L677.34,153.90 L677.39,154.30 L677.44,154.70 L677.49,155.09 L677.54,155.49 L677.59,155.89 L677.63,156.29 L677.68,156.68 L677.73,157.08 L677.78,157.48 L677.83,157.87 L677.88,158.27 L677.93,158.67 L677.98,159.06 L678.03,159.46 L678.08,159.86 L678.13,160.25 L678.18,160.65 L678.23,161.05 L678.29,161.44 L678.34,161.84 L678.39,162.24 L678.45,162.63 L678.50,163.03 L678.56,163.43 L678.61,163.82 L678.67,164.22 L678.73,164.61 L678.79,165.01 L678.85,165.40 L678.91,165.80 L678.97,166.20 L679.03,166.59 L679.09,166.99 L679.15,167.38 L679.21,167.78 L679.27,168.17 L679.34,168.57 L679.40,168.96 L679.46,169.36 L679.52,169.75 L679.58,170.15 L679.64,170.55 L679.70,170.94 L679.76,171.34 L679.81,171.73 L679.87,172.13 L679.93,172.52 L679.98,172.92 L680.04,173.32 L680.09,173.71 L680.14,174.11 L680.19,174.51 L680.24,174.90 L680.29,175.30 L680.34,175.70 L680.39,176.09 L680.44,176.49 L680.49,176.89 L680.54,177.28 L680.59,177.68 L680.64,178.08 L680.69,178.47 L680.73,178.87 L680.78,179.27 L680.83,179.67 L680.88,180.06 L680.92,180.46 L680.97,180.86 L681.01,181.26 L681.06,181.65 L681.11,182.05 L681.15,182.45 L681.20,182.85 L681.24,183.24 L681.29,183.64 L681.33,184.04 L681.38,184.44 L681.42,184.83 L681.47,185.23 L681.51,185.63 L681.56,186.03 L681.60,186.42 L681.64,186.82 L681.69,187.22 L681.73,187.62 L681.78,188.01 L681.82,188.41 L681.87,188.81 L681.91,189.21 L681.95,189.61 L681.99,190.00 L682.02,190.40 L682.06,190.80 L682.10,191.20 L682.14,191.60 L682.19,192.00 L682.23,192.39 L682.28,192.79 L682.33,193.19 L682.38,193.58 L682.44,193.98 L682.50,194.37 L682.57,194.76 L682.64,195.15 L682.71,195.55 L682.79,195.94 L682.87,196.33 L682.96,196.72 L683.04,197.11 L683.13,197.50 L683.22,197.89 L683.32,198.28 L683.41,198.67 L683.51,199.06 L683.61,199.45 L683.71,199.84 L683.81,200.23 L683.92,200.61 L684.02,201.00 L684.13,201.39 L684.23,201.78 L684.34,202.16 L684.44,202.55 L684.55,202.93 L684.65,203.32 L684.76,203.71 L684.86,204.09 L684.96,204.48 L685.07,204.87 L685.18,205.25 L685.28,205.64 L685.39,206.03 L685.50,206.41 L685.61,206.80 L685.72,207.19 L685.84,207.57 L685.95,207.96 L686.07,208.34 L686.19,208.73 L686.31,209.11 L686.43,209.49 L686.56,209.87 L686.68,210.25 L686.81,210.63 L686.95,211.00 L687.08,211.38 L687.22,211.75 L687.37,212.12 L687.51,212.49 L687.66,212.85 L687.82,213.22 L687.97,213.60 L688.13,213.98 L688.30,214.36 L688.47,214.74 L688.64,215.12 L688.82,215.49 L689.01,215.86 L689.21,216.22 L689.41,216.56 L689.62,216.90 L689.84,217.22 L690.07,217.52 L690.31,217.81 L690.57,218.08 L690.86,218.38 L691.17,218.68 L691.50,218.97 L691.85,219.22 L692.21,219.43 L692.57,219.56 L692.93,219.60 L693.30,219.60 L693.67,219.60 L694.05,219.60 L694.43,219.60 L694.82,219.60 L695.22,219.60 L695.63,219.60 L696.04,219.60 L696.47,219.60 L696.89,219.60 L697.33,219.60 L697.40,219.60" stroke="#0000ff" stroke-dasharray="8.9 1.9 1.8 2.4"/>
<path d="M410.10,219.60 L410.50,219.53 L410.90,219.46 L411.29,219.38 L411.69,219.30 L412.09,219.22 L412.48,219.14 L412.88,219.05 L413.27,218.96 L413.66,218.87 L414.05,218.78 L414.44,218.68 L414.83,218.59 L415.22,218.49 L415.61,218.39 L416.00,218.28 L416.38,218.18 L416.77,218.07 L417.16,217.96 L417.54,217.85 L417.93,217.74 L418.31,217.62 L418.69,217.50 L419.07,217.39 L419.46,217.27 L419.84,217.15 L420.22,217.02 L420.60,216.90 L420.97,216.78 L421.35,216.65 L421.73,216.52 L422.11,216.39 L422.48,216.27 L422.86,216.13 L423.24,216.00 L423.61,215.87 L423.99,215.74 L424.36,215.60 L424.73,215.47 L425.11,215.33 L425.48,215.20 L425.85,215.05 L426.22,214.90 L426.59,214.75 L426.96,214.59 L427.32,214.43 L427.69,214.26 L428.05,214.09 L428.41,213.92 L428.78,213.75 L429.14,213.57 L429.50,213.40 L429.86,213.22 L430.22,213.04 L430.57,212.86 L430.93,212.69 L431.29,212.50 L431.64,212.32 L432.00,212.14 L432.35,211.95 L432.71,211.76 L433.06,211.57 L433.41,211.38 L433.76,211.19 L434.11,210.99 L434.46,210.79 L434.81,210.60 L435.15,210.40 L435.50,210.20 L435.84,209.99 L436.19,209.79 L436.53,209.58 L436.87,209.38 L437.22,209.17 L437.56,208.96 L437.90,208.75 L438.24,208.54 L438.58,208.33 L438.92,208.11 L439.26,207.90 L439.59,207.68 L439.93,207.46 L440.26,207.23 L440.59,207.01 L440.92,206.78 L441.24,206.55 L441.57,206.32 L441.89,206.08 L442.21,205.84 L442.52,205.60 L442.84,205.36 L443.15,205.11 L443.46,204.85 L443.76,204.60 L444.07,204.34 L444.37,204.07 L444.68,203.81 L444.98,203.55 L445.28,203.28 L445.57,203.01 L445.87,202.74 L446.17,202.47 L446.46,202.20 L446.76,201.93 L447.05,201.66 L447.34,201.38 L447.63,201.11 L447.92,200.83 L448.21,200.56 L448.50,200.28 L448.78,200.00 L449.07,199.72 L449.35,199.43 L449.63,199.15 L449.91,198.86 L450.19,198.58 L450.47,198.29 L450.75,198.01 L451.03,197.72 L451.31,197.43 L451.58,197.14 L451.86,196.85 L452.13,196.56 L452.41,196.27 L452.68,195.97 L452.95,195.68 L453.22,195.38 L453.49,195.09 L453.75,194.79 L454.02,194.49 L454.28,194.19 L454.55,193.89 L454.81,193.59 L455.07,193.29 L455.34,192.99 L455.60,192.69 L455.86,192.38 L456.12,192.08 L456.39,191.78 L456.65,191.47 L456.91,191.17 L457.17,190.87 L457.43,190.57 L457.70,190.26 L457.96,189.96 L458.22,189.66 L458.49,189.36 L458.75,189.06 L459.02,188.76 L459.28,188.46 L459.55,188.17 L459.82,187.87 L460.09,187.57 L460.36,187.28 L460.63,186.99 L460.90,186.69 L461.18,186.40 L461.45,186.11 L461.73,185.82 L462.00,185.53 L462.28,185.24 L462.55,184.95 L462.83,184.66 L463.10,184.37 L463.38,184.08 L463.65,183.79 L463.93,183.50 L464.21,183.20 L464.48,182.91 L464.75,182.62 L465.03,182.33 L465.30,182.04 L465.57,181.74 L465.84,181.45 L466.11,181.16 L466.38,180.86 L466.65,180.56 L466.92,180.26 L467.18,179.97 L467.44,179.67 L467.71,179.36 L467.97,179.06 L468.22,178.76 L468.48,178.45 L468.74,178.15 L469.00,177.84 L469.25,177.53 L469.50,177.22 L469.76,176.91 L470.01,176.60 L470.26,176.29 L470.51,175.98 L470.76,175.67 L471.01,175.36 L471.26,175.04 L471.51,174.73 L471.76,174.42 L472.01,174.10 L472.26,173.79 L472.51,173.48 L472.76,173.16 L473.01,172.85 L473.26,172.54 L473.51,172.22 L473.76,171.91 L474.01,171.60 L474.26,171.29 L474.51,170.97 L474.76,170.66 L475.01,170.35 L475.26,170.04 L475.52,169.73 L475.77,169.42 L476.02,169.11 L476.28,168.81 L476.53,168.50 L476.79,168.19 L477.04,167.88 L477.29,167.57 L477.55,167.26 L477.80,166.95 L478.05,166.64 L478.31,166.33 L478.56,166.02 L478.81,165.71 L479.07,165.40 L479.32,165.09 L479.58,164.79 L479.83,164.48 L480.08,164.17 L480.34,163.86 L480.59,163.55 L480.85,163.24 L481.10,162.93 L481.36,162.62 L481.61,162.31 L481.86,162.01 L482.12,161.70 L482.37,161.39 L482.63,161.08 L482.88,160.77 L483.14,160.46 L483.39,160.15 L483.65,159.85 L483.90,159.54 L484.16,159.23 L484.41,158.92 L484.67,158.61 L484.92,158.30 L485.18,158.00 L485.43,157.69 L485.69,157.38 L485.94,157.07 L486.20,156.76 L486.45,156.45 L486.71,156.15 L486.96,155.84 L487.22,155.53 L487.47,155.22 L487.73,154.92 L487.98,154.61 L488.24,154.30 L488.49,153.99 L488.75,153.68 L489.01,153.38 L489.26,153.07 L489.52,152.76 L489.77,152.45 L490.03,152.15 L490.28,151.84 L490.54,151.53 L490.80,151.22 L491.05,150.92 L491.31,150.61 L491.56,150.30 L491.82,150.00 L492.08,149.69 L492.33,149.38 L492.59,149.08 L492.85,148.77 L493.10,148.46 L493.36,148.16 L493.62,147.85 L493.88,147.54 L494.13,147.24 L494.39,146.93 L494.65,146.62 L494.91,146.32 L495.16,146.01 L495.42,145.71 L495.68,145.40 L495.94,145.09 L496.19,144.79 L496.45,144.48 L496.71,144.18 L496.97,143.87 L497.23,143.57 L497.48,143.26 L497.74,142.95 L498.00,142.65 L498.26,142.34 L498.52,142.04 L498.77,141.73 L499.03,141.43 L499.29,141.12 L499.55,140.81 L499.81,140.51 L500.06,140.20 L500.32,139.90 L500.58,139.59 L500.84,139.28 L501.09,138.98 L501.35,138.67 L501.61,138.37 L501.86,138.06 L502.12,137.75 L502.38,137.45 L502.63,137.14 L502.89,136.83 L503.15,136.52 L503.40,136.22 L503.66,135.91 L503.91,135.60 L504.17,135.29 L504.42,134.98 L504.68,134.67 L504.93,134.36 L505.18,134.05 L505.44,133.74 L505.69,133.43 L505.94,133.12 L506.20,132.81 L506.45,132.50 L506.70,132.19 L506.95,131.88 L507.20,131.57 L507.46,131.26 L507.71,130.94 L507.96,130.63 L508.21,130.32 L508.46,130.01 L508.71,129.70 L508.97,129.38 L509.22,129.07 L509.47,128.76 L509.72,128.45 L509.97,128.14 L510.22,127.82 L510.47,127.51 L510.72,127.20 L510.98,126.89 L511.23,126.58 L511.48,126.26 L511.73,125.95 L511.98,125.64 L512.23,125.33 L512.49,125.02 L512.74,124.71 L512.99,124.40 L513.24,124.08 L513.50,123.77 L513.75,123.46 L514.00,123.15 L514.25,122.84 L514.51,122.53 L514.76,122.22 L515.02,121.91 L515.27,121.61 L515.52,121.30 L515.78,120.99 L516.03,120.68 L516.29,120.37 L516.55,120.06 L516.80,119.76 L517.06,119.45 L517.31,119.14 L517.57,118.84 L517.83,118.53 L518.09,118.23 L518.35,117.92 L518.61,117.62 L518.87,117.32 L519.13,117.01 L519.39,116.71 L519.65,116.41 L519.91,116.10 L520.17,115.80 L520.43,115.50 L520.70,115.20 L520.96,114.90 L521.22,114.60 L521.49,114.31 L521.75,114.01 L522.02,113.71 L522.29,113.41 L522.55,113.12 L522.82,112.82 L523.09,112.53 L523.36,112.23 L523.63,111.94 L523.90,111.65 L524.17,111.36 L524.44,111.07 L524.72,110.77 L524.99,110.48 L525.26,110.19 L525.54,109.90 L525.81,109.62 L526.09,109.33 L526.37,109.04 L526.64,108.75 L526.92,108.46 L527.20,108.18 L527.48,107.89 L527.76,107.60 L528.04,107.32 L528.32,107.03 L528.60,106.75 L528.88,106.47 L529.16,106.18 L529.44,105.90 L529.73,105.61 L530.01,105.33 L530.29,105.05 L530.58,104.77 L530.86,104.49 L531.14,104.20 L531.43,103.92 L531.71,103.64 L532.00,103.36 L532.28,103.08 L532.57,102.80 L532.86,102.52 L533.14,102.24 L533.43,101.96 L533.72,101.68 L534.01,101.40 L534.29,101.12 L534.58,100.85 L534.87,100.57 L535.16,100.29 L535.45,100.01 L535.73,99.73 L536.02,99.46 L536.31,99.18 L536.60,98.90 L536.89,98.62 L537.18,98.35 L537.47,98.07 L537.76,97.79 L538.05,97.51 L538.34,97.24 L538.62,96.96 L538.91,96.68 L539.20,96.41 L539.49,96.13 L539.78,95.85 L540.07,95.57 L540.36,95.30 L540.65,95.02 L540.94,94.74 L541.23,94.47 L541.52,94.19 L541.81,93.91 L542.10,93.64 L542.38,93.36 L542.67,93.08 L542.96,92.80 L543.25,92.53 L543.54,92.25 L543.82,91.97 L544.11,91.69 L544.40,91.41 L544.69,91.13 L544.97,90.86 L545.26,90.58 L545.55,90.30 L545.83,90.02 L546.12,89.74 L546.40,89.46 L546.69,89.18 L546.98,88.89 L547.26,88.61 L547.55,88.33 L547.83,88.05 L548.12,87.77 L548.40,87.49 L548.69,87.21 L548.98,86.93 L549.26,86.65 L549.55,86.37 L549.84,86.09 L550.12,85.81 L550.41,85.53 L550.70,85.25 L550.98,84.97 L551.27,84.69 L551.56,84.41 L551.85,84.13 L552.14,83.86 L552.43,83.58 L552.71,83.30 L553.00,83.03 L553.29,82.75 L553.59,82.48 L553.88,82.20 L554.17,81.93 L554.46,81.65 L554.75,81.38 L555.05,81.11 L555.34,80.84 L555.64,80.57 L555.93,80.30 L556.23,80.03 L556.52,79.77 L556.82,79.50 L557.12,79.23 L557.42,78.97 L557.72,78.71 L558.02,78.44 L558.32,78.18 L558.62,77.92 L558.92,77.66 L559.23,77.41 L559.53,77.15 L559.84,76.90 L560.15,76.64 L560.46,76.39 L560.77,76.14 L561.08,75.89 L561.39,75.64 L561.70,75.39 L562.02,75.14 L562.33,74.90 L562.65,74.65 L562.96,74.41 L563.28,74.17 L563.60,73.92 L563.92,73.68 L564.24,73.44 L564.56,73.20 L564.88,72.96 L565.20,72.72 L565.52,72.48 L565.84,72.24 L566.16,72.00 L566.48,71.76 L566.80,71.52 L567.12,71.28 L567.44,71.04 L567.77,70.80 L568.09,70.56 L568.41,70.32 L568.73,70.08 L569.05,69.84 L569.37,69.60 L569.69,69.36 L570.01,69.12 L570.33,68.88 L570.65,68.64 L570.97,68.39 L571.29,68.15 L571.60,67.91 L571.92,67.66 L572.24,67.42 L572.55,67.17 L572.86,66.91 L573.17,66.66 L573.48,66.40 L573.79,66.14 L574.10,65.88 L574.41,65.61 L574.72,65.35 L575.02,65.08 L575.33,64.82 L575.63,64.55 L575.94,64.29 L576.25,64.02 L576.55,63.75 L576.86,63.49 L577.17,63.23 L577.48,62.97 L577.79,62.71 L578.10,62.45 L578.41,62.20 L578.72,61.95 L579.03,61.70 L579.35,61.45 L579.67,61.21 L579.99,60.98 L580.31,60.75 L580.63,60.52 L580.96,60.30 L581.29,60.08 L581.62,59.87 L581.95,59.67 L582.29,59.47 L582.63,59.28 L582.97,59.10 L583.32,58.92 L583.67,58.74 L584.03,58.57 L584.39,58.40 L584.75,58.23 L585.11,58.07 L585.48,57.91 L585.85,57.75 L586.22,57.60 L586.59,57.44 L586.97,57.29 L587.34,57.15 L587.72,57.00 L588.10,56.85 L588.48,56.71 L588.85,56.57 L589.23,56.43 L589.61,56.29 L589.99,56.15 L590.37,56.01 L590.74,55.87 L591.12,55.73 L591.49,55.59 L591.87,55.45 L592.24,55.32 L592.62,55.18 L593.00,55.04 L593.37,54.91 L593.75,54.77 L594.13,54.64 L594.51,54.51 L594.88,54.37 L595.26,54.24 L595.64,54.12 L596.02,53.99 L596.41,53.87 L596.79,53.74 L597.17,53.62 L597.55,53.51 L597.93,53.39 L598.32,53.28 L598.70,53.17 L599.08,53.06 L599.47,52.95 L599.85,52.85 L600.24,52.75 L600.63,52.65 L601.01,52.55 L601.40,52.45 L601.79,52.35 L602.18,52.25 L602.57,52.16 L602.96,52.06 L603.35,51.97 L603.74,51.88 L604.13,51.79 L604.52,51.70 L604.91,51.61 L605.30,51.53 L605.69,51.45 L606.08,51.36 L606.48,51.28 L606.87,51.21 L607.26,51.13 L607.65,51.05 L608.05,50.98 L608.44,50.91 L608.83,50.84 L609.23,50.77 L609.62,50.69 L610.01,50.62 L610.41,50.54 L610.80,50.46 L611.20,50.38 L611.59,50.31 L611.99,50.23 L612.38,50.16 L612.78,50.09 L613.18,50.02 L613.57,49.95 L613.97,49.89 L614.37,49.84 L614.76,49.78 L615.16,49.74 L615.56,49.70 L615.95,49.66 L616.35,49.64 L616.75,49.62 L617.15,49.60 L617.54,49.60 L617.94,49.60 L618.34,49.61 L618.74,49.61 L619.14,49.62 L619.54,49.63 L619.94,49.64 L620.34,49.66 L620.74,49.68 L621.15,49.69 L621.55,49.71 L621.95,49.73 L622.34,49.75 L622.74,49.77 L623.14,49.80 L623.54,49.82 L623.94,49.86 L624.33,49.90 L624.73,49.94 L625.13,49.99 L625.53,50.05 L625.92,50.11 L626.32,50.18 L626.72,50.25 L627.11,50.32 L627.50,50.40 L627.90,50.48 L628.29,50.55 L628.68,50.63 L629.07,50.71 L629.46,50.80 L629.85,50.89 L630.23,50.99 L630.62,51.09 L631.01,51.20 L631.39,51.31 L631.77,51.43 L632.16,51.55 L632.54,51.67 L632.92,51.80 L633.30,51.92 L633.68,52.05 L634.06,52.18 L634.44,52.31 L634.82,52.44 L635.19,52.57 L635.57,52.70 L635.95,52.84 L636.32,52.98 L636.70,53.12 L637.07,53.26 L637.45,53.41 L637.82,53.55 L638.19,53.70 L638.56,53.86 L638.93,54.01 L639.30,54.17 L639.67,54.33 L640.03,54.49 L640.40,54.65 L640.76,54.82 L641.12,54.99 L641.49,55.15 L641.86,55.32 L642.23,55.49 L642.60,55.67 L642.97,55.84 L643.34,56.02 L643.71,56.20 L644.08,56.38 L644.44,56.56 L644.80,56.75 L645.16,56.94 L645.52,57.14 L645.87,57.34 L646.21,57.54 L646.55,57.75 L646.88,57.96 L647.21,58.18 L647.53,58.41 L647.84,58.63 L648.14,58.87 L648.43,59.11 L648.71,59.36 L648.98,59.63 L649.25,59.92 L649.51,60.21 L649.76,60.52 L650.01,60.83 L650.25,61.15 L650.49,61.48 L650.73,61.81 L650.97,62.14 L651.21,62.48 L651.44,62.81 L651.68,63.15 L651.92,63.48 L652.17,63.80 L652.42,64.12 L652.67,64.44 L652.94,64.74 L653.20,65.04 L653.47,65.33 L653.75,65.62 L654.03,65.90 L654.32,66.19 L654.60,66.47 L654.89,66.75 L655.17,67.03 L655.46,67.32 L655.75,67.60 L656.03,67.88 L656.31,68.17 L656.58,68.46 L656.85,68.75 L657.12,69.05 L657.38,69.35 L657.63,69.66 L657.88,69.97 L658.13,70.28 L658.37,70.60 L658.61,70.91 L658.86,71.23 L659.10,71.56 L659.33,71.88 L659.57,72.21 L659.80,72.54 L660.02,72.87 L660.25,73.20 L660.47,73.54 L660.69,73.88 L660.90,74.21 L661.11,74.55 L661.32,74.89 L661.52,75.24 L661.72,75.58 L661.92,75.93 L662.11,76.27 L662.30,76.63 L662.49,76.98 L662.68,77.33 L662.86,77.69 L663.04,78.05 L663.22,78.41 L663.39,78.77 L663.57,79.13 L663.74,79.50 L663.90,79.86 L664.07,80.23 L664.23,80.59 L664.38,80.96 L664.54,81.33 L664.68,81.70 L664.83,82.07 L664.96,82.45 L665.10,82.82 L665.23,83.20 L665.37,83.58 L665.50,83.96 L665.63,84.34 L665.77,84.71 L665.90,85.09 L666.05,85.46 L666.19,85.83 L666.34,86.21 L666.49,86.58 L666.64,86.95 L666.80,87.31 L666.95,87.68 L667.11,88.05 L667.27,88.42 L667.43,88.79 L667.59,89.15 L667.75,89.52 L667.90,89.89 L668.06,90.26 L668.22,90.62 L668.38,90.99 L668.53,91.36 L668.69,91.73 L668.84,92.10 L668.99,92.47 L669.14,92.84 L669.29,93.21 L669.44,93.58 L669.59,93.95 L669.74,94.33 L669.89,94.70 L670.04,95.07 L670.19,95.44 L670.34,95.81 L670.49,96.18 L670.64,96.55 L670.78,96.93 L670.93,97.30 L671.08,97.67 L671.23,98.04 L671.37,98.42 L671.52,98.79 L671.66,99.16 L671.80,99.54 L671.94,99.91 L672.08,100.29 L672.22,100.66 L672.36,101.04 L672.49,101.42 L672.62,101.79 L672.75,102.17 L672.88,102.55 L673.01,102.93 L673.14,103.30 L673.26,103.68 L673.38,104.06 L673.50,104.45 L673.62,104.83 L673.73,105.21 L673.85,105.59 L673.96,105.98 L674.07,106.36 L674.18,106.75 L674.29,107.13 L674.40,107.52 L674.50,107.90 L674.61,108.29 L674.71,108.67 L674.82,109.06 L674.92,109.45 L675.03,109.83 L675.13,110.22 L675.23,110.61 L675.34,110.99 L675.44,111.38 L675.54,111.77 L675.65,112.15 L675.75,112.54 L675.85,112.93 L675.96,113.31 L676.06,113.70 L676.16,114.09 L676.26,114.47 L676.36,114.86 L676.46,115.25 L676.56,115.64 L676.66,116.02 L676.76,116.41 L676.86,116.80 L676.96,117.19 L677.05,117.57 L677.15,117.96 L677.25,118.35 L677.35,118.74 L677.45,119.12 L677.54,119.51 L677.64,119.90 L677.74,120.29 L677.83,120.68 L677.93,121.07 L678.02,121.45 L678.12,121.84 L678.22,122.23 L678.31,122.62 L678.41,123.01 L678.50,123.40 L678.60,123.78 L678.69,124.17 L678.79,124.56 L678.89,124.95 L678.98,125.34 L679.08,125.73 L679.17,126.12 L679.27,126.50 L679.36,126.89 L679.46,127.28 L679.55,127.67 L679.65,128.06 L679.74,128.45 L679.84,128.84 L679.94,129.22 L680.03,129.61 L680.13,130.00 L680.22,130.39 L680.32,130.78 L680.42,131.16 L680.51,131.55 L680.61,131.94 L680.71,132.33 L680.81,132.72 L680.91,133.10 L681.01,133.49 L681.11,133.88 L681.21,134.27 L681.32,134.65 L681.42,135.04 L681.53,135.43 L681.63,135.81 L681.74,136.20 L681.84,136.59 L681.94,136.97 L682.04,137.36 L682.15,137.75 L682.24,138.14 L682.34,138.53 L682.44,138.91 L682.53,139.30 L682.62,139.69 L682.71,140.08 L682.79,140.47 L682.87,140.86 L682.95,141.25 L683.03,141.64 L683.10,142.04 L683.17,142.43 L683.23,142.82 L683.30,143.22 L683.36,143.61 L683.42,144.01 L683.48,144.40 L683.54,144.80 L683.59,145.19 L683.65,145.59 L683.70,145.99 L683.75,146.38 L683.81,146.78 L683.86,147.18 L683.91,147.58 L683.96,147.97 L684.01,148.37 L684.07,148.77 L684.12,149.16 L684.17,149.56 L684.23,149.96 L684.28,150.35 L684.34,150.75 L684.40,151.15 L684.46,151.54 L684.52,151.94 L684.59,152.33 L684.65,152.73 L684.72,153.12 L684.79,153.51 L684.87,153.91 L684.94,154.30 L685.02,154.69 L685.10,155.08 L685.19,155.47 L685.27,155.86 L685.35,156.26 L685.44,156.65 L685.53,157.04 L685.61,157.43 L685.70,157.82 L685.79,158.21 L685.87,158.60 L685.96,158.99 L686.04,159.38 L686.13,159.77 L686.21,160.16 L686.29,160.56 L686.37,160.95 L686.45,161.34 L686.52,161.73 L686.60,162.13 L686.67,162.52 L686.75,162.91 L686.82,163.30 L686.90,163.70 L686.97,164.09 L687.04,164.48 L687.12,164.88 L687.19,165.27 L687.26,165.66 L687.33,166.06 L687.40,166.45 L687.48,166.85 L687.55,167.24 L687.62,167.63 L687.69,168.03 L687.76,168.42 L687.83,168.81 L687.90,169.21 L687.97,169.60 L688.04,170.00 L688.11,170.39 L688.17,170.78 L688.24,171.18 L688.31,171.57 L688.38,171.97 L688.45,172.36 L688.52,172.75 L688.59,173.15 L688.66,173.54 L688.72,173.94 L688.79,174.33 L688.86,174.73 L688.92,175.12 L688.99,175.52 L689.05,175.91 L689.11,176.31 L689.17,176.70 L689.23,177.10 L689.29,177.50 L689.35,177.89 L689.41,178.29 L689.47,178.68 L689.53,179.08 L689.59,179.48 L689.65,179.87 L689.71,180.27 L689.77,180.67 L689.83,181.06 L689.89,181.46 L689.96,181.85 L690.02,182.25 L690.08,182.64 L690.15,183.04 L690.21,183.43 L690.28,183.83 L690.35,184.22 L690.41,184.61 L690.49,185.01 L690.56,185.40 L690.63,185.79 L690.71,186.18 L690.79,186.58 L690.87,186.97 L690.95,187.36 L691.03,187.74 L691.12,188.13 L691.22,188.52 L691.32,188.91 L691.42,189.29 L691.53,189.68 L691.65,190.06 L691.76,190.44 L691.88,190.83 L691.99,191.21 L692.11,191.59 L692.23,191.98 L692.35,192.36 L692.46,192.74 L692.58,193.13 L692.69,193.51 L692.79,193.90 L692.90,194.28 L693.00,194.67 L693.09,195.06 L693.19,195.45 L693.29,195.84 L693.38,196.22 L693.47,196.61 L693.57,197.00 L693.66,197.39 L693.75,197.78 L693.84,198.17 L693.93,198.56 L694.02,198.95 L694.11,199.34 L694.20,199.73 L694.29,200.12 L694.38,200.51 L694.47,200.90 L694.56,201.29 L694.65,201.68 L694.74,202.07 L694.84,202.46 L694.93,202.85 L695.02,203.24 L695.11,203.63 L695.20,204.02 L695.28,204.41 L695.37,204.80 L695.45,205.19 L695.52,205.58 L695.60,205.98 L695.67,206.37 L695.74,206.76 L695.81,207.16 L695.88,207.55 L695.94,207.95 L696.01,208.34 L696.07,208.74 L696.14,209.13 L696.20,209.53 L696.25,209.93 L696.31,210.32 L696.36,210.72 L696.41,211.12 L696.45,211.51 L696.49,211.91 L696.53,212.31 L696.56,212.70 L696.60,213.10 L696.64,213.50 L696.67,213.90 L696.70,214.30 L696.74,214.70 L696.77,215.09 L696.80,215.49 L696.83,215.89 L696.85,216.29 L696.88,216.69 L696.90,217.09 L696.92,217.49 L696.94,217.89 L696.96,218.29 L696.98,218.69 L696.99,219.09 L697.00,219.49 L697.00,219.60" stroke="#ff4500" stroke-dasharray="1.45 1.45"/>
<path d="M410.10,219.60 L410.82,219.00 L411.54,218.41 L412.26,217.81 L412.98,217.21 L413.70,216.61 L414.42,216.00 L415.14,215.40 L415.86,214.79 L416.58,214.19 L417.30,213.58 L418.02,212.97 L418.74,212.36 L419.46,211.75 L420.18,211.14 L420.90,210.53 L421.62,209.91 L422.35,209.30 L423.07,208.68 L423.79,208.07 L424.51,207.45 L425.23,206.83 L425.95,206.21 L426.67,205.59 L427.39,204.97 L428.11,204.34 L428.83,203.72 L429.55,203.09 L430.27,202.47 L430.99,201.84 L431.71,201.21 L432.43,200.58 L433.15,199.95 L433.87,199.32 L434.59,198.69 L435.31,198.05 L436.03,197.42 L436.75,196.79 L437.47,196.15 L438.19,195.51 L438.91,194.88 L439.63,194.24 L440.35,193.60 L441.07,192.96 L441.79,192.32 L442.51,191.68 L443.23,191.03 L443.95,190.39 L444.67,189.75 L445.39,189.10 L446.12,188.46 L446.84,187.81 L447.56,187.16 L448.28,186.51 L449.00,185.87 L449.72,185.22 L450.44,184.57 L451.16,183.92 L451.88,183.26 L452.60,182.61 L453.32,181.96 L454.04,181.31 L454.76,180.65 L455.48,180.00 L456.20,179.34 L456.92,178.69 L457.64,178.03 L458.36,177.37 L459.08,176.71 L459.80,176.06 L460.52,175.40 L461.24,174.74 L461.96,174.08 L462.68,173.42 L463.40,172.76 L464.12,172.09 L464.84,171.43 L465.56,170.77 L466.28,170.11 L467.00,169.44 L467.72,168.78 L468.44,168.12 L469.16,167.45 L469.88,166.79 L470.61,166.12 L471.33,165.46 L472.05,164.79 L472.77,164.12 L473.49,163.46 L474.21,162.79 L474.93,162.12 L475.65,161.46 L476.37,160.79 L477.09,160.12 L477.81,159.45 L478.53,158.78 L479.25,158.11 L479.97,157.45 L480.69,156.78 L481.41,156.11 L482.13,155.44 L482.85,154.77 L483.57,154.10 L484.29,153.43 L485.01,152.76 L485.73,152.09 L486.45,151.42 L487.17,150.75 L487.89,150.08 L488.61,149.41 L489.33,148.74 L490.05,148.07 L490.77,147.40 L491.49,146.73 L492.21,146.06 L492.93,145.39 L493.65,144.72 L494.38,144.06 L495.10,143.39 L495.82,142.72 L496.54,142.05 L497.26,141.38 L497.98,140.71 L498.70,140.05 L499.42,139.38 L500.14,138.71 L500.86,138.04 L501.58,137.38 L502.30,136.71 L503.02,136.05 L503.74,135.38 L504.46,134.72 L505.18,134.05 L505.90,133.39 L506.62,132.72 L507.34,132.06 L508.06,131.40 L508.78,130.74 L509.50,130.08 L510.22,129.42 L510.94,128.76 L511.66,128.10 L512.38,127.44 L513.10,126.78 L513.82,126.12 L514.54,125.47 L515.26,124.81 L515.98,124.16 L516.70,123.50 L517.42,122.85 L518.15,122.20 L518.87,121.54 L519.59,120.89 L520.31,120.24 L521.03,119.60 L521.75,118.95 L522.47,118.30 L523.19,117.66 L523.91,117.01 L524.63,116.37 L525.35,115.73 L526.07,115.09 L526.79,114.45 L527.51,113.81 L528.23,113.17 L528.95,112.54 L529.67,111.90 L530.39,111.27 L531.11,110.64 L531.83,110.01 L532.55,109.38 L533.27,108.75 L533.99,108.13 L534.71,107.51 L535.43,106.88 L536.15,106.26 L536.87,105.64 L537.59,105.03 L538.31,104.41 L539.03,103.80 L539.75,103.19 L540.47,102.58 L541.19,101.97 L541.92,101.36 L542.64,100.76 L543.36,100.16 L544.08,99.56 L544.80,98.96 L545.52,98.37 L546.24,97.77 L546.96,97.18 L547.68,96.59 L548.40,96.01 L549.12,95.42 L549.84,94.84 L550.56,94.26 L551.28,93.69 L552.00,93.11 L552.72,92.54 L553.44,91.97 L554.16,91.41 L554.88,90.84 L555.60,90.28 L556.32,89.72 L557.04,89.17 L557.76,88.62 L558.48,88.07 L559.20,87.52 L559.92,86.98 L560.64,86.44 L561.36,85.91 L562.08,85.37 L562.80,84.84 L563.52,84.32 L564.24,83.79 L564.96,83.28 L565.68,82.76 L566.41,82.25 L567.13,81.74 L567.85,81.23 L568.57,80.73 L569.29,80.24 L570.01,79.74 L570.73,79.25 L571.45,78.77 L572.17,78.29 L572.89,77.81 L573.61,77.34 L574.33,76.87 L575.05,76.41 L575.77,75.95 L576.49,75.49 L577.21,75.04 L577.93,74.59 L578.65,74.15 L579.37,73.72 L580.09,73.28 L580.81,72.86 L581.53,72.44 L582.25,72.02 L582.97,71.61 L583.69,71.20 L584.41,70.80 L585.13,70.40 L585.85,70.01 L586.57,69.63 L587.29,69.25 L588.01,68.88 L588.73,68.51 L589.45,68.15 L590.18,67.79 L590.90,67.44 L591.62,67.09 L592.34,66.76 L593.06,66.42 L593.78,66.10 L594.50,65.78 L595.22,65.47 L595.94,65.16 L596.66,64.86 L597.38,64.57 L598.10,64.28 L598.82,64.00 L599.54,63.73 L600.26,63.47 L600.98,63.21 L601.70,62.96 L602.42,62.71 L603.14,62.48 L603.86,62.25 L604.58,62.03 L605.30,61.82 L606.02,61.61 L606.74,61.41 L607.46,61.23 L608.18,61.05 L608.90,60.87 L609.62,60.71 L610.34,60.55 L611.06,60.40 L611.78,60.27 L612.50,60.14 L613.22,60.02 L613.95,59.90 L614.67,59.80 L615.39,59.71 L616.11,59.62 L616.83,59.55 L617.55,59.48 L618.27,59.43 L618.99,59.38 L619.71,59.34 L620.43,59.32 L621.15,59.30 L621.87,59.30 L622.59,59.30 L623.31,59.31 L624.03,59.34 L624.75,59.38 L625.47,59.42 L626.19,59.48 L626.91,59.55 L627.63,59.63 L628.35,59.73 L629.07,59.83 L629.79,59.95 L630.51,60.07 L631.23,60.21 L631.95,60.37 L632.67,60.53 L633.39,60.71 L634.11,60.90 L634.83,61.10 L635.55,61.32 L636.27,61.54 L636.99,61.79 L637.72,62.04 L638.44,62.31 L639.16,62.60 L639.88,62.90 L640.60,63.21 L641.32,63.54 L642.04,63.88 L642.76,64.24 L643.48,64.61 L644.20,65.00 L644.92,65.41 L645.64,65.83 L646.36,66.27 L647.08,66.72 L647.80,67.19 L648.52,67.68 L649.24,68.19 L649.96,68.72 L650.68,69.26 L651.40,69.82 L652.12,70.41 L652.84,71.01 L653.56,71.63 L654.28,72.27 L655.00,72.94 L655.72,73.63 L656.44,74.33 L657.16,75.07 L657.88,75.82 L658.60,76.60 L659.32,77.40 L660.04,78.23 L660.76,79.08 L661.48,79.96 L662.21,80.87 L662.93,81.81 L663.65,82.77 L664.37,83.77 L665.09,84.80 L665.81,85.86 L666.53,86.95 L667.25,88.08 L667.97,89.24 L668.69,90.44 L669.41,91.68 L670.13,92.96 L670.85,94.28 L671.57,95.64 L672.29,97.05 L673.01,98.50 L673.73,100.01 L674.45,101.57 L675.17,103.18 L675.89,104.85 L676.61,106.57 L677.33,108.37 L678.05,110.22 L678.77,112.15 L679.49,114.15 L680.21,116.23 L680.93,118.40 L681.65,120.65 L682.37,123.00 L683.09,125.45 L683.81,128.01 L684.53,130.68 L685.25,133.48 L685.98,136.41 L686.70,139.49 L687.42,142.73 L688.14,146.15 L688.86,149.75 L689.58,153.56 L690.30,157.61 L691.02,161.90 L691.74,166.49 L692.46,171.39 L693.18,176.65 L693.90,182.33 L694.62,188.47 L695.34,195.16 L696.06,202.50 L696.78,210.59 L697.50,219.60" stroke="#000000" stroke-dasharray="5.5 3.2"/>
</g>
<path d="M410.10,219.6v-1.4M410.10,16.7v1.4M419.08,219.6v-2.5M419.08,16.7v2.5M428.06,219.6v-1.4M428.06,16.7v1.4M437.04,219.6v-1.4M437.04,16.7v1.4M446.02,219.6v-1.4M446.02,16.7v1.4M455.01,219.6v-1.4M455.01,16.7v1.4M463.99,219.6v-2.5M463.99,16.7v2.5M472.97,219.6v-1.4M472.97,16.7v1.4M481.95,219.6v-1.4M481.95,16.7v1.4M490.93,219.6v-1.4M490.93,16.7v1.4M499.91,219.6v-1.4M499.91,16.7v1.4M508.89,219.6v-2.5M508.89,16.7v2.5M517.88,219.6v-1.4M517.88,16.7v1.4M526.86,219.6v-1.4M526.86,16.7v1.4M535.84,219.6v-1.4M535.84,16.7v1.4M544.82,219.6v-1.4M544.82,16.7v1.4M553.80,219.6v-2.5M553.80,16.7v2.5M562.78,219.6v-1.4M562.78,16.7v1.4M571.76,219.6v-1.4M571.76,16.7v1.4M580.74,219.6v-1.4M580.74,16.7v1.4M589.73,219.6v-1.4M589.73,16.7v1.4M598.71,219.6v-2.5M598.71,16.7v2.5M607.69,219.6v-1.4M607.69,16.7v1.4M616.67,219.6v-1.4M616.67,16.7v1.4M625.65,219.6v-1.4M625.65,16.7v1.4M634.63,219.6v-1.4M634.63,16.7v1.4M643.61,219.6v-2.5M643.61,16.7v2.5M652.59,219.6v-1.4M652.59,16.7v1.4M661.58,219.6v-1.4M661.58,16.7v1.4M670.56,219.6v-1.4M670.56,16.7v1.4M679.54,219.6v-1.4M679.54,16.7v1.4M688.52,219.6v-2.5M688.52,16.7v2.5M697.50,219.6v-1.4M697.50,16.7v1.4M410.1,219.60h2.5M697.4,219.60h-2.5M410.1,212.84h1.4M697.4,212.84h-1.4M410.1,206.07h1.4M697.4,206.07h-1.4M410.1,199.31h1.4M697.4,199.31h-1.4M410.1,192.54h1.4M697.4,192.54h-1.4M410.1,185.78h2.5M697.4,185.78h-2.5M410.1,179.02h1.4M697.4,179.02h-1.4M410.1,172.25h1.4M697.4,172.25h-1.4M410.1,165.49h1.4M697.4,165.49h-1.4M410.1,158.72h1.4M697.4,158.72h-1.4M410.1,151.96h2.5M697.4,151.96h-2.5M410.1,145.20h1.4M697.4,145.20h-1.4M410.1,138.43h1.4M697.4,138.43h-1.4M410.1,131.67h1.4M697.4,131.67h-1.4M410.1,124.90h1.4M697.4,124.90h-1.4M410.1,118.14h2.5M697.4,118.14h-2.5M410.1,111.38h1.4M697.4,111.38h-1.4M410.1,104.61h1.4M697.4,104.61h-1.4M410.1,97.85h1.4M697.4,97.85h-1.4M410.1,91.08h1.4M697.4,91.08h-1.4M410.1,84.32h2.5M697.4,84.32h-2.5M410.1,77.56h1.4M697.4,77.56h-1.4M410.1,70.79h1.4M697.4,70.79h-1.4M410.1,64.03h1.4M697.4,64.03h-1.4M410.1,57.26h1.4M697.4,57.26h-1.4M410.1,50.50h2.5M697.4,50.50h-2.5M410.1,43.74h1.4M697.4,43.74h-1.4M410.1,36.97h1.4M697.4,36.97h-1.4M410.1,30.21h1.4M697.4,30.21h-1.4M410.1,23.44h1.4M697.4,23.44h-1.4M410.1,16.68h2.5M697.4,16.68h-2.5" stroke="#000" stroke-width="0.55" fill="none"/>
<rect x="410.25" y="16.7" width="287.10" height="202.9" fill="none" stroke="#000" stroke-width="0.7"/>
<text x="419.1" y="238.4" text-anchor="middle">-3</text>
<text x="464.0" y="238.4" text-anchor="middle">-2</text>
<text x="508.9" y="238.4" text-anchor="middle">-1</text>
<text x="555.4" y="238.4" text-anchor="middle">0</text>
<text x="600.3" y="238.4" text-anchor="middle">1</text>
<text x="645.2" y="238.4" text-anchor="middle">2</text>
<text x="690.1" y="238.4" text-anchor="middle">3</text>
<text x="401.6" y="224.6" text-anchor="end">0.0</text>
<text x="401.6" y="190.8" text-anchor="end">0.1</text>
<text x="401.6" y="157.0" text-anchor="end">0.2</text>
<text x="401.6" y="123.1" text-anchor="end">0.3</text>
<text x="401.6" y="89.3" text-anchor="end">0.4</text>
<text x="401.6" y="55.5" text-anchor="end">0.5</text>
<text x="401.6" y="21.7" text-anchor="end">0.6</text>
<text x="553.2" y="259.0" text-anchor="middle">z (fm)</text>
<text transform="translate(16.7,132.4) rotate(-90)">P/P<tspan font-size="11" dy="4.3">0</tspan></text>
<text transform="translate(367,121.5) rotate(-90)">v</text>
<text x="116" y="185.5">t = 3.2 fm/c</text>
<text x="289" y="30.6" text-anchor="end">ideal hydro</text>
<path d="M297.3,25.5H332.7" stroke="#00ff00" stroke-width="1.75" fill="none"/>
<text x="289" y="44.4" text-anchor="end">BAMPS: <tspan class="sym">η</tspan>/s = 0.001</text>
<path d="M297.3,39.33H332.7" stroke="#ff0000" stroke-width="1.75" fill="none" stroke-dasharray="8.5 2.5 1.5 2.5 1.5 2.8" stroke-dashoffset="15.4"/>
<text x="289" y="58.3" text-anchor="end">BAMPS: <tspan class="sym">η</tspan>/s = 0.05</text>
<path d="M297.3,53.16H332.7" stroke="#ff00ff" stroke-width="1.75" fill="none" stroke-dasharray="2.7 2.1 3.6 1.6 4 2.1 3.6 5.3 3 2.1 3.2 99" stroke-dashoffset="0"/>
<text x="289" y="72.1" text-anchor="end">BAMPS: <tspan class="sym">η</tspan>/s = 0.1</text>
<path d="M297.3,67.0H332.7" stroke="#0000ff" stroke-width="1.75" fill="none" stroke-dasharray="8.9 1.9 1.8 2.4" stroke-dashoffset="0"/>
<text x="289" y="85.9" text-anchor="end">BAMPS: <tspan class="sym">η</tspan>/s = 0.5</text>
<path d="M297.3,80.82H332.7" stroke="#ff4500" stroke-width="1.75" fill="none" stroke-dasharray="1.4 1.34" stroke-dashoffset="0"/>
<text x="289" y="99.8" text-anchor="end">free streaming</text>
<path d="M297.3,94.65H332.7" stroke="#000000" stroke-width="1.75" fill="none" stroke-dasharray="5.5 3.2" stroke-dashoffset="0"/>
</g>
</svg>
</body></html>
